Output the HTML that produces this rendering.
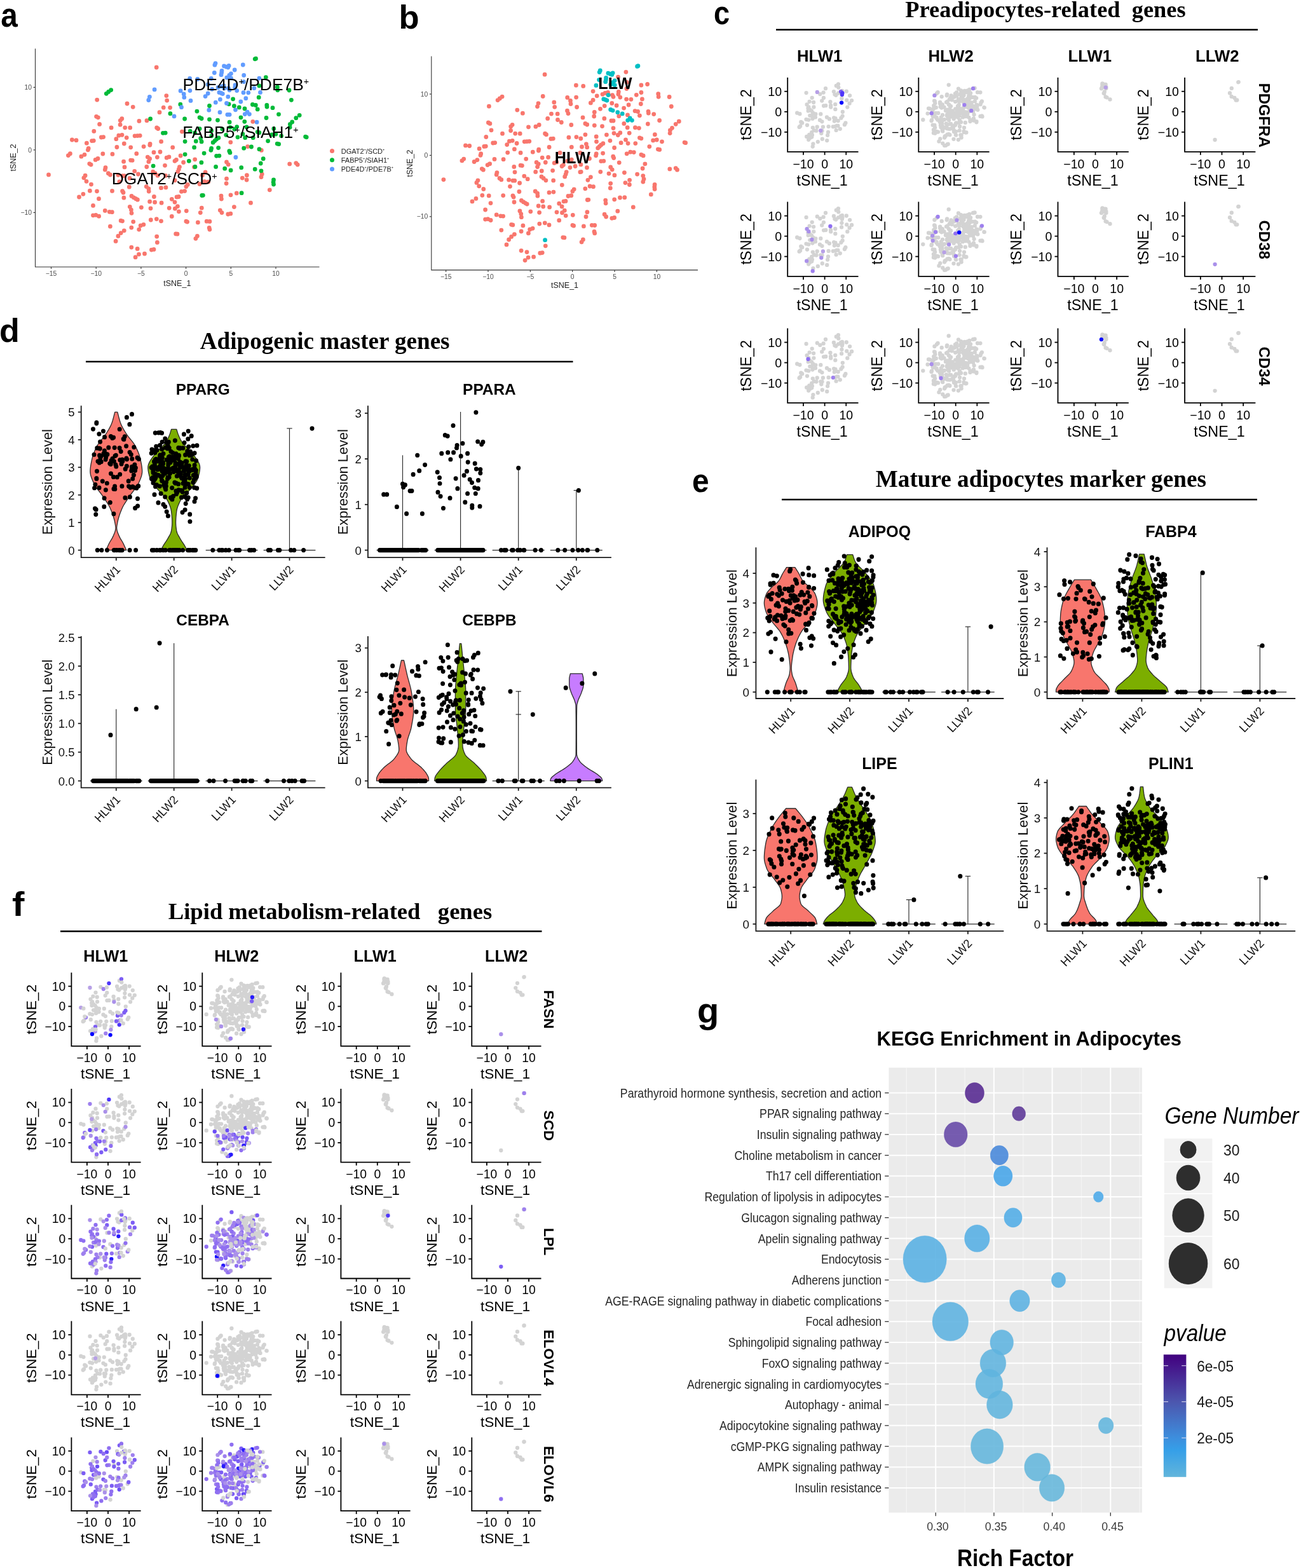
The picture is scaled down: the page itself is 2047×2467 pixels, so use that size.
<!DOCTYPE html>
<html lang="en">
<head>
<meta charset="utf-8">
<title>Figure</title>
<style>
html,body{margin:0;padding:0;background:#fff;}
body{width:2047px;height:2467px;overflow:hidden;font-family:"Liberation Sans",Arial,sans-serif;}
svg{display:block;}
text{white-space:pre;}
</style>
</head>
<body>
<svg width="2047" height="2467" viewBox="0 0 2047 2467" role="img" aria-label="Figure with panels a to g" font-family="'Liberation Sans', Arial, sans-serif">
<rect x="0" y="0" width="2047" height="2467" fill="#fff" />
<text x="1.2" y="42" font-size="53" font-weight="bold" fill="#000" textLength="26.53" lengthAdjust="spacingAndGlyphs">a</text>
<path d="M246.2 106h0M152.7 157.1h0M261.8 150.6h0M262.7 158.1h0M200 163h0M209.2 168.3h0M257.2 169.2h0M267.6 169.3h0M251 176.7h0M151.6 183.3h0M154.3 184.8h0M191.8 186.7h0M189.3 189.6h0M231 189.7h0M218.9 190.4h0M156.6 195.4h0M189.1 196.2h0M175.1 200.9h0M196.7 200.8h0M204.7 200.9h0M246.7 200.9h0M248.7 202.5h0M147.8 206.4h0M186.8 213.2h0M192 212.3h0M212.1 213.8h0M216.2 213.6h0M220.2 213.3h0M159.4 216h0M162.6 215.6h0M199.2 216.6h0M182.8 218.7h0M113.4 220h0M120 220.7h0M144.6 221.6h0M147.3 221.3h0M136.4 225.2h0M195.3 226h0M253.6 222.7h0M236.1 226.5h0M235.8 228.3h0M226.1 230.6h0M183.9 231.5h0M205.7 231.8h0M139.2 233.5h0M138.4 235.8h0M252 239h0M242 239.7h0M397.8 191.3h0M286.4 207.1h0M362.8 223.8h0M271.7 231.9h0M389.7 230.6h0M411.3 236.4h0M110.4 241.7h0M107.4 244.6h0M161.8 242h0M176.9 242.4h0M214.8 241.7h0M133 243.3h0M127.9 246.2h0M232.3 247.1h0M235.6 249.7h0M233.9 254.4h0M247.4 247.3h0M262.2 248.2h0M154 249.5h0M150.2 251.4h0M205.7 252.1h0M208.1 252.4h0M194.6 254.2h0M140.8 257.6h0M143.1 259.1h0M259.5 260.3h0M230.8 262.5h0M196 262.9h0M166 263.7h0M165.3 266.9h0M211.7 269.3h0M217.5 274h0M240.7 270.1h0M244 272.7h0M248.1 276.2h0M260.6 276.3h0M170.4 272.7h0M173.4 275h0M185.9 275.3h0M192.9 276.6h0M195.6 276.6h0M76.5 274.9h0M134.1 276.2h0M131.9 279.8h0M136 285.3h0M204.1 280.4h0M187.9 285.9h0M143.5 290.1h0M203.3 294.2h0M230.3 293.6h0M233.9 297h0M234.2 301.1h0M253.5 295.7h0M260.9 294.9h0M141.4 300.2h0M152.5 300.8h0M176.5 300.4h0M192.6 300.7h0M194 303h0M130.9 305.3h0M124.5 310h0M207 308.4h0M210.4 310.8h0M213.8 312.7h0M216.4 314.2h0M242.4 309.5h0M194.9 311.2h0M155.5 312.7h0M235.6 317.2h0M243.6 318.2h0M254.1 319.2h0M270.3 313.3h0M146.5 323.4h0M204.3 325.3h0M206.4 330.1h0M207 335.3h0M222.4 326.3h0M237 327.8h0M266.2 327.3h0M165.3 331.4h0M172.3 333.3h0M176.3 333.7h0M146.5 338.8h0M150.8 338.3h0M155.6 340.2h0M270.3 340.4h0M246.3 344.6h0M237.3 346h0M253.5 347.8h0M190.2 347.2h0M192.5 347.8h0M209.7 348.8h0M225.9 353.3h0M221.2 354.9h0M173.4 356.2h0M206.8 358.1h0M218.7 361.1h0M195.3 362.8h0M190.2 366.6h0M185.9 371.4h0M182.1 379.4h0M246.7 372.1h0M247.4 381.4h0M206.8 389.1h0M216.2 391.4h0M238.4 393.1h0M242 392.4h0M218.5 400.1h0M227.5 399.2h0M213.1 404.7h0M284.1 245h0M265.9 246.9h0M277.4 251.4h0M275 253.3h0M306.7 250.8h0M288.6 255.5h0M356.5 254.9h0M359.2 258.8h0M455.7 257.9h0M465.8 256.6h0M468.2 259.1h0M305.6 262.8h0M282.5 262.6h0M281.4 266.2h0M279.8 270.1h0M412.2 274h0M411 278.5h0M323.1 270.9h0M318.4 275.7h0M388.4 275.7h0M381.3 280.1h0M388.1 283h0M356.5 281.1h0M356.1 288.6h0M275.1 283.7h0M321.8 285.6h0M327.6 286.2h0M314 289.5h0M295.3 290.5h0M292.9 293.6h0M424.3 298.8h0M285.5 301.3h0M290.6 300.6h0M372.3 303.9h0M363 306.8h0M348 308.2h0M348.4 313h0M278.1 309.9h0M281.1 309.5h0M275 318.1h0M394.5 319.2h0M368.4 325.6h0M279.4 324.6h0M275.4 328.2h0M317.3 327.2h0M315.3 334.6h0M281.4 332.8h0M293.3 331.8h0M346.3 330.8h0M349 334.6h0M358.8 337h0M362.8 336.2h0M292.9 348.2h0M294.6 349.1h0M311.4 349.9h0M325.2 348.2h0M329.9 348.4h0M329.2 358.5h0M329.9 361.1h0M276.7 367.9h0M279 368.2h0M310.4 371.4h0M307.9 375.3h0" stroke="#F8766D" stroke-width="6.8" stroke-linecap="round" fill="none" />
<path d="M174.7 141.6h0M170.7 144.4h0M167.3 147.3h0M267.9 178.7h0M236.6 187h0M256.5 209.3h0M260.2 209.1h0M402.5 92.2h0M401.2 92.8h0M360.1 163.8h0M368.4 166.7h0M376.3 168.9h0M418.3 121.6h0M407.9 134.9h0M436.4 137.1h0M436.8 141.8h0M455 142h0M366.6 155.8h0M407.2 153.2h0M458.4 157.3h0M283.8 164.2h0M397.4 164.5h0M402.3 165.5h0M405.2 171.9h0M419.8 165.5h0M420 168h0M429 169.7h0M329.5 166.5h0M385 171h0M309.9 175.1h0M438.5 179.8h0M471.2 181.3h0M465.8 185.7h0M379 184.8h0M419 185.5h0M290.6 187h0M314.1 184.8h0M317.1 186.5h0M329.5 187.8h0M342.5 189.1h0M384.8 191.3h0M361.1 192.2h0M459.7 191.9h0M456.4 195.5h0M456.1 200.3h0M372.7 199.6h0M362.2 200.3h0M368.9 203.3h0M388 200h0M349.8 202.9h0M314.1 202.6h0M430.8 202.5h0M332.6 205.7h0M299.2 206.5h0M306.6 208.9h0M405.2 207.6h0M407.9 208.7h0M381.9 210.9h0M355.7 212.3h0M427.8 211.9h0M433.9 211h0M442.6 213.8h0M332.8 213.8h0M374 215.8h0M385.7 216.7h0M398.2 216.7h0M480.6 215.1h0M482.2 215.8h0M315.7 217.7h0M317.1 222.9h0M344 216.8h0M340.6 219h0M337.9 221.6h0M335.2 224.2h0M291.1 222.6h0M308.3 222.2h0M421.6 221.8h0M436.2 226.1h0M438.6 226.7h0M332.6 233.5h0M343.6 232.6h0M383.7 233.2h0M395.5 231h0M407.9 234.7h0M360.8 237.7h0M305.6 231.9h0M241.1 261.1h0M331.9 236.3h0M361.9 240.2h0M321.1 241.1h0M291.1 242.8h0M340.6 245.3h0M344.9 245.1h0M414.2 249.7h0M297.3 253.3h0M316.9 255.7h0M410.2 257h0M339.6 262.4h0M307 262.4h0M379.7 263.7h0M353.7 265.2h0M363.1 267.9h0M401.2 266.2h0M411 268.8h0M430.5 283h0M430.1 286.6h0M430.5 290.1h0M380.1 303.7h0M317.8 307.5h0M319.4 307.3h0" stroke="#00BA38" stroke-width="6.8" stroke-linecap="round" fill="none" />
<path d="M243.1 140.9h0M235.4 152.3h0M233.8 157.5h0M339 99.6h0M337.9 102.2h0M352.5 103.9h0M360.1 103.5h0M358.8 106.1h0M356.1 105.2h0M349 111.3h0M348.7 114.2h0M348 117.7h0M337.3 114.5h0M363.5 115.8h0M360.8 118.4h0M356.8 122.2h0M363.5 122.9h0M332.3 123.5h0M344.9 145.4h0M348 146.5h0M350.3 147.6h0M352.7 139h0M356.5 162.5h0M389.1 176.2h0M385.3 179.6h0M392.4 179.6h0M382.3 102h0M369.2 110h0M407.9 123.1h0M298.6 123.3h0M310.8 124.5h0M383.7 118.4h0M383.4 128.7h0M327.2 132.9h0M399.8 138.7h0M343.1 137.7h0M347.4 135.8h0M352.1 134.9h0M352.7 138.4h0M359.5 139h0M361.1 141.8h0M370 133.8h0M369.6 137.7h0M372.7 142.6h0M333.6 140.3h0M284.1 142.9h0M298.9 142.6h0M383 145.7h0M390.8 145.8h0M409.5 145.4h0M327.2 147h0M323.1 151.6h0M289.2 148h0M289.8 153.2h0M358.8 152.2h0M386.8 154.7h0M346.4 156.4h0M339.3 161.2h0M300 158.4h0M378.8 160h0M285.5 168.7h0M328.8 173.2h0M370.5 172.8h0M346 176.7h0M274 182.9h0M357.9 180.3h0M361.1 180.3h0M404.1 192.2h0M370.9 247.5h0" stroke="#619CFF" stroke-width="6.8" stroke-linecap="round" fill="none" />
<path d="M55.5 76.5V420H502.5" stroke="#333" stroke-width="1.1" fill="none" />
<line x1="80.5" y1="420" x2="80.5" y2="423" stroke="#333" stroke-width="1.1" />
<text x="80.5" y="434.2" font-size="10.3" text-anchor="middle" fill="#4d4d4d">−15</text>
<line x1="151.2" y1="420" x2="151.2" y2="423" stroke="#333" stroke-width="1.1" />
<text x="151.2" y="434.2" font-size="10.3" text-anchor="middle" fill="#4d4d4d">−10</text>
<line x1="221.9" y1="420" x2="221.9" y2="423" stroke="#333" stroke-width="1.1" />
<text x="221.9" y="434.2" font-size="10.3" text-anchor="middle" fill="#4d4d4d">−5</text>
<line x1="292.6" y1="420" x2="292.6" y2="423" stroke="#333" stroke-width="1.1" />
<text x="292.6" y="434.2" font-size="10.3" text-anchor="middle" fill="#4d4d4d">0</text>
<line x1="363.3" y1="420" x2="363.3" y2="423" stroke="#333" stroke-width="1.1" />
<text x="363.3" y="434.2" font-size="10.3" text-anchor="middle" fill="#4d4d4d">5</text>
<line x1="434" y1="420" x2="434" y2="423" stroke="#333" stroke-width="1.1" />
<text x="434" y="434.2" font-size="10.3" text-anchor="middle" fill="#4d4d4d">10</text>
<line x1="52.5" y1="334.4" x2="55.5" y2="334.4" stroke="#333" stroke-width="1.1" />
<text x="50" y="338" font-size="10.3" text-anchor="end" fill="#4d4d4d">−10</text>
<line x1="52.5" y1="235.9" x2="55.5" y2="235.9" stroke="#333" stroke-width="1.1" />
<text x="50" y="239.5" font-size="10.3" text-anchor="end" fill="#4d4d4d">0</text>
<line x1="52.5" y1="137.4" x2="55.5" y2="137.4" stroke="#333" stroke-width="1.1" />
<text x="50" y="141" font-size="10.3" text-anchor="end" fill="#4d4d4d">10</text>
<text x="278.8" y="449.8" font-size="12.5" text-anchor="middle" fill="#222">tSNE_1</text>
<text x="24.8" y="248" font-size="12.5" text-anchor="middle" fill="#222" transform="rotate(-90 24.8 248)">tSNE_2</text>
<text x="287.6" y="141.6" font-size="26.4" fill="#000">PDE4D<tspan dy="-8.18" font-size="14.26">+</tspan><tspan dy="8.18">/PDE7B</tspan><tspan dy="-8.18" font-size="14.26">+</tspan></text>
<text x="287.2" y="217.1" font-size="26.4" fill="#000">FABP5<tspan dy="-8.18" font-size="14.26">+</tspan><tspan dy="8.18">/SIAH1</tspan><tspan dy="-8.18" font-size="14.26">+</tspan></text>
<text x="175.8" y="290.4" font-size="26.4" fill="#000">DGAT2<tspan dy="-8.18" font-size="14.26">+</tspan><tspan dy="8.18">/SCD</tspan><tspan dy="-8.18" font-size="14.26">+</tspan></text>
<circle cx="522.5" cy="237.6" r="3.5" fill="#F8766D" />
<text x="536.7" y="241.5" font-size="11" fill="#222">DGAT2<tspan dy="-4.4" font-size="5.5">+</tspan><tspan dy="4.4">/SCD</tspan><tspan dy="-4.4" font-size="5.5">+</tspan></text>
<circle cx="522.5" cy="251.75" r="3.5" fill="#00BA38" />
<text x="536.7" y="255.65" font-size="11" fill="#222">FABP5<tspan dy="-4.4" font-size="5.5">+</tspan><tspan dy="4.4">/SIAH1</tspan><tspan dy="-4.4" font-size="5.5">+</tspan></text>
<circle cx="522.5" cy="265.9" r="3.5" fill="#619CFF" />
<text x="536.7" y="269.8" font-size="11" fill="#222">PDE4D<tspan dy="-4.4" font-size="5.5">+</tspan><tspan dy="4.4">/PDE7B</tspan><tspan dy="-4.4" font-size="5.5">+</tspan></text>
<text x="627.5" y="44.5" font-size="52.5" font-weight="bold" fill="#000" textLength="32.07" lengthAdjust="spacingAndGlyphs">b</text>
<path d="M857.1 117.2h0M854.2 151.5h0M790.1 152.1h0M786.3 154.9h0M783.1 157.6h0M769.4 167.2h0M847 162.6h0M845.5 167.6h0M871.8 160.9h0M872.7 168.3h0M813.8 173.1h0M822.4 178.2h0M867.5 179.1h0M877.2 179.2h0M861.7 186.4h0M877.5 188.5h0M768.4 192.9h0M770.9 194.4h0M806.1 196.3h0M803.7 199.1h0M848.2 196.5h0M842.9 199.2h0M831.5 199.8h0M773 204.8h0M803.6 205.5h0M790.5 210.2h0M810.7 210.1h0M818.2 210.2h0M857.6 210.2h0M859.5 211.7h0M764.8 215.5h0M866.9 218.4h0M870.3 218.1h0M801.4 222.2h0M806.2 221.3h0M825.2 222.8h0M829 222.6h0M832.8 222.3h0M775.7 225h0M778.7 224.6h0M813.1 225.5h0M797.7 227.6h0M732.5 228.9h0M738.7 229.5h0M761.8 230.4h0M764.3 230.1h0M754.1 233.9h0M809.4 234.7h0M864.1 231.5h0M847.7 235.2h0M847.4 237h0M838.3 239.2h0M798.7 240.1h0M819.1 240.4h0M756.7 242h0M756 244.3h0M862.6 247.4h0M853.2 248.1h0M984.9 113.3h0M972.5 121.1h0M1008.9 134h0M1018.6 132.5h0M906.4 134.2h0M917.7 135.4h0M986.2 129.4h0M985.9 139.5h0M933.1 143.6h0M1008.9 145.5h0M1001.3 149.3h0M1035.7 147.7h0M1036.1 152.3h0M1053.1 152.5h0M948 148.3h0M952.1 146.4h0M956.5 145.5h0M957.1 148.9h0M963.5 149.6h0M965 152.3h0M973.3 144.5h0M972.9 148.3h0M975.8 153.1h0M939.2 150.8h0M892.7 153.4h0M906.6 153.1h0M985.6 156.1h0M992.9 156.3h0M1010.4 155.9h0M933.1 157.4h0M929.4 161.9h0M897.5 158.4h0M898 163.5h0M962.8 162.4h0M970.1 166h0M989.1 165h0M1008.3 163.5h0M951.2 166.6h0M944.5 171.3h0M907.6 168.5h0M1056.3 167.5h0M981.6 170.1h0M892.5 174.2h0M894 178.6h0M999.1 174.6h0M1003.6 175.5h0M1006.4 181.8h0M1020 175.5h0M1020.3 178h0M1028.7 179.6h0M935.3 176.5h0M934.7 183h0M987.5 180.9h0M973.8 182.7h0M917 184.9h0M950.8 186.4h0M883.3 192.5h0M961.9 190h0M965 190h0M1037.6 189.5h0M1068.3 191h0M1063.2 195.3h0M981.8 194.4h0M1019.3 195h0M898.8 196.5h0M920.9 194.4h0M923.7 196h0M935.3 197.3h0M947.5 198.6h0M987.2 200.7h0M965 201.6h0M999.4 200.7h0M1005.4 201.6h0M1057.5 201.3h0M1054.4 204.9h0M1054.1 209.6h0M975.8 208.9h0M966 209.6h0M972.3 212.5h0M990.2 209.3h0M954.4 212.1h0M920.9 211.8h0M1030.4 211.7h0M938.2 214.9h0M906.9 215.6h0M894.9 216.2h0M913.8 218h0M1006.4 216.8h0M1008.9 217.8h0M984.5 219.9h0M959.9 221.3h0M1027.6 220.9h0M1033.3 220h0M1041.5 222.8h0M938.5 222.8h0M977.1 224.7h0M988.1 225.6h0M999.8 225.6h0M1077.1 224.1h0M1078.6 224.7h0M922.4 226.6h0M923.7 231.7h0M948.9 225.7h0M945.8 227.9h0M943.2 230.4h0M940.7 232.9h0M899.3 231.4h0M915.5 231h0M1021.8 230.6h0M966.6 232.5h0M1035.4 234.8h0M1037.7 235.4h0M881.1 240.5h0M938.2 242h0M948.6 241.1h0M986.2 241.8h0M991.9 239.2h0M997.3 239.6h0M1008.9 243.3h0M1012.1 244.9h0M964.7 246.2h0M912.9 240.5h0M729.7 250.1h0M726.9 252.9h0M778 250.4h0M792.1 250.7h0M827.7 250.1h0M750.9 251.6h0M746.1 254.5h0M844.1 255.4h0M847.2 257.9h0M845.6 262.5h0M858.3 255.5h0M872.2 256.4h0M770.6 257.7h0M767.1 259.6h0M819.1 260.2h0M821.4 260.6h0M808.8 262.4h0M758.3 265.6h0M760.4 267.2h0M852.3 269h0M869.6 268.3h0M842.7 270.4h0M810 270.8h0M781.9 271.6h0M781.2 274.7h0M824.8 277.1h0M830.2 281.7h0M852 277.9h0M855.1 280.4h0M858.9 283.8h0M870.7 283.9h0M786 280.4h0M788.8 282.7h0M800.6 282.9h0M807.1 284.2h0M809.7 284.2h0M697.9 282.6h0M751.9 283.8h0M749.9 287.4h0M753.7 292.8h0M817.6 288h0M802.5 293.3h0M760.8 297.5h0M816.9 301.5h0M842.2 300.9h0M845.6 304.2h0M845.9 308.2h0M864 302.9h0M870.9 302.1h0M758.8 307.3h0M769.2 307.9h0M791.7 307.6h0M806.9 307.8h0M808.1 310.1h0M748.9 312.4h0M743 316.9h0M820.4 315.4h0M823.5 317.7h0M826.7 319.6h0M829.2 321.1h0M853.6 316.4h0M809 318h0M772 319.6h0M847.2 324h0M854.7 325h0M864.6 325.9h0M879.7 320.2h0M763.6 330h0M817.9 331.9h0M819.8 336.6h0M820.4 341.7h0M834.8 332.8h0M848.6 334.3h0M876 333.8h0M781.2 337.9h0M787.8 339.8h0M791.6 340.1h0M763.6 345.1h0M767.6 344.6h0M772.1 346.5h0M879.7 346.7h0M857.3 350.8h0M848.8 352.1h0M864 353.9h0M804.6 353.3h0M806.8 353.9h0M822.9 354.9h0M838.1 359.3h0M833.7 360.9h0M788.8 362.1h0M820.1 364h0M831.4 366.9h0M809.4 368.6h0M804.6 372.4h0M800.6 377h0M797 384.9h0M858.3 386.8h0M820.1 394.3h0M829 396.6h0M849.8 398.2h0M853.2 397.6h0M831.1 405.1h0M839.6 404.2h0M826.1 409.6h0M937.6 244.8h0M965.7 248.6h0M927.5 249.5h0M899.3 251.1h0M892.7 253.3h0M945.8 253.6h0M949.8 253.4h0M974.2 255.8h0M875.7 255.2h0M1014.9 257.9h0M886.4 259.6h0M884.1 261.5h0M913.9 258.9h0M905.1 261.5h0M896.9 263.6h0M923.5 263.7h0M960.7 263h0M963.2 266.8h0M1011.1 265h0M1053.8 265.9h0M1063.2 264.6h0M1065.5 267.2h0M944.8 270.3h0M914.2 270.3h0M912.9 270.7h0M891.2 270.6h0M890.2 274.1h0M888.7 277.9h0M982.4 271.6h0M958 273.1h0M966.9 275.7h0M1002.6 274.1h0M1011.8 276.6h0M1013 281.7h0M1011.8 286.1h0M929.4 278.6h0M924.9 283.3h0M990.6 283.3h0M983.9 287.6h0M990.4 290.5h0M960.7 288.6h0M960.3 295.9h0M884.3 291.1h0M928.1 293h0M933.5 293.7h0M920.8 296.8h0M1030.1 290.5h0M1029.8 294.1h0M1030.1 297.5h0M903.2 297.8h0M900.9 300.9h0M1024.3 305.9h0M894 308.5h0M898.8 307.7h0M975.5 311h0M982.8 310.7h0M966.7 313.8h0M924.3 314.5h0M925.8 314.3h0M952.7 315.1h0M953.1 319.8h0M887 316.8h0M890 316.4h0M884.1 324.9h0M996.3 325.9h0M971.8 332.2h0M888.3 331.2h0M884.5 334.7h0M923.9 333.7h0M922 341h0M890.2 339.3h0M901.3 338.3h0M951.1 337.2h0M953.6 341h0M962.8 343.3h0M966.6 342.5h0M900.9 354.3h0M902.6 355.2h0M918.4 355.9h0M931.3 354.3h0M935.7 354.5h0M935 364.4h0M935.7 366.9h0M885.8 373.6h0M887.9 373.9h0M917.4 377h0M915.1 380.8h0" stroke="#F8766D" stroke-width="6.8" stroke-linecap="round" fill="none" />
<path d="M1003.9 103.7h0M1002.6 104.4h0M944.3 111h0M943.2 113.6h0M956.9 115.2h0M964.1 114.8h0M962.8 117.4h0M960.3 116.5h0M953.6 122.4h0M953.4 125.3h0M952.7 128.7h0M942.6 125.6h0M967.2 126.8h0M964.7 129.4h0M960.9 133.1h0M967.2 133.8h0M937.9 134.4h0M949.8 155.9h0M952.7 156.9h0M954.9 158h0M957.1 149.6h0M960.7 172.5h0M964.1 173.8h0M971.8 176.7h0M979.2 178.9h0M991.2 185.9h0M987.7 189.3h0M994.4 189.3h0M857.6 377.7h0" stroke="#00BFC4" stroke-width="6.8" stroke-linecap="round" fill="none" />
<path d="M678.8 88.5V424.9H1098" stroke="#333" stroke-width="1.1" fill="none" />
<line x1="701.65" y1="424.9" x2="701.65" y2="427.9" stroke="#333" stroke-width="1.1" />
<text x="701.65" y="439.1" font-size="10.3" text-anchor="middle" fill="#4d4d4d">−15</text>
<line x1="768" y1="424.9" x2="768" y2="427.9" stroke="#333" stroke-width="1.1" />
<text x="768" y="439.1" font-size="10.3" text-anchor="middle" fill="#4d4d4d">−10</text>
<line x1="834.35" y1="424.9" x2="834.35" y2="427.9" stroke="#333" stroke-width="1.1" />
<text x="834.35" y="439.1" font-size="10.3" text-anchor="middle" fill="#4d4d4d">−5</text>
<line x1="900.7" y1="424.9" x2="900.7" y2="427.9" stroke="#333" stroke-width="1.1" />
<text x="900.7" y="439.1" font-size="10.3" text-anchor="middle" fill="#4d4d4d">0</text>
<line x1="967.05" y1="424.9" x2="967.05" y2="427.9" stroke="#333" stroke-width="1.1" />
<text x="967.05" y="439.1" font-size="10.3" text-anchor="middle" fill="#4d4d4d">5</text>
<line x1="1033.4" y1="424.9" x2="1033.4" y2="427.9" stroke="#333" stroke-width="1.1" />
<text x="1033.4" y="439.1" font-size="10.3" text-anchor="middle" fill="#4d4d4d">10</text>
<line x1="675.8" y1="340.8" x2="678.8" y2="340.8" stroke="#333" stroke-width="1.1" />
<text x="673.3" y="344.4" font-size="10.3" text-anchor="end" fill="#4d4d4d">−10</text>
<line x1="675.8" y1="244.4" x2="678.8" y2="244.4" stroke="#333" stroke-width="1.1" />
<text x="673.3" y="248" font-size="10.3" text-anchor="end" fill="#4d4d4d">0</text>
<line x1="675.8" y1="148" x2="678.8" y2="148" stroke="#333" stroke-width="1.1" />
<text x="673.3" y="151.6" font-size="10.3" text-anchor="end" fill="#4d4d4d">10</text>
<text x="888.5" y="453.2" font-size="12.5" text-anchor="middle" fill="#222">tSNE_1</text>
<text x="648.5" y="257" font-size="12.5" text-anchor="middle" fill="#222" transform="rotate(-90 648.5 257)">tSNE_2</text>
<text x="941.3" y="140.2" font-size="25.2" font-weight="bold" fill="#000">LLW</text>
<text x="872.8" y="256.6" font-size="25.2" font-weight="bold" fill="#000">HLW</text>
<text x="1123" y="37.5" font-size="52" font-weight="bold" fill="#000" textLength="25.16" lengthAdjust="spacingAndGlyphs">c</text>
<text x="1645" y="26.7" font-size="36.4" text-anchor="middle" font-weight="bold" font-family="'Liberation Serif', 'Times New Roman', serif" fill="#000">Preadipocytes-related  genes</text>
<line x1="1221" y1="46.8" x2="1979" y2="46.8" stroke="#000" stroke-width="2.6" />
<text x="1289.6" y="97" font-size="25.7" text-anchor="middle" font-weight="bold" fill="#000">HLW1</text>
<text x="1496.1" y="97" font-size="25.7" text-anchor="middle" font-weight="bold" fill="#000">HLW2</text>
<text x="1714.8" y="97" font-size="25.7" text-anchor="middle" font-weight="bold" fill="#000">LLW1</text>
<text x="1915.2" y="97" font-size="25.7" text-anchor="middle" font-weight="bold" fill="#000">LLW2</text>
<path d="M1268.6 146.1h0M1290.3 148.1h0M1277.7 153.8h0M1273.6 159.8h0M1280.1 161h0M1269.6 164.4h0M1272.4 168.4h0M1280.4 168.5h0M1271.5 170.2h0M1274.4 172.6h0M1271.7 174.4h0M1276.9 174.5h0M1319 132.3h0M1315.8 134.9h0M1299 139.2h0M1319.3 137.6h0M1325 143h0M1331.8 143.7h0M1311.9 144.1h0M1295.6 145.6h0M1319.1 146.5h0M1313.4 148.6h0M1315.2 149.8h0M1337.1 150.3h0M1295.9 154h0M1324.4 155h0M1293.2 158.6h0M1332.3 157.6h0M1340.1 158.1h0M1306.4 160.2h0M1336.6 162.7h0M1314.2 164.2h0M1307.1 166h0M1299.2 166.2h0M1296.1 166.5h0M1333.3 168.6h0M1307.2 168.6h0M1314.3 171.9h0M1325.8 176h0M1254.2 177.7h0M1279.1 177.7h0M1258.4 179.2h0M1283.3 179.5h0M1277.5 181.2h0M1274.3 181.8h0M1282.9 184.4h0M1278.4 186.7h0M1290 188.9h0M1268.5 187.8h0M1272.2 188.6h0M1260.3 191.9h0M1262.1 193.4h0M1270 196.8h0M1259.1 198.4h0M1257.6 199.9h0M1278.8 200.8h0M1285.7 199.7h0M1277.2 208.1h0M1280.9 205.2h0M1284.4 205.7h0M1292.3 209.8h0M1273.2 211.9h0M1273.8 212.2h0M1277.9 212.5h0M1269.2 214.9h0M1277.2 215.5h0M1274.4 217h0M1272.2 219.8h0M1286.8 223.1h0M1279.4 226.3h0M1278.7 230.6h0M1291.3 179.4h0M1325.6 182.6h0M1301 184.4h0M1312.1 185.3h0M1314.4 186.2h0M1323.4 185.7h0M1304.9 187.2h0M1318.7 190.1h0M1312.8 190.5h0M1293.4 191.3h0M1330.4 193.4h0M1328.9 196.2h0M1316.6 197.9h0M1318.4 197.8h0M1314.3 198.8h0M1303.6 199.1h0M1310.8 199.3h0M1294.9 199.7h0M1321.8 202.8h0M1315.6 204.9h0M1293.5 205.8h0M1303 207.9h0M1302.1 212.8h0M1293.8 218.7h0M1301.2 221.1h0" stroke="#d3d3d3" stroke-width="6.3" stroke-linecap="round" fill="none" />
<path d="M1323.1 144.2h0" stroke="#7c5df4" stroke-width="6.3" stroke-linecap="round" fill="none" />
<path d="M1285.8 144.9h0M1291.3 205.5h0" stroke="#b7a0e6" stroke-width="6.3" stroke-linecap="round" fill="none" />
<path d="M1324.1 161.6h0" stroke="#0000ff" stroke-width="6.3" stroke-linecap="round" fill="none" />
<path d="M1325.4 146.4h0M1324.9 148.9h0" stroke="#4f36f9" stroke-width="6.3" stroke-linecap="round" fill="none" />
<path d="M1239.2 122.1V238.8H1350.5" stroke="#000" stroke-width="1.8" fill="none" />
<line x1="1263.95" y1="238.8" x2="1263.95" y2="243.8" stroke="#000" stroke-width="1.8" />
<text x="1263.95" y="265.1" font-size="19.5" text-anchor="middle" fill="#000">−10</text>
<line x1="1234.2" y1="207.8" x2="1239.2" y2="207.8" stroke="#000" stroke-width="1.8" />
<text x="1230" y="214.72" font-size="19.5" text-anchor="end" fill="#000">−10</text>
<line x1="1297.6" y1="238.8" x2="1297.6" y2="243.8" stroke="#000" stroke-width="1.8" />
<text x="1297.6" y="265.1" font-size="19.5" text-anchor="middle" fill="#000">0</text>
<line x1="1234.2" y1="175.8" x2="1239.2" y2="175.8" stroke="#000" stroke-width="1.8" />
<text x="1230" y="182.72" font-size="19.5" text-anchor="end" fill="#000">0</text>
<line x1="1331.25" y1="238.8" x2="1331.25" y2="243.8" stroke="#000" stroke-width="1.8" />
<text x="1331.25" y="265.1" font-size="19.5" text-anchor="middle" fill="#000">10</text>
<line x1="1234.2" y1="143.8" x2="1239.2" y2="143.8" stroke="#000" stroke-width="1.8" />
<text x="1230" y="150.72" font-size="19.5" text-anchor="end" fill="#000">10</text>
<text x="1293.56" y="291.8" font-size="23.3" text-anchor="middle" fill="#000">tSNE_1</text>
<text x="1181.9" y="180.45" font-size="23.3" text-anchor="middle" fill="#000" transform="rotate(-90 1181.9 180.45)">tSNE_2</text>
<path d="M1492.7 133.6h0M1475.6 145.2h0M1473.9 147h0M1490.1 148.6h0M1489.7 150.3h0M1496.6 150.5h0M1481.7 152.1h0M1495.3 154.1h0M1497.7 154.2h0M1493.8 156.6h0M1497.8 157.2h0M1470.1 158.7h0M1470.8 159.2h0M1479.1 160.8h0M1490.4 159.9h0M1489 160.8h0M1471.3 162.6h0M1479.1 162.9h0M1480.9 164.4h0M1482.8 164.4h0M1492.8 164.4h0M1493.3 164.9h0M1469.2 166.2h0M1495.1 167.2h0M1496 167.1h0M1479.7 168.1h0M1484.6 168.6h0M1485.5 168.6h0M1472 169.3h0M1472.8 169.2h0M1481.5 169.5h0M1461 170.6h0M1462.6 170.9h0M1468.5 171.1h0M1469.1 171.1h0M1466.5 172.3h0M1494.4 171.5h0M1490.3 172.7h0M1490.2 173.3h0M1487.9 174.1h0M1467.2 175h0M1467 175.8h0M1494 176.8h0M1491.7 177h0M1533.6 138.7h0M1508 139.6h0M1525.3 141h0M1511.9 142.3h0M1538 145.2h0M1542.4 145.3h0M1515.7 143.9h0M1516.7 143.3h0M1517.9 143h0M1519.6 144.3h0M1520 145.2h0M1522.1 142.6h0M1522 143.9h0M1522.8 145.5h0M1513.5 144.7h0M1505.2 145.5h0M1527.1 146.5h0M1511.9 146.9h0M1511 148.4h0M1502.9 147.3h0M1503 148.9h0M1526.1 149.4h0M1516.5 150h0M1514.8 151.5h0M1505.5 150.6h0M1524.2 151.2h0M1501.6 152.5h0M1528.6 152.6h0M1529.8 152.9h0M1534 152.9h0M1534 153.8h0M1536.2 154.3h0M1512.5 153.2h0M1512.3 155.4h0M1525.7 154.7h0M1522.2 155.3h0M1507.8 156.1h0M1516.4 156.6h0M1519.2 157.7h0M1520 157.7h0M1544.9 159.5h0M1524.3 159.2h0M1533.8 159.4h0M1503.2 159.9h0M1508.8 159.2h0M1509.5 159.7h0M1515.6 160.6h0M1525.6 161.3h0M1520 161.6h0M1528.7 161.3h0M1543.5 161.5h0M1542.6 164.2h0M1522.8 164h0M1521.9 165.2h0M1526.4 164.1h0M1508.8 165h0M1536.6 164.9h0M1507 167h0M1530.5 166.6h0M1531.1 167h0M1525 167.7h0M1518.7 168.1h0M1535.9 168h0M1537.3 167.7h0M1523.1 169.3h0M1525.9 169.6h0M1528.8 169.6h0M1548.4 169.1h0M1548.8 169.3h0M1509.2 169.9h0M1509.5 171.6h0M1515.9 169.6h0M1515.1 170.3h0M1514.5 171.1h0M1513.8 172h0M1503.3 171.5h0M1507.4 171.4h0M1534.4 171.2h0M1537.9 172.6h0M1538.4 172.8h0M1498.7 174.5h0M1513.2 175h0M1515.8 174.7h0M1525.4 174.9h0M1526.8 174.1h0M1531.1 175.4h0M1519.9 176.4h0M1506.8 174.5h0M1459.6 178.6h0M1472.6 177.8h0M1476.2 177.9h0M1490.1 180.3h0M1489.7 181.8h0M1492.9 179.5h0M1496.5 179.8h0M1470.7 180.2h0M1469.8 180.8h0M1483 181h0M1467.6 182.8h0M1468.1 183.4h0M1491.4 184h0M1495.8 183.7h0M1480.7 184.6h0M1473.6 184.8h0M1473.4 185.9h0M1485.8 188.2h0M1491.3 186.9h0M1492.1 187.8h0M1493.1 188.9h0M1475.3 188.5h0M1480 189h0M1480.6 189h0M1452.3 188.5h0M1466 188.9h0M1465.5 190.1h0M1482.6 190.3h0M1478.8 192h0M1482.4 194.8h0M1488.9 194.5h0M1489.7 195.6h0M1489.8 197h0M1494.4 195.2h0M1496.1 195h0M1467.7 196.7h0M1470.4 196.9h0M1479.9 196.9h0M1480.2 197.6h0M1483.3 199.4h0M1484.1 200.1h0M1485.6 201.3h0M1480.5 200.2h0M1471.1 200.8h0M1490.1 202.2h0M1492 202.6h0M1494.5 202.8h0M1498.4 201h0M1468.9 204.2h0M1482.7 204.9h0M1483.2 206.4h0M1473.4 206.8h0M1475.1 207.5h0M1476 207.6h0M1468.9 209.2h0M1469.9 209.1h0M1471.1 209.7h0M1492.7 211.1h0M1490.5 211.6h0M1494.4 212.2h0M1487.8 214h0M1486.7 214.5h0M1486.1 216.5h0M1479.3 218.3h0M1477.4 222.4h0M1483.3 225.6h0M1490.8 226.9h0M1491.7 226.7h0M1486.1 229.1h0M1488.2 228.8h0M1513 175.9h0M1520.2 177.2h0M1510.5 177.5h0M1503.3 178h0M1501.7 178.7h0M1515.1 178.9h0M1516.2 178.8h0M1522.3 179.6h0M1532.6 180.3h0M1500.1 180.8h0M1499.5 181.5h0M1507.1 180.6h0M1504.8 181.5h0M1502.7 182.2h0M1509.5 182.2h0M1518.9 182h0M1519.5 183.2h0M1542.5 182.9h0M1544.9 182.5h0M1545.5 183.4h0M1514.9 184.4h0M1506.8 184.5h0M1501.3 184.5h0M1501 185.7h0M1500.7 186.9h0M1524.4 184.8h0M1531.9 186.5h0M1532.2 188.2h0M1531.9 189.6h0M1509.8 188.7h0M1526.5 188.7h0M1526.4 191.1h0M1518.8 192.9h0M1510.6 191.9h0M1512 192.2h0M1508.8 193.2h0M1536.5 191.1h0M1536.4 192.3h0M1504.3 193.5h0M1503.8 194.5h0M1502 197.1h0M1503.2 196.8h0M1510.1 199h0M1517 200.8h0M1500.2 199.8h0M1499.5 202.5h0M1500.6 204.6h0M1509.6 205.4h0M1501 207.3h0M1503.9 207h0M1516.5 206.6h0M1517.1 207.9h0M1519.5 208.6h0M1520.4 208.4h0M1503.8 212.3h0M1504.2 212.6h0M1511.4 212.3h0M1512.6 212.4h0M1512.4 215.6h0M1512.6 216.5h0M1500.5 218.8h0M1507.9 219.8h0" stroke="#d3d3d3" stroke-width="6.3" stroke-linecap="round" fill="none" />
<path d="M1531.1 139.2h0M1517.3 165.1h0M1528.2 174.2h0M1465.7 178.2h0" stroke="#9e80ee" stroke-width="6.3" stroke-linecap="round" fill="none" />
<path d="M1470.4 150.2h0" stroke="#aa90ea" stroke-width="6.3" stroke-linecap="round" fill="none" />
<path d="M1445.3 122.1V238.8H1556.6" stroke="#000" stroke-width="1.8" fill="none" />
<line x1="1470.05" y1="238.8" x2="1470.05" y2="243.8" stroke="#000" stroke-width="1.8" />
<text x="1470.05" y="265.1" font-size="19.5" text-anchor="middle" fill="#000">−10</text>
<line x1="1440.3" y1="207.8" x2="1445.3" y2="207.8" stroke="#000" stroke-width="1.8" />
<text x="1436.1" y="214.72" font-size="19.5" text-anchor="end" fill="#000">−10</text>
<line x1="1503.7" y1="238.8" x2="1503.7" y2="243.8" stroke="#000" stroke-width="1.8" />
<text x="1503.7" y="265.1" font-size="19.5" text-anchor="middle" fill="#000">0</text>
<line x1="1440.3" y1="175.8" x2="1445.3" y2="175.8" stroke="#000" stroke-width="1.8" />
<text x="1436.1" y="182.72" font-size="19.5" text-anchor="end" fill="#000">0</text>
<line x1="1537.35" y1="238.8" x2="1537.35" y2="243.8" stroke="#000" stroke-width="1.8" />
<text x="1537.35" y="265.1" font-size="19.5" text-anchor="middle" fill="#000">10</text>
<line x1="1440.3" y1="143.8" x2="1445.3" y2="143.8" stroke="#000" stroke-width="1.8" />
<text x="1436.1" y="150.72" font-size="19.5" text-anchor="end" fill="#000">10</text>
<text x="1499.66" y="291.8" font-size="23.3" text-anchor="middle" fill="#000">tSNE_1</text>
<text x="1388" y="180.45" font-size="23.3" text-anchor="middle" fill="#000" transform="rotate(-90 1388 180.45)">tSNE_2</text>
<path d="M1734.5 131.5h0M1734.3 132.4h0M1737.7 132.9h0M1739.6 132.8h0M1739.3 133.6h0M1738.6 133.3h0M1736.9 135.3h0M1736.9 136.3h0M1736.7 137.4h0M1734.1 136.4h0M1740.4 136.8h0M1740.4 139.1h0M1732.9 139.3h0M1736.7 146.8h0M1737.2 147.1h0M1737.8 144.3h0M1739.6 152.4h0M1741.5 153.3h0M1746.5 156.4h0" stroke="#d3d3d3" stroke-width="6.3" stroke-linecap="round" fill="none" />
<path d="M1739.7 137.6h0" stroke="#b7a0e6" stroke-width="6.3" stroke-linecap="round" fill="none" />
<path d="M1664.5 122.1V238.8H1775.8" stroke="#000" stroke-width="1.8" fill="none" />
<line x1="1689.85" y1="238.8" x2="1689.85" y2="243.8" stroke="#000" stroke-width="1.8" />
<text x="1689.85" y="265.1" font-size="19.5" text-anchor="middle" fill="#000">−10</text>
<line x1="1659.5" y1="207.8" x2="1664.5" y2="207.8" stroke="#000" stroke-width="1.8" />
<text x="1655.3" y="214.72" font-size="19.5" text-anchor="end" fill="#000">−10</text>
<line x1="1723.5" y1="238.8" x2="1723.5" y2="243.8" stroke="#000" stroke-width="1.8" />
<text x="1723.5" y="265.1" font-size="19.5" text-anchor="middle" fill="#000">0</text>
<line x1="1659.5" y1="175.8" x2="1664.5" y2="175.8" stroke="#000" stroke-width="1.8" />
<text x="1655.3" y="182.72" font-size="19.5" text-anchor="end" fill="#000">0</text>
<line x1="1757.15" y1="238.8" x2="1757.15" y2="243.8" stroke="#000" stroke-width="1.8" />
<text x="1757.15" y="265.1" font-size="19.5" text-anchor="middle" fill="#000">10</text>
<line x1="1659.5" y1="143.8" x2="1664.5" y2="143.8" stroke="#000" stroke-width="1.8" />
<text x="1655.3" y="150.72" font-size="19.5" text-anchor="end" fill="#000">10</text>
<text x="1719.46" y="291.8" font-size="23.3" text-anchor="middle" fill="#000">tSNE_1</text>
<text x="1607.2" y="180.45" font-size="23.3" text-anchor="middle" fill="#000" transform="rotate(-90 1607.2 180.45)">tSNE_2</text>
<path d="M1948.7 129.1h0M1948.3 129.3h0M1937.8 138.9h0M1935 146.4h0M1937.7 151.9h0M1942.4 154h0M1944.6 157.5h0M1946.3 157.5h0M1911.6 220h0" stroke="#d3d3d3" stroke-width="6.3" stroke-linecap="round" fill="none" />
<path d="M1864.1 122.1V238.8H1975.4" stroke="#000" stroke-width="1.8" fill="none" />
<line x1="1888.85" y1="238.8" x2="1888.85" y2="243.8" stroke="#000" stroke-width="1.8" />
<text x="1888.85" y="265.1" font-size="19.5" text-anchor="middle" fill="#000">−10</text>
<line x1="1859.1" y1="207.8" x2="1864.1" y2="207.8" stroke="#000" stroke-width="1.8" />
<text x="1854.9" y="214.72" font-size="19.5" text-anchor="end" fill="#000">−10</text>
<line x1="1922.5" y1="238.8" x2="1922.5" y2="243.8" stroke="#000" stroke-width="1.8" />
<text x="1922.5" y="265.1" font-size="19.5" text-anchor="middle" fill="#000">0</text>
<line x1="1859.1" y1="175.8" x2="1864.1" y2="175.8" stroke="#000" stroke-width="1.8" />
<text x="1854.9" y="182.72" font-size="19.5" text-anchor="end" fill="#000">0</text>
<line x1="1956.15" y1="238.8" x2="1956.15" y2="243.8" stroke="#000" stroke-width="1.8" />
<text x="1956.15" y="265.1" font-size="19.5" text-anchor="middle" fill="#000">10</text>
<line x1="1859.1" y1="143.8" x2="1864.1" y2="143.8" stroke="#000" stroke-width="1.8" />
<text x="1854.9" y="150.72" font-size="19.5" text-anchor="end" fill="#000">10</text>
<text x="1918.46" y="291.8" font-size="23.3" text-anchor="middle" fill="#000">tSNE_1</text>
<text x="1806.8" y="180.45" font-size="23.3" text-anchor="middle" fill="#000" transform="rotate(-90 1806.8 180.45)">tSNE_2</text>
<text x="1980.6" y="181.45" font-size="24" text-anchor="middle" font-weight="bold" fill="#000" transform="rotate(90 1980.6 181.45)">PDGFRA</text>
<path d="M1285.8 340.7h0M1268.6 341.9h0M1290.3 343.9h0M1277.7 349.6h0M1273.6 355.6h0M1280.1 356.8h0M1280.4 364.3h0M1271.5 366h0M1274.4 368.4h0M1271.7 370.2h0M1276.9 370.3h0M1319 328.1h0M1315.8 330.7h0M1299 335h0M1319.3 333.4h0M1325 338.8h0M1323.1 340h0M1331.8 339.5h0M1311.9 339.9h0M1295.6 341.4h0M1319.1 342.3h0M1325.4 342.2h0M1313.4 344.4h0M1315.2 345.6h0M1324.9 344.7h0M1337.1 346.1h0M1295.9 349.8h0M1324.4 350.8h0M1293.2 354.4h0M1332.3 353.4h0M1340.1 353.9h0M1324.1 357.4h0M1336.6 358.5h0M1314.2 360h0M1307.1 361.8h0M1299.2 362h0M1296.1 362.3h0M1333.3 364.4h0M1307.2 364.4h0M1314.3 367.7h0M1325.8 371.8h0M1254.2 373.5h0M1279.1 373.5h0M1258.4 375h0M1283.3 375.3h0M1274.3 377.6h0M1282.9 380.2h0M1278.4 382.5h0M1290 384.7h0M1268.5 383.6h0M1272.2 384.4h0M1260.3 387.7h0M1262.1 389.2h0M1270 392.6h0M1259.1 394.2h0M1257.6 395.7h0M1278.8 396.6h0M1285.7 395.5h0M1277.2 403.9h0M1280.9 401h0M1284.4 401.5h0M1291.3 401.3h0M1273.2 407.7h0M1273.8 408h0M1277.9 408.3h0M1277.2 411.3h0M1274.4 412.8h0M1272.2 415.6h0M1286.8 418.9h0M1279.4 422.1h0M1291.3 375.2h0M1325.6 378.4h0M1301 380.2h0M1312.1 381.1h0M1314.4 382h0M1323.4 381.5h0M1304.9 383h0M1318.7 385.9h0M1312.8 386.3h0M1293.4 387.1h0M1330.4 389.2h0M1328.9 392h0M1316.6 393.7h0M1318.4 393.6h0M1314.3 394.6h0M1303.6 394.9h0M1310.8 395.1h0M1321.8 398.6h0M1315.6 400.7h0M1293.5 401.6h0M1303 403.7h0M1302.1 408.6h0M1293.8 414.5h0M1301.2 416.9h0" stroke="#d3d3d3" stroke-width="6.3" stroke-linecap="round" fill="none" />
<path d="M1294.9 395.5h0" stroke="#b7a0e6" stroke-width="6.3" stroke-linecap="round" fill="none" />
<path d="M1278.7 426.4h0" stroke="#9e80ee" stroke-width="6.3" stroke-linecap="round" fill="none" />
<path d="M1306.4 356h0" stroke="#8f6ff1" stroke-width="6.3" stroke-linecap="round" fill="none" />
<path d="M1269.6 360.2h0M1272.4 364.2h0M1277.5 377h0M1292.3 405.6h0M1269.2 410.7h0" stroke="#aa90ea" stroke-width="6.3" stroke-linecap="round" fill="none" />
<path d="M1239.2 317.5V434.9H1350.5" stroke="#000" stroke-width="1.8" fill="none" />
<line x1="1263.95" y1="434.9" x2="1263.95" y2="439.9" stroke="#000" stroke-width="1.8" />
<text x="1263.95" y="461.2" font-size="19.5" text-anchor="middle" fill="#000">−10</text>
<line x1="1234.2" y1="403.6" x2="1239.2" y2="403.6" stroke="#000" stroke-width="1.8" />
<text x="1230" y="410.52" font-size="19.5" text-anchor="end" fill="#000">−10</text>
<line x1="1297.6" y1="434.9" x2="1297.6" y2="439.9" stroke="#000" stroke-width="1.8" />
<text x="1297.6" y="461.2" font-size="19.5" text-anchor="middle" fill="#000">0</text>
<line x1="1234.2" y1="371.6" x2="1239.2" y2="371.6" stroke="#000" stroke-width="1.8" />
<text x="1230" y="378.52" font-size="19.5" text-anchor="end" fill="#000">0</text>
<line x1="1331.25" y1="434.9" x2="1331.25" y2="439.9" stroke="#000" stroke-width="1.8" />
<text x="1331.25" y="461.2" font-size="19.5" text-anchor="middle" fill="#000">10</text>
<line x1="1234.2" y1="339.6" x2="1239.2" y2="339.6" stroke="#000" stroke-width="1.8" />
<text x="1230" y="346.52" font-size="19.5" text-anchor="end" fill="#000">10</text>
<text x="1293.56" y="487.9" font-size="23.3" text-anchor="middle" fill="#000">tSNE_1</text>
<text x="1181.9" y="376.2" font-size="23.3" text-anchor="middle" fill="#000" transform="rotate(-90 1181.9 376.2)">tSNE_2</text>
<path d="M1492.7 329.4h0M1473.9 342.8h0M1470.4 346h0M1490.1 344.4h0M1489.7 346.1h0M1496.6 346.3h0M1481.7 347.9h0M1495.3 349.9h0M1497.7 350h0M1493.8 352.4h0M1497.8 353h0M1470.1 354.5h0M1470.8 355h0M1479.1 356.6h0M1490.4 355.7h0M1489 356.6h0M1471.3 358.4h0M1479.1 358.7h0M1480.9 360.2h0M1482.8 360.2h0M1492.8 360.2h0M1493.3 360.7h0M1469.2 362h0M1495.1 363h0M1496 362.9h0M1479.7 363.9h0M1484.6 364.4h0M1485.5 364.4h0M1472.8 365h0M1481.5 365.3h0M1461 366.4h0M1462.6 366.7h0M1468.5 366.9h0M1469.1 366.9h0M1466.5 368.1h0M1494.4 367.3h0M1490.3 368.5h0M1490.2 369.1h0M1487.9 369.9h0M1467 371.6h0M1494 372.6h0M1491.7 372.8h0M1531.1 335h0M1533.6 334.5h0M1508 335.4h0M1525.3 336.8h0M1511.9 338.1h0M1538 341h0M1542.4 341.1h0M1515.7 339.7h0M1516.7 339.1h0M1517.9 338.8h0M1519.6 340.1h0M1520 341h0M1522.1 338.4h0M1522 339.7h0M1522.8 341.3h0M1513.5 340.5h0M1505.2 341.3h0M1527.1 342.3h0M1511.9 342.7h0M1511 344.2h0M1502.9 343.1h0M1503 344.7h0M1526.1 345.2h0M1516.5 345.8h0M1514.8 347.3h0M1524.2 347h0M1501.6 348.3h0M1528.6 348.4h0M1529.8 348.7h0M1534 348.7h0M1534 349.6h0M1536.2 350.1h0M1512.5 349h0M1512.3 351.2h0M1525.7 350.5h0M1522.2 351.1h0M1507.8 351.9h0M1516.4 352.4h0M1519.2 353.5h0M1520 353.5h0M1524.3 355h0M1533.8 355.2h0M1503.2 355.7h0M1508.8 355h0M1509.5 355.5h0M1515.6 356.4h0M1525.6 357.1h0M1520 357.4h0M1528.7 357.1h0M1543.5 357.3h0M1542.6 360h0M1522.8 359.8h0M1521.9 361h0M1526.4 359.9h0M1517.3 360.9h0M1508.8 360.8h0M1536.6 360.7h0M1507 362.8h0M1530.5 362.4h0M1531.1 362.8h0M1525 363.5h0M1518.7 363.9h0M1535.9 363.8h0M1537.3 363.5h0M1523.1 365.1h0M1525.9 365.4h0M1528.8 365.4h0M1548.4 364.9h0M1548.8 365.1h0M1509.5 367.4h0M1515.9 365.4h0M1515.1 366.1h0M1514.5 366.9h0M1513.8 367.8h0M1507.4 367.2h0M1534.4 367h0M1537.9 368.4h0M1538.4 368.6h0M1498.7 370.3h0M1513.2 370.8h0M1515.8 370.5h0M1525.4 370.7h0M1526.8 369.9h0M1528.2 370h0M1531.1 371.2h0M1519.9 372.2h0M1506.8 370.3h0M1459.6 374.4h0M1472.6 373.6h0M1476.2 373.7h0M1465.7 374h0M1490.1 376.1h0M1489.7 377.6h0M1492.9 375.3h0M1496.5 375.6h0M1470.7 376h0M1469.8 376.6h0M1483 376.8h0M1468.1 379.2h0M1491.4 379.8h0M1495.8 379.5h0M1480.7 380.4h0M1473.6 380.6h0M1473.4 381.7h0M1485.8 384h0M1491.3 382.7h0M1492.1 383.6h0M1475.3 384.3h0M1480 384.8h0M1480.6 384.8h0M1452.3 384.3h0M1466 384.7h0M1465.5 385.9h0M1482.6 386.1h0M1478.8 387.8h0M1482.4 390.6h0M1488.9 390.3h0M1489.7 391.4h0M1489.8 392.8h0M1494.4 391h0M1496.1 390.8h0M1467.7 392.5h0M1470.4 392.7h0M1479.9 392.7h0M1480.2 393.4h0M1483.3 395.2h0M1484.1 395.9h0M1480.5 396h0M1471.1 396.6h0M1490.1 398h0M1492 398.4h0M1494.5 398.6h0M1498.4 396.8h0M1468.9 400h0M1482.7 400.7h0M1483.2 402.2h0M1473.4 402.6h0M1475.1 403.3h0M1476 403.4h0M1468.9 405h0M1469.9 404.9h0M1471.1 405.5h0M1492.7 406.9h0M1490.5 407.4h0M1494.4 408h0M1487.8 409.8h0M1486.7 410.3h0M1486.1 412.3h0M1479.3 414.1h0M1477.4 418.2h0M1483.3 421.4h0M1490.8 422.7h0M1491.7 422.5h0M1486.1 424.9h0M1488.2 424.6h0M1513 371.7h0M1520.2 373h0M1510.5 373.3h0M1503.3 373.8h0M1501.7 374.5h0M1515.1 374.7h0M1516.2 374.6h0M1522.3 375.4h0M1532.6 376.1h0M1500.1 376.6h0M1499.5 377.3h0M1507.1 376.4h0M1504.8 377.3h0M1502.7 378h0M1509.5 378h0M1518.9 377.8h0M1519.5 379h0M1542.5 378.7h0M1544.9 378.3h0M1545.5 379.2h0M1514.9 380.2h0M1506.8 380.3h0M1501.3 380.3h0M1501 381.5h0M1500.7 382.7h0M1524.4 380.6h0M1531.9 382.3h0M1532.2 384h0M1531.9 385.4h0M1509.8 384.5h0M1526.5 384.5h0M1526.4 386.9h0M1518.8 388.7h0M1510.6 387.7h0M1512 388h0M1508.8 389h0M1536.5 386.9h0M1536.4 388.1h0M1504.3 389.3h0M1503.8 390.3h0M1502 392.9h0M1503.2 392.6h0M1510.1 394.8h0M1517 396.6h0M1500.2 395.6h0M1499.5 398.3h0M1500.6 400.4h0M1509.6 401.2h0M1501 403.1h0M1516.5 402.4h0M1517.1 403.7h0M1519.5 404.4h0M1520.4 404.2h0M1503.8 408.1h0M1504.2 408.4h0M1511.4 408.1h0M1512.6 408.2h0M1512.4 411.4h0M1512.6 412.3h0M1500.5 414.6h0M1507.9 415.6h0" stroke="#d3d3d3" stroke-width="6.3" stroke-linecap="round" fill="none" />
<path d="M1485.6 397.1h0" stroke="#b7a0e6" stroke-width="6.3" stroke-linecap="round" fill="none" />
<path d="M1475.6 341h0M1472 365.1h0M1544.9 355.3h0M1503.9 402.8h0" stroke="#9e80ee" stroke-width="6.3" stroke-linecap="round" fill="none" />
<path d="M1503.3 367.3h0" stroke="#8f6ff1" stroke-width="6.3" stroke-linecap="round" fill="none" />
<path d="M1509.2 365.7h0" stroke="#0000ff" stroke-width="6.3" stroke-linecap="round" fill="none" />
<path d="M1467.2 370.8h0M1505.5 346.4h0M1467.6 378.6h0M1493.1 384.7h0" stroke="#aa90ea" stroke-width="6.3" stroke-linecap="round" fill="none" />
<path d="M1445.3 317.5V434.9H1556.6" stroke="#000" stroke-width="1.8" fill="none" />
<line x1="1470.05" y1="434.9" x2="1470.05" y2="439.9" stroke="#000" stroke-width="1.8" />
<text x="1470.05" y="461.2" font-size="19.5" text-anchor="middle" fill="#000">−10</text>
<line x1="1440.3" y1="403.6" x2="1445.3" y2="403.6" stroke="#000" stroke-width="1.8" />
<text x="1436.1" y="410.52" font-size="19.5" text-anchor="end" fill="#000">−10</text>
<line x1="1503.7" y1="434.9" x2="1503.7" y2="439.9" stroke="#000" stroke-width="1.8" />
<text x="1503.7" y="461.2" font-size="19.5" text-anchor="middle" fill="#000">0</text>
<line x1="1440.3" y1="371.6" x2="1445.3" y2="371.6" stroke="#000" stroke-width="1.8" />
<text x="1436.1" y="378.52" font-size="19.5" text-anchor="end" fill="#000">0</text>
<line x1="1537.35" y1="434.9" x2="1537.35" y2="439.9" stroke="#000" stroke-width="1.8" />
<text x="1537.35" y="461.2" font-size="19.5" text-anchor="middle" fill="#000">10</text>
<line x1="1440.3" y1="339.6" x2="1445.3" y2="339.6" stroke="#000" stroke-width="1.8" />
<text x="1436.1" y="346.52" font-size="19.5" text-anchor="end" fill="#000">10</text>
<text x="1499.66" y="487.9" font-size="23.3" text-anchor="middle" fill="#000">tSNE_1</text>
<text x="1388" y="376.2" font-size="23.3" text-anchor="middle" fill="#000" transform="rotate(-90 1388 376.2)">tSNE_2</text>
<path d="M1734.5 327.3h0M1734.3 328.2h0M1737.7 328.7h0M1739.6 328.6h0M1739.3 329.4h0M1738.6 329.1h0M1736.9 331.1h0M1736.9 332.1h0M1736.7 333.2h0M1734.1 332.2h0M1740.4 332.6h0M1739.7 333.4h0M1740.4 334.9h0M1732.9 335.1h0M1736.7 342.6h0M1737.2 342.9h0M1737.8 340.1h0M1739.6 348.2h0M1741.5 349.1h0M1746.5 352.2h0" stroke="#d3d3d3" stroke-width="6.3" stroke-linecap="round" fill="none" />
<path d="M1664.5 317.5V434.9H1775.8" stroke="#000" stroke-width="1.8" fill="none" />
<line x1="1689.85" y1="434.9" x2="1689.85" y2="439.9" stroke="#000" stroke-width="1.8" />
<text x="1689.85" y="461.2" font-size="19.5" text-anchor="middle" fill="#000">−10</text>
<line x1="1659.5" y1="403.6" x2="1664.5" y2="403.6" stroke="#000" stroke-width="1.8" />
<text x="1655.3" y="410.52" font-size="19.5" text-anchor="end" fill="#000">−10</text>
<line x1="1723.5" y1="434.9" x2="1723.5" y2="439.9" stroke="#000" stroke-width="1.8" />
<text x="1723.5" y="461.2" font-size="19.5" text-anchor="middle" fill="#000">0</text>
<line x1="1659.5" y1="371.6" x2="1664.5" y2="371.6" stroke="#000" stroke-width="1.8" />
<text x="1655.3" y="378.52" font-size="19.5" text-anchor="end" fill="#000">0</text>
<line x1="1757.15" y1="434.9" x2="1757.15" y2="439.9" stroke="#000" stroke-width="1.8" />
<text x="1757.15" y="461.2" font-size="19.5" text-anchor="middle" fill="#000">10</text>
<line x1="1659.5" y1="339.6" x2="1664.5" y2="339.6" stroke="#000" stroke-width="1.8" />
<text x="1655.3" y="346.52" font-size="19.5" text-anchor="end" fill="#000">10</text>
<text x="1719.46" y="487.9" font-size="23.3" text-anchor="middle" fill="#000">tSNE_1</text>
<text x="1607.2" y="376.2" font-size="23.3" text-anchor="middle" fill="#000" transform="rotate(-90 1607.2 376.2)">tSNE_2</text>
<path d="M1948.7 324.9h0M1948.3 325.1h0M1937.8 334.7h0M1935 342.2h0M1937.7 347.7h0M1942.4 349.8h0M1944.6 353.3h0M1946.3 353.3h0" stroke="#d3d3d3" stroke-width="6.3" stroke-linecap="round" fill="none" />
<path d="M1911.6 415.8h0" stroke="#aa90ea" stroke-width="6.3" stroke-linecap="round" fill="none" />
<path d="M1864.1 317.5V434.9H1975.4" stroke="#000" stroke-width="1.8" fill="none" />
<line x1="1888.85" y1="434.9" x2="1888.85" y2="439.9" stroke="#000" stroke-width="1.8" />
<text x="1888.85" y="461.2" font-size="19.5" text-anchor="middle" fill="#000">−10</text>
<line x1="1859.1" y1="403.6" x2="1864.1" y2="403.6" stroke="#000" stroke-width="1.8" />
<text x="1854.9" y="410.52" font-size="19.5" text-anchor="end" fill="#000">−10</text>
<line x1="1922.5" y1="434.9" x2="1922.5" y2="439.9" stroke="#000" stroke-width="1.8" />
<text x="1922.5" y="461.2" font-size="19.5" text-anchor="middle" fill="#000">0</text>
<line x1="1859.1" y1="371.6" x2="1864.1" y2="371.6" stroke="#000" stroke-width="1.8" />
<text x="1854.9" y="378.52" font-size="19.5" text-anchor="end" fill="#000">0</text>
<line x1="1956.15" y1="434.9" x2="1956.15" y2="439.9" stroke="#000" stroke-width="1.8" />
<text x="1956.15" y="461.2" font-size="19.5" text-anchor="middle" fill="#000">10</text>
<line x1="1859.1" y1="339.6" x2="1864.1" y2="339.6" stroke="#000" stroke-width="1.8" />
<text x="1854.9" y="346.52" font-size="19.5" text-anchor="end" fill="#000">10</text>
<text x="1918.46" y="487.9" font-size="23.3" text-anchor="middle" fill="#000">tSNE_1</text>
<text x="1806.8" y="376.2" font-size="23.3" text-anchor="middle" fill="#000" transform="rotate(-90 1806.8 376.2)">tSNE_2</text>
<text x="1980.6" y="377.2" font-size="24" text-anchor="middle" font-weight="bold" fill="#000" transform="rotate(90 1980.6 377.2)">CD38</text>
<path d="M1285.8 539.7h0M1268.6 540.9h0M1290.3 542.9h0M1277.7 548.6h0M1273.6 554.6h0M1280.1 555.8h0M1269.6 559.2h0M1272.4 563.2h0M1280.4 563.3h0M1274.4 567.4h0M1271.7 569.2h0M1276.9 569.3h0M1319 527.1h0M1315.8 529.7h0M1299 534h0M1319.3 532.4h0M1325 537.8h0M1323.1 539h0M1331.8 538.5h0M1311.9 538.9h0M1295.6 540.4h0M1319.1 541.3h0M1325.4 541.2h0M1313.4 543.4h0M1315.2 544.6h0M1324.9 543.7h0M1337.1 545.1h0M1295.9 548.8h0M1324.4 549.8h0M1293.2 553.4h0M1332.3 552.4h0M1340.1 552.9h0M1306.4 555h0M1324.1 556.4h0M1336.6 557.5h0M1314.2 559h0M1307.1 560.8h0M1299.2 561h0M1296.1 561.3h0M1333.3 563.4h0M1307.2 563.4h0M1314.3 566.7h0M1325.8 570.8h0M1254.2 572.5h0M1279.1 572.5h0M1258.4 574h0M1283.3 574.3h0M1277.5 576h0M1274.3 576.6h0M1282.9 579.2h0M1278.4 581.5h0M1290 583.7h0M1268.5 582.6h0M1272.2 583.4h0M1260.3 586.7h0M1262.1 588.2h0M1270 591.6h0M1259.1 593.2h0M1257.6 594.7h0M1278.8 595.6h0M1285.7 594.5h0M1277.2 602.9h0M1280.9 600h0M1284.4 600.5h0M1291.3 600.3h0M1292.3 604.6h0M1273.2 606.7h0M1273.8 607h0M1277.9 607.3h0M1269.2 609.7h0M1277.2 610.3h0M1274.4 611.8h0M1272.2 614.6h0M1286.8 617.9h0M1279.4 621.1h0M1278.7 625.4h0M1291.3 574.2h0M1325.6 577.4h0M1301 579.2h0M1312.1 580.1h0M1314.4 581h0M1323.4 580.5h0M1304.9 582h0M1318.7 584.9h0M1312.8 585.3h0M1293.4 586.1h0M1330.4 588.2h0M1328.9 591h0M1316.6 592.7h0M1318.4 592.6h0M1314.3 593.6h0M1303.6 593.9h0M1294.9 594.5h0M1321.8 597.6h0M1315.6 599.7h0M1293.5 600.6h0M1303 602.7h0M1302.1 607.6h0M1293.8 613.5h0M1301.2 615.9h0" stroke="#d3d3d3" stroke-width="6.3" stroke-linecap="round" fill="none" />
<path d="M1310.8 594.1h0" stroke="#9e80ee" stroke-width="6.3" stroke-linecap="round" fill="none" />
<path d="M1271.5 565h0" stroke="#8f6ff1" stroke-width="6.3" stroke-linecap="round" fill="none" />
<path d="M1239.2 516.5V633.9H1350.5" stroke="#000" stroke-width="1.8" fill="none" />
<line x1="1263.95" y1="633.9" x2="1263.95" y2="638.9" stroke="#000" stroke-width="1.8" />
<text x="1263.95" y="660.2" font-size="19.5" text-anchor="middle" fill="#000">−10</text>
<line x1="1234.2" y1="602.6" x2="1239.2" y2="602.6" stroke="#000" stroke-width="1.8" />
<text x="1230" y="609.52" font-size="19.5" text-anchor="end" fill="#000">−10</text>
<line x1="1297.6" y1="633.9" x2="1297.6" y2="638.9" stroke="#000" stroke-width="1.8" />
<text x="1297.6" y="660.2" font-size="19.5" text-anchor="middle" fill="#000">0</text>
<line x1="1234.2" y1="570.6" x2="1239.2" y2="570.6" stroke="#000" stroke-width="1.8" />
<text x="1230" y="577.52" font-size="19.5" text-anchor="end" fill="#000">0</text>
<line x1="1331.25" y1="633.9" x2="1331.25" y2="638.9" stroke="#000" stroke-width="1.8" />
<text x="1331.25" y="660.2" font-size="19.5" text-anchor="middle" fill="#000">10</text>
<line x1="1234.2" y1="538.6" x2="1239.2" y2="538.6" stroke="#000" stroke-width="1.8" />
<text x="1230" y="545.52" font-size="19.5" text-anchor="end" fill="#000">10</text>
<text x="1293.56" y="686.9" font-size="23.3" text-anchor="middle" fill="#000">tSNE_1</text>
<text x="1181.9" y="575.2" font-size="23.3" text-anchor="middle" fill="#000" transform="rotate(-90 1181.9 575.2)">tSNE_2</text>
<path d="M1492.7 528.4h0M1475.6 540h0M1473.9 541.8h0M1470.4 545h0M1490.1 543.4h0M1489.7 545.1h0M1496.6 545.3h0M1481.7 546.9h0M1495.3 548.9h0M1497.7 549h0M1493.8 551.4h0M1497.8 552h0M1470.1 553.5h0M1470.8 554h0M1479.1 555.6h0M1490.4 554.7h0M1489 555.6h0M1471.3 557.4h0M1479.1 557.7h0M1480.9 559.2h0M1482.8 559.2h0M1492.8 559.2h0M1493.3 559.7h0M1469.2 561h0M1495.1 562h0M1496 561.9h0M1479.7 562.9h0M1484.6 563.4h0M1485.5 563.4h0M1472 564.1h0M1472.8 564h0M1481.5 564.3h0M1461 565.4h0M1462.6 565.7h0M1468.5 565.9h0M1469.1 565.9h0M1466.5 567.1h0M1494.4 566.3h0M1490.3 567.5h0M1490.2 568.1h0M1487.9 568.9h0M1467.2 569.8h0M1467 570.6h0M1494 571.6h0M1491.7 571.8h0M1531.1 534h0M1533.6 533.5h0M1508 534.4h0M1525.3 535.8h0M1511.9 537.1h0M1538 540h0M1542.4 540.1h0M1515.7 538.7h0M1516.7 538.1h0M1517.9 537.8h0M1519.6 539.1h0M1520 540h0M1522.1 537.4h0M1522 538.7h0M1522.8 540.3h0M1513.5 539.5h0M1505.2 540.3h0M1527.1 541.3h0M1511.9 541.7h0M1511 543.2h0M1502.9 542.1h0M1503 543.7h0M1526.1 544.2h0M1516.5 544.8h0M1514.8 546.3h0M1505.5 545.4h0M1524.2 546h0M1501.6 547.3h0M1528.6 547.4h0M1529.8 547.7h0M1534 547.7h0M1534 548.6h0M1536.2 549.1h0M1512.5 548h0M1512.3 550.2h0M1525.7 549.5h0M1522.2 550.1h0M1507.8 550.9h0M1516.4 551.4h0M1519.2 552.5h0M1520 552.5h0M1544.9 554.3h0M1524.3 554h0M1533.8 554.2h0M1503.2 554.7h0M1508.8 554h0M1509.5 554.5h0M1515.6 555.4h0M1525.6 556.1h0M1520 556.4h0M1528.7 556.1h0M1543.5 556.3h0M1542.6 559h0M1522.8 558.8h0M1521.9 560h0M1526.4 558.9h0M1517.3 559.9h0M1508.8 559.8h0M1536.6 559.7h0M1507 561.8h0M1530.5 561.4h0M1531.1 561.8h0M1525 562.5h0M1518.7 562.9h0M1535.9 562.8h0M1537.3 562.5h0M1523.1 564.1h0M1525.9 564.4h0M1528.8 564.4h0M1548.4 563.9h0M1548.8 564.1h0M1509.2 564.7h0M1509.5 566.4h0M1515.9 564.4h0M1515.1 565.1h0M1514.5 565.9h0M1513.8 566.8h0M1503.3 566.3h0M1507.4 566.2h0M1534.4 566h0M1537.9 567.4h0M1538.4 567.6h0M1498.7 569.3h0M1513.2 569.8h0M1515.8 569.5h0M1525.4 569.7h0M1526.8 568.9h0M1528.2 569h0M1531.1 570.2h0M1519.9 571.2h0M1506.8 569.3h0M1459.6 573.4h0M1472.6 572.6h0M1476.2 572.7h0M1490.1 575.1h0M1489.7 576.6h0M1492.9 574.3h0M1496.5 574.6h0M1470.7 575h0M1469.8 575.6h0M1483 575.8h0M1467.6 577.6h0M1468.1 578.2h0M1491.4 578.8h0M1495.8 578.5h0M1480.7 579.4h0M1473.6 579.6h0M1473.4 580.7h0M1485.8 583h0M1491.3 581.7h0M1492.1 582.6h0M1493.1 583.7h0M1475.3 583.3h0M1480 583.8h0M1480.6 583.8h0M1452.3 583.3h0M1466 583.7h0M1465.5 584.9h0M1482.6 585.1h0M1478.8 586.8h0M1482.4 589.6h0M1488.9 589.3h0M1489.7 590.4h0M1489.8 591.8h0M1494.4 590h0M1496.1 589.8h0M1467.7 591.5h0M1470.4 591.7h0M1479.9 591.7h0M1480.2 592.4h0M1483.3 594.2h0M1484.1 594.9h0M1485.6 596.1h0M1471.1 595.6h0M1490.1 597h0M1492 597.4h0M1494.5 597.6h0M1498.4 595.8h0M1468.9 599h0M1482.7 599.7h0M1483.2 601.2h0M1473.4 601.6h0M1475.1 602.3h0M1476 602.4h0M1468.9 604h0M1469.9 603.9h0M1471.1 604.5h0M1492.7 605.9h0M1490.5 606.4h0M1494.4 607h0M1487.8 608.8h0M1486.7 609.3h0M1486.1 611.3h0M1479.3 613.1h0M1477.4 617.2h0M1483.3 620.4h0M1490.8 621.7h0M1491.7 621.5h0M1486.1 623.9h0M1488.2 623.6h0M1513 570.7h0M1520.2 572h0M1510.5 572.3h0M1503.3 572.8h0M1501.7 573.5h0M1515.1 573.7h0M1516.2 573.6h0M1522.3 574.4h0M1532.6 575.1h0M1500.1 575.6h0M1499.5 576.3h0M1507.1 575.4h0M1504.8 576.3h0M1502.7 577h0M1509.5 577h0M1518.9 576.8h0M1519.5 578h0M1542.5 577.7h0M1544.9 577.3h0M1545.5 578.2h0M1514.9 579.2h0M1506.8 579.3h0M1501.3 579.3h0M1501 580.5h0M1500.7 581.7h0M1524.4 579.6h0M1531.9 581.3h0M1532.2 583h0M1531.9 584.4h0M1509.8 583.5h0M1526.5 583.5h0M1526.4 585.9h0M1518.8 587.7h0M1510.6 586.7h0M1512 587h0M1508.8 588h0M1536.5 585.9h0M1536.4 587.1h0M1504.3 588.3h0M1503.8 589.3h0M1502 591.9h0M1503.2 591.6h0M1510.1 593.8h0M1517 595.6h0M1500.2 594.6h0M1499.5 597.3h0M1500.6 599.4h0M1509.6 600.2h0M1501 602.1h0M1503.9 601.8h0M1516.5 601.4h0M1517.1 602.7h0M1519.5 603.4h0M1520.4 603.2h0M1503.8 607.1h0M1504.2 607.4h0M1511.4 607.1h0M1512.6 607.2h0M1512.4 610.4h0M1512.6 611.3h0M1500.5 613.6h0M1507.9 614.6h0" stroke="#d3d3d3" stroke-width="6.3" stroke-linecap="round" fill="none" />
<path d="M1480.5 595h0" stroke="#9e80ee" stroke-width="6.3" stroke-linecap="round" fill="none" />
<path d="M1465.7 573h0" stroke="#aa90ea" stroke-width="6.3" stroke-linecap="round" fill="none" />
<path d="M1445.3 516.5V633.9H1556.6" stroke="#000" stroke-width="1.8" fill="none" />
<line x1="1470.05" y1="633.9" x2="1470.05" y2="638.9" stroke="#000" stroke-width="1.8" />
<text x="1470.05" y="660.2" font-size="19.5" text-anchor="middle" fill="#000">−10</text>
<line x1="1440.3" y1="602.6" x2="1445.3" y2="602.6" stroke="#000" stroke-width="1.8" />
<text x="1436.1" y="609.52" font-size="19.5" text-anchor="end" fill="#000">−10</text>
<line x1="1503.7" y1="633.9" x2="1503.7" y2="638.9" stroke="#000" stroke-width="1.8" />
<text x="1503.7" y="660.2" font-size="19.5" text-anchor="middle" fill="#000">0</text>
<line x1="1440.3" y1="570.6" x2="1445.3" y2="570.6" stroke="#000" stroke-width="1.8" />
<text x="1436.1" y="577.52" font-size="19.5" text-anchor="end" fill="#000">0</text>
<line x1="1537.35" y1="633.9" x2="1537.35" y2="638.9" stroke="#000" stroke-width="1.8" />
<text x="1537.35" y="660.2" font-size="19.5" text-anchor="middle" fill="#000">10</text>
<line x1="1440.3" y1="538.6" x2="1445.3" y2="538.6" stroke="#000" stroke-width="1.8" />
<text x="1436.1" y="545.52" font-size="19.5" text-anchor="end" fill="#000">10</text>
<text x="1499.66" y="686.9" font-size="23.3" text-anchor="middle" fill="#000">tSNE_1</text>
<text x="1388" y="575.2" font-size="23.3" text-anchor="middle" fill="#000" transform="rotate(-90 1388 575.2)">tSNE_2</text>
<path d="M1734.5 526.3h0M1734.3 527.2h0M1737.7 527.7h0M1739.6 527.6h0M1739.3 528.4h0M1738.6 528.1h0M1736.9 530.1h0M1736.9 531.1h0M1736.7 532.2h0M1734.1 531.2h0M1740.4 531.6h0M1739.7 532.4h0M1740.4 533.9h0M1736.7 541.6h0M1737.2 541.9h0M1737.8 539.1h0M1739.6 547.2h0M1741.5 548.1h0M1746.5 551.2h0" stroke="#d3d3d3" stroke-width="6.3" stroke-linecap="round" fill="none" />
<path d="M1732.9 534.1h0" stroke="#0000ff" stroke-width="6.3" stroke-linecap="round" fill="none" />
<path d="M1664.5 516.5V633.9H1775.8" stroke="#000" stroke-width="1.8" fill="none" />
<line x1="1689.85" y1="633.9" x2="1689.85" y2="638.9" stroke="#000" stroke-width="1.8" />
<text x="1689.85" y="660.2" font-size="19.5" text-anchor="middle" fill="#000">−10</text>
<line x1="1659.5" y1="602.6" x2="1664.5" y2="602.6" stroke="#000" stroke-width="1.8" />
<text x="1655.3" y="609.52" font-size="19.5" text-anchor="end" fill="#000">−10</text>
<line x1="1723.5" y1="633.9" x2="1723.5" y2="638.9" stroke="#000" stroke-width="1.8" />
<text x="1723.5" y="660.2" font-size="19.5" text-anchor="middle" fill="#000">0</text>
<line x1="1659.5" y1="570.6" x2="1664.5" y2="570.6" stroke="#000" stroke-width="1.8" />
<text x="1655.3" y="577.52" font-size="19.5" text-anchor="end" fill="#000">0</text>
<line x1="1757.15" y1="633.9" x2="1757.15" y2="638.9" stroke="#000" stroke-width="1.8" />
<text x="1757.15" y="660.2" font-size="19.5" text-anchor="middle" fill="#000">10</text>
<line x1="1659.5" y1="538.6" x2="1664.5" y2="538.6" stroke="#000" stroke-width="1.8" />
<text x="1655.3" y="545.52" font-size="19.5" text-anchor="end" fill="#000">10</text>
<text x="1719.46" y="686.9" font-size="23.3" text-anchor="middle" fill="#000">tSNE_1</text>
<text x="1607.2" y="575.2" font-size="23.3" text-anchor="middle" fill="#000" transform="rotate(-90 1607.2 575.2)">tSNE_2</text>
<path d="M1948.7 523.9h0M1948.3 524.1h0M1937.8 533.7h0M1935 541.2h0M1937.7 546.7h0M1942.4 548.8h0M1944.6 552.3h0M1946.3 552.3h0M1911.6 614.8h0" stroke="#d3d3d3" stroke-width="6.3" stroke-linecap="round" fill="none" />
<path d="M1864.1 516.5V633.9H1975.4" stroke="#000" stroke-width="1.8" fill="none" />
<line x1="1888.85" y1="633.9" x2="1888.85" y2="638.9" stroke="#000" stroke-width="1.8" />
<text x="1888.85" y="660.2" font-size="19.5" text-anchor="middle" fill="#000">−10</text>
<line x1="1859.1" y1="602.6" x2="1864.1" y2="602.6" stroke="#000" stroke-width="1.8" />
<text x="1854.9" y="609.52" font-size="19.5" text-anchor="end" fill="#000">−10</text>
<line x1="1922.5" y1="633.9" x2="1922.5" y2="638.9" stroke="#000" stroke-width="1.8" />
<text x="1922.5" y="660.2" font-size="19.5" text-anchor="middle" fill="#000">0</text>
<line x1="1859.1" y1="570.6" x2="1864.1" y2="570.6" stroke="#000" stroke-width="1.8" />
<text x="1854.9" y="577.52" font-size="19.5" text-anchor="end" fill="#000">0</text>
<line x1="1956.15" y1="633.9" x2="1956.15" y2="638.9" stroke="#000" stroke-width="1.8" />
<text x="1956.15" y="660.2" font-size="19.5" text-anchor="middle" fill="#000">10</text>
<line x1="1859.1" y1="538.6" x2="1864.1" y2="538.6" stroke="#000" stroke-width="1.8" />
<text x="1854.9" y="545.52" font-size="19.5" text-anchor="end" fill="#000">10</text>
<text x="1918.46" y="686.9" font-size="23.3" text-anchor="middle" fill="#000">tSNE_1</text>
<text x="1806.8" y="575.2" font-size="23.3" text-anchor="middle" fill="#000" transform="rotate(-90 1806.8 575.2)">tSNE_2</text>
<text x="1980.6" y="576.2" font-size="24" text-anchor="middle" font-weight="bold" fill="#000" transform="rotate(90 1980.6 576.2)">CD34</text>
<text x="-1" y="537.5" font-size="52" font-weight="bold" fill="#000" textLength="31.76" lengthAdjust="spacingAndGlyphs">d</text>
<text x="511.2" y="549" font-size="37.1" text-anchor="middle" font-weight="bold" font-family="'Liberation Serif', 'Times New Roman', serif" fill="#000">Adipogenic master genes</text>
<line x1="135" y1="569" x2="901.5" y2="569" stroke="#000" stroke-width="2.6" />
<path d="M166.85 865.6 168.05 862.88 169.23 860.17 170.45 857.46 171.76 854.74 173.27 852.02 174.95 849.31 176.57 846.6 177.89 843.88 179.04 841.17 180.18 838.45 181.15 835.74 181.8 833.02 181.97 830.31 181.74 827.59 181.28 824.88 180.75 822.16 180.2 819.45 179.53 816.73 178.77 814.01 177.92 811.3 176.99 808.59 175.99 805.87 174.92 803.15 173.8 800.44 172.54 797.73 171.08 795.01 169.45 792.3 167.7 789.58 165.88 786.87 164.01 784.15 162.13 781.44 160.3 778.72 158.37 776 156.27 773.29 154.11 770.58 152.02 767.86 150.12 765.14 148.54 762.43 147.31 759.72 146.11 757 144.95 754.29 143.89 751.57 143 748.86 142.34 746.14 141.96 743.43 141.91 740.71 142.05 738 142.33 735.28 142.72 732.57 143.19 729.85 143.73 727.13 144.3 724.42 144.88 721.71 145.56 718.99 146.39 716.28 147.35 713.56 148.43 710.85 149.61 708.13 150.88 705.41 152.23 702.7 153.64 699.99 155.37 697.27 157.43 694.56 159.66 691.84 161.95 689.12 164.14 686.41 166.09 683.7 167.8 680.98 169.48 678.27 171.09 675.55 172.6 672.84 173.98 670.12 175.2 667.4 176.24 664.69 177.13 661.98 177.91 659.26 178.63 656.55 179.32 653.83 180.02 651.12 180.75 648.4 L184.85 648.4 185.58 651.12 186.28 653.83 186.97 656.55 187.69 659.26 188.47 661.98 189.36 664.69 190.4 667.4 191.62 670.12 193 672.84 194.51 675.55 196.12 678.27 197.8 680.98 199.51 683.7 201.46 686.41 203.65 689.12 205.94 691.84 208.17 694.56 210.23 697.27 211.96 699.99 213.37 702.7 214.72 705.41 215.99 708.13 217.17 710.85 218.25 713.56 219.21 716.28 220.04 718.99 220.72 721.71 221.3 724.42 221.87 727.13 222.41 729.85 222.88 732.57 223.27 735.28 223.55 738 223.69 740.71 223.64 743.43 223.26 746.14 222.6 748.86 221.71 751.57 220.65 754.29 219.49 757 218.29 759.72 217.06 762.43 215.48 765.14 213.58 767.86 211.49 770.58 209.33 773.29 207.23 776 205.3 778.72 203.47 781.44 201.59 784.15 199.72 786.87 197.9 789.58 196.15 792.3 194.52 795.01 193.06 797.73 191.8 800.44 190.68 803.15 189.61 805.87 188.61 808.59 187.68 811.3 186.83 814.01 186.07 816.73 185.4 819.45 184.85 822.16 184.32 824.88 183.86 827.59 183.63 830.31 183.8 833.02 184.45 835.74 185.42 838.45 186.56 841.17 187.71 843.88 189.03 846.6 190.65 849.31 192.33 852.02 193.84 854.74 195.15 857.46 196.37 860.17 197.55 862.88 198.75 865.6Z" stroke="#2a2a2a" stroke-width="1.3" fill="#F8766D" stroke-linejoin="round"/>
<path d="M253.25 865.6 254.41 863.22 255.58 860.84 256.87 858.46 258.37 856.09 259.98 853.71 261.58 851.33 263.06 848.95 264.4 846.57 265.78 844.19 267.12 841.82 268.29 839.44 269.18 837.06 269.69 834.68 270.04 832.3 270.34 829.92 270.59 827.55 270.75 825.17 270.83 822.79 270.82 820.41 270.75 818.03 270.63 815.65 270.46 813.28 270.26 810.9 270.03 808.52 269.77 806.14 269.47 803.76 269.01 801.38 268.37 799.01 267.57 796.63 266.65 794.25 265.62 791.87 264.5 789.49 263.32 787.11 261.82 784.74 259.92 782.36 257.74 779.98 255.4 777.6 253.03 775.22 250.75 772.84 248.68 770.47 246.77 768.09 244.78 765.71 242.77 763.33 240.85 760.95 239.1 758.57 237.61 756.2 236.47 753.82 235.71 751.44 235.03 749.06 234.41 746.68 233.86 744.3 233.4 741.93 233.06 739.55 232.85 737.17 232.8 734.79 233.12 732.41 233.82 730.03 234.85 727.66 236.15 725.28 237.64 722.9 239.28 720.52 240.98 718.14 242.7 715.76 244.37 713.39 246.27 711.01 248.53 708.63 251.02 706.25 253.59 703.87 256.08 701.49 258.34 699.12 260.24 696.74 261.75 694.36 263.11 691.98 264.35 689.6 265.47 687.22 266.49 684.85 267.41 682.47 268.19 680.09 268.9 677.71 269.61 675.33 L277.79 675.33 278.5 677.71 279.21 680.09 279.99 682.47 280.91 684.85 281.93 687.22 283.05 689.6 284.29 691.98 285.65 694.36 287.16 696.74 289.06 699.12 291.32 701.49 293.81 703.87 296.38 706.25 298.87 708.63 301.13 711.01 303.03 713.39 304.7 715.76 306.42 718.14 308.12 720.52 309.76 722.9 311.25 725.28 312.55 727.66 313.58 730.03 314.28 732.41 314.6 734.79 314.55 737.17 314.34 739.55 314 741.93 313.54 744.3 312.99 746.68 312.37 749.06 311.69 751.44 310.93 753.82 309.79 756.2 308.3 758.57 306.55 760.95 304.63 763.33 302.62 765.71 300.63 768.09 298.72 770.47 296.65 772.84 294.37 775.22 292 777.6 289.66 779.98 287.48 782.36 285.58 784.74 284.08 787.11 282.9 789.49 281.78 791.87 280.75 794.25 279.83 796.63 279.03 799.01 278.39 801.38 277.93 803.76 277.63 806.14 277.37 808.52 277.14 810.9 276.94 813.28 276.77 815.65 276.65 818.03 276.58 820.41 276.57 822.79 276.65 825.17 276.81 827.55 277.06 829.92 277.36 832.3 277.71 834.68 278.22 837.06 279.11 839.44 280.28 841.82 281.62 844.19 283 846.57 284.34 848.95 285.82 851.33 287.42 853.71 289.03 856.09 290.53 858.46 291.82 860.84 292.99 863.22 294.15 865.6Z" stroke="#2a2a2a" stroke-width="1.3" fill="#7CAE00" stroke-linejoin="round"/>
<line x1="323.7" y1="865.6" x2="405.5" y2="865.6" stroke="#2a2a2a" stroke-width="1.15" />
<line x1="414.6" y1="865.6" x2="496.41" y2="865.6" stroke="#2a2a2a" stroke-width="1.15" />
<line x1="455.5" y1="865.6" x2="455.5" y2="674.03" stroke="#2a2a2a" stroke-width="1.15" />
<line x1="451.3" y1="674.03" x2="459.7" y2="674.03" stroke="#2a2a2a" stroke-width="1.15" />
<path d="M179.3 840.4h0M187.1 840.4h0M213.6 840.4h0M180.3 840.4h0M183.4 840.4h0M189.2 840.4h0M159.9 840.4h0M183.7 840.4h0M192.2 840.4h0M204.1 840.4h0M153.3 840.4h0M168.5 840.4h0M196.9 760.4h0M216.6 772.9h0M157.9 699.3h0M150.8 785.8h0M148.6 745.4h0M207.7 717.8h0M182.8 712.5h0M166.7 698.9h0M207.5 632.7h0M163.1 694.2h0M202.2 734.9h0M174.5 723.4h0M146.5 655.4h0M180.6 742.9h0M151.8 646.7h0M166.1 701.9h0M216.5 761.7h0M164.4 688.5h0M204.4 759.2h0M179 746.8h0M156 745.1h0M177 700.6h0M217 742.7h0M210.8 683.1h0M208.6 743.2h0M218.4 701.2h0M202.6 742.7h0M151.8 730.6h0M164.1 761h0M179.4 704.7h0M188.2 655.6h0M157.6 674.8h0M164.6 667.6h0M214.8 745.6h0M210.6 744.5h0M154 704.7h0M163.8 774h0M206.3 694.2h0M159.2 705.3h0M163 692.7h0M191.1 708.7h0M161.3 735h0M178.9 784.9h0M173.3 767.5h0M172.8 708h0M194.2 670.6h0M156.6 695.6h0M212.6 776.1h0M148 694.4h0M199.6 701.5h0M151.9 731.3h0M211.9 709.8h0M204.1 690.8h0M196.3 666.8h0M176.8 669.1h0M188.1 684.4h0M188.8 702.6h0M192.9 704.3h0M199.4 637.5h0M188.7 724.5h0M152.5 719.7h0M190.2 689.6h0M197.2 716.4h0M213.4 714.6h0M168.3 738.1h0M158.8 697.4h0M178.6 668.2h0M194.9 671h0M205.1 744.7h0M174.4 666.5h0M156.3 706.8h0M208.2 714.5h0M166.6 693.3h0M166.4 748.4h0M191.9 742.6h0M207.5 715.3h0M151.9 645.6h0M149.5 776.7h0M168.9 694.1h0M156.3 684.9h0M206.8 719.1h0M149.9 740.1h0M192.3 702h0M216.1 699.2h0M181 696.4h0M180.8 747.1h0M166.2 693.2h0M184.3 728.8h0M175.1 703.4h0M152.8 684.4h0M155.9 662.9h0M212.6 718.8h0M210.4 725.7h0M180.2 683.8h0M198.9 700h0M198.6 681.4h0M217.7 742.4h0M203.9 648.2h0M208.7 731.3h0M178.5 728.6h0M181.9 709.8h0M151.1 778.3h0M170.8 683.7h0M157.3 685.3h0M207.5 713h0M182.3 695.4h0M162.5 658.5h0M199.4 712.1h0M207.8 700.9h0M174.2 709h0M298.8 840.4h0M302.8 840.4h0M252.5 840.4h0M299.2 840.4h0M307.8 840.4h0M275.5 840.4h0M279 840.4h0M252 840.4h0M276.3 840.4h0M273.9 840.4h0M281.4 840.4h0M239.4 840.4h0M307.8 840.4h0M274.9 840.4h0M266.5 840.4h0M295.6 840.4h0M278.3 840.4h0M273 840.4h0M287.6 840.4h0M242.1 840.4h0M276.5 840.4h0M267.4 840.4h0M306.9 840.4h0M304.5 840.4h0M256.9 840.4h0M271.7 840.4h0M246.6 840.4h0M268.9 840.4h0M296.7 840.4h0M302.8 840.4h0M272 840.4h0M260.4 840.4h0M251.3 840.4h0M282.3 840.4h0M304.6 840.4h0M246.8 840.4h0M251.5 697.2h0M260.8 740.3h0M245 729.3h0M274.5 701.3h0M275.9 738.2h0M267.4 723.4h0M252.2 716.5h0M275.9 708.9h0M299.6 690h0M296.3 739.4h0M260.2 683.7h0M309.9 680.5h0M254.7 686.1h0M244.4 701.7h0M294.8 692h0M287.2 751.5h0M287 782.6h0M245.7 682h0M273.9 718.1h0M242.5 705h0M277.5 754.5h0M248 717.3h0M298.4 744.7h0M244.3 661.2h0M270.9 762.8h0M271.3 698.5h0M281 717.3h0M298.7 785.6h0M291.1 744.6h0M249.3 725.8h0M302.3 718h0M299.9 695.1h0M280.9 709h0M295.9 718h0M291.5 737h0M266.8 697.3h0M287.9 684.4h0M266.8 698.3h0M262.2 702.3h0M263.2 721.2h0M254.2 708.5h0M261.9 676.1h0M276.1 707.1h0M284 726.8h0M308.6 703.8h0M291.1 778.7h0M241 737.7h0M244.5 743.2h0M277.3 737.9h0M278.6 718h0M296.2 658.6h0M292.6 759.8h0M249 767.9h0M273.4 720.7h0M306.1 710.6h0M280.8 724.7h0M285 729h0M289.5 714.2h0M255.2 734.6h0M292.2 769.2h0M291.8 726.8h0M306 766h0M268.6 760.1h0M255.1 719.9h0M289.9 716.7h0M296.7 720.8h0M282.7 711.5h0M241.1 722.1h0M269.5 716.6h0M256.4 706.3h0M293.9 712.7h0M306.6 716.2h0M245.6 701.3h0M282.8 684.9h0M287.2 729.4h0M283.4 714h0M255.4 699.4h0M301.2 665.9h0M257 770.6h0M244.8 724.2h0M243.6 715.7h0M283.2 705.7h0M252.7 727.9h0M298.3 730.1h0M296.2 760h0M252.8 709.3h0M296.2 724.4h0M309.3 728.3h0M291.6 731.6h0M264.2 680.9h0M243 755.5h0M272.6 757.9h0M293.7 704.9h0M285.5 759.9h0M290.1 758.5h0M247.7 704.5h0M264 729.2h0M278.7 752.3h0M303.8 681.1h0M259.5 723.2h0M305.3 732.6h0M263.6 685.1h0M266.1 728.9h0M278.3 727.2h0M298.2 695.6h0M292.5 714.2h0M239 686.5h0M278.6 717.3h0M295.8 670.6h0M294.6 762.6h0M290.9 758.1h0M283.5 684.3h0M284.5 749.1h0M293 738.7h0M266 716.7h0M286.2 730.5h0M289.8 719.1h0M267.2 702.8h0M299.4 692.8h0M302 694.5h0M275.4 672.9h0M268 702.9h0M291.2 724.9h0M249.5 661h0M258.6 742.3h0M259.8 670h0M293.8 752.8h0M270.7 745.2h0M240 712.5h0M253.1 753.9h0M280.6 739.4h0M257.8 740.6h0M260 745.4h0M272.2 714.9h0M303.8 737h0M306.9 730.7h0M241 720.2h0M265.3 675.2h0M257.3 716.4h0M254.6 661.4h0M264.4 788h0M281.4 695.5h0M260.7 747.5h0M274.9 737h0M256.7 708.3h0M293.4 716.1h0M298.9 796.6h0M257 693h0M272.3 702.7h0M280 720.8h0M294.7 689.2h0M244 724.5h0M276.9 693h0M297.8 717h0M242.9 733.1h0M289.3 733.5h0M245 729.2h0M307.7 726.6h0M238.2 692.3h0M254.6 727.8h0M238.1 714.1h0M252.4 660.8h0M264.7 710.5h0M261.9 716h0M256 726.5h0M261.3 742.6h0M290 676.2h0M244.1 731h0M286.6 749.4h0M266.6 703.1h0M243.9 691.4h0M246.4 740.6h0M304.3 725.8h0M284.4 723.8h0M265.4 698.2h0M238.5 731.2h0M308.7 726h0M281.6 696h0M262.2 781.6h0M264.8 707.8h0M297.3 717.6h0M293.1 710.5h0M263 683.6h0M289.2 718.9h0M289.4 663.3h0M306.1 692.1h0M243.4 709.6h0M288 738.5h0M263.6 731.4h0M308.1 721.6h0M276.9 749.9h0M256.6 714.1h0M296.8 682.5h0M297.3 711.5h0M254.9 734.7h0M250.8 713h0M239.7 715.2h0M305.7 744.8h0M286.2 707.2h0M280.4 700.7h0M251.9 694.9h0M265.4 721.2h0M275.1 713.8h0M261.5 736.7h0M286.1 708.3h0M281 748.5h0M282.7 721.1h0M292 704.7h0M298.3 719.4h0M268.9 689.6h0M275.6 713.4h0M303.1 716.9h0M290.1 732.3h0M280.8 684h0M280.5 699.9h0M269.8 761.4h0M241.1 718.3h0M254.7 704.4h0M254.5 733.5h0M307.6 761h0M268 706.5h0M291.6 694.8h0M244.5 713.4h0M276.4 696.2h0M255.1 675.1h0M241.9 734h0M266.2 684.4h0M240.7 729.3h0M259.7 773.9h0M308.4 718.5h0M258.8 720.7h0M251.6 680.2h0M271.7 691.5h0M309.7 745.8h0M251.3 742.7h0M245.1 687h0M302.8 701.7h0M247.1 687.7h0M269.7 703.7h0M259.7 759h0M250.5 703.1h0M294.8 739.4h0M355.3 840.4h0M376.4 840.4h0M392.6 840.4h0M371.1 840.4h0M344.9 840.4h0M350.1 840.4h0M395.6 840.4h0M376.7 840.4h0M348.4 840.4h0M374.8 840.4h0M334.8 840.4h0M399.7 840.4h0M360.3 840.4h0M491 654.4h0M457.6 840.4h0M457.7 840.4h0M422.4 840.4h0M462.8 840.4h0M439.8 840.4h0M437.4 840.4h0M477.6 840.4h0M425.5 840.4h0" stroke="#000" stroke-width="7" stroke-linecap="round" fill="none" transform="scale(1 1.03)" />
<text x="319.15" y="621.1" font-size="24.4" text-anchor="middle" font-weight="bold" fill="#000">PPARG</text>
<path d="M127.7 638.2V877.1H511.6" stroke="#1c1c1c" stroke-width="1.8" fill="none" />
<line x1="122.8" y1="865.6" x2="127.7" y2="865.6" stroke="#1c1c1c" stroke-width="1.8" />
<text x="117.5" y="872.5" font-size="18.7" text-anchor="end" fill="#111" textLength="10.3" lengthAdjust="spacingAndGlyphs">0</text>
<line x1="122.8" y1="822.16" x2="127.7" y2="822.16" stroke="#1c1c1c" stroke-width="1.8" />
<text x="117.5" y="829.06" font-size="18.7" text-anchor="end" fill="#111" textLength="10.3" lengthAdjust="spacingAndGlyphs">1</text>
<line x1="122.8" y1="778.72" x2="127.7" y2="778.72" stroke="#1c1c1c" stroke-width="1.8" />
<text x="117.5" y="785.62" font-size="18.7" text-anchor="end" fill="#111" textLength="10.3" lengthAdjust="spacingAndGlyphs">2</text>
<line x1="122.8" y1="735.28" x2="127.7" y2="735.28" stroke="#1c1c1c" stroke-width="1.8" />
<text x="117.5" y="742.18" font-size="18.7" text-anchor="end" fill="#111" textLength="10.3" lengthAdjust="spacingAndGlyphs">3</text>
<line x1="122.8" y1="691.84" x2="127.7" y2="691.84" stroke="#1c1c1c" stroke-width="1.8" />
<text x="117.5" y="698.74" font-size="18.7" text-anchor="end" fill="#111" textLength="10.3" lengthAdjust="spacingAndGlyphs">4</text>
<line x1="122.8" y1="648.4" x2="127.7" y2="648.4" stroke="#1c1c1c" stroke-width="1.8" />
<text x="117.5" y="655.3" font-size="18.7" text-anchor="end" fill="#111" textLength="10.3" lengthAdjust="spacingAndGlyphs">5</text>
<line x1="182.8" y1="877.1" x2="182.8" y2="882" stroke="#1c1c1c" stroke-width="1.8" />
<text x="190.3" y="897.1" font-size="18.4" text-anchor="end" fill="#111" transform="rotate(-46.5 190.3 897.1)" textLength="48.76" lengthAdjust="spacingAndGlyphs">HLW1</text>
<line x1="273.7" y1="877.1" x2="273.7" y2="882" stroke="#1c1c1c" stroke-width="1.8" />
<text x="281.2" y="897.1" font-size="18.4" text-anchor="end" fill="#111" transform="rotate(-46.5 281.2 897.1)" textLength="48.76" lengthAdjust="spacingAndGlyphs">HLW2</text>
<line x1="364.6" y1="877.1" x2="364.6" y2="882" stroke="#1c1c1c" stroke-width="1.8" />
<text x="372.1" y="897.1" font-size="18.4" text-anchor="end" fill="#111" transform="rotate(-46.5 372.1 897.1)" textLength="45.77" lengthAdjust="spacingAndGlyphs">LLW1</text>
<line x1="455.5" y1="877.1" x2="455.5" y2="882" stroke="#1c1c1c" stroke-width="1.8" />
<text x="463" y="897.1" font-size="18.4" text-anchor="end" fill="#111" transform="rotate(-46.5 463 897.1)" textLength="45.77" lengthAdjust="spacingAndGlyphs">LLW2</text>
<text x="81.8" y="758.15" font-size="21.8" text-anchor="middle" fill="#111" transform="rotate(-90 81.8 758.15)" textLength="166.01" lengthAdjust="spacingAndGlyphs">Expression Level</text>
<line x1="592.5" y1="865.6" x2="674.5" y2="865.6" stroke="#2a2a2a" stroke-width="1.15" />
<line x1="633.5" y1="865.6" x2="633.5" y2="716.26" stroke="#2a2a2a" stroke-width="1.15" />
<line x1="683.61" y1="865.6" x2="765.6" y2="865.6" stroke="#2a2a2a" stroke-width="1.15" />
<line x1="724.6" y1="865.6" x2="724.6" y2="648.05" stroke="#2a2a2a" stroke-width="1.15" />
<line x1="774.71" y1="865.6" x2="856.7" y2="865.6" stroke="#2a2a2a" stroke-width="1.15" />
<line x1="815.7" y1="865.6" x2="815.7" y2="736.36" stroke="#2a2a2a" stroke-width="1.15" />
<line x1="865.8" y1="865.6" x2="947.79" y2="865.6" stroke="#2a2a2a" stroke-width="1.15" />
<line x1="906.8" y1="865.6" x2="906.8" y2="771.54" stroke="#2a2a2a" stroke-width="1.15" />
<line x1="902.6" y1="771.54" x2="911" y2="771.54" stroke="#2a2a2a" stroke-width="1.15" />
<path d="M603.7 755.3h0M608.7 755.3h0M624.4 774.2h0M633.5 739.3h0M637.4 740.7h0M634.6 744.2h0M645.1 749.8h0M647.9 749.8h0M639.6 784.6h0M664.4 784.6h0M650.1 724.7h0M659.7 719.1h0M656.7 695.4h0M668.6 710h0M631.6 840.4h0M645 840.4h0M645.6 840.4h0M607.5 840.4h0M597.9 840.4h0M624.4 840.4h0M617 840.4h0M656.1 840.4h0M647.4 840.4h0M640.9 840.4h0M637.7 840.4h0M645.3 840.4h0M607.6 840.4h0M629.1 840.4h0M608.9 840.4h0M663.1 840.4h0M601.3 840.4h0M656.7 840.4h0M602.5 840.4h0M647.1 840.4h0M621.6 840.4h0M626.5 840.4h0M658.5 840.4h0M598.4 840.4h0M601.5 840.4h0M663.7 840.4h0M634.2 840.4h0M603.7 840.4h0M669 840.4h0M666.1 840.4h0M605.3 840.4h0M627.9 840.4h0M606.9 840.4h0M619.8 840.4h0M642.4 840.4h0M609 840.4h0M647.8 840.4h0M600.8 840.4h0M609.5 840.4h0M656.5 840.4h0M626.2 840.4h0M627.6 840.4h0M640.5 840.4h0M631.8 840.4h0M625.1 840.4h0M599.3 840.4h0M650 840.4h0M667.6 840.4h0M668.2 840.4h0M645.4 840.4h0M623 840.4h0M623.5 840.4h0M647.4 840.4h0M646.2 840.4h0M605.4 840.4h0M614.2 840.4h0M623.5 840.4h0M634.3 840.4h0M656.1 840.4h0M633.5 840.4h0M599.1 840.4h0M657 840.4h0M628.4 840.4h0M634.9 840.4h0M613.3 840.4h0M628.2 840.4h0M625.4 840.4h0M653.3 840.4h0M604.5 840.4h0M637.1 840.4h0M610 840.4h0M647.8 840.4h0M599.7 840.4h0M617.2 840.4h0M622.1 840.4h0M643.5 840.4h0M600.9 840.4h0M630.5 840.4h0M612.3 840.4h0M617.6 840.4h0M631.8 840.4h0M666.9 840.4h0M632.1 840.4h0M666.7 840.4h0M609.3 840.4h0M664.4 840.4h0M623.6 840.4h0M610.9 840.4h0M651.6 840.4h0M663.5 840.4h0M597.5 840.4h0M616.6 840.4h0M653.2 840.4h0M622 840.4h0M614.7 840.4h0M597.7 840.4h0M600 840.4h0M642.2 840.4h0M668.8 840.4h0M669.8 840.4h0M633.8 840.4h0M598.8 840.4h0M620.6 840.4h0M654.4 840.4h0M657.7 840.4h0M643.7 840.4h0M613.8 840.4h0M635.5 840.4h0M748.9 629.9h0M713 650.1h0M700.3 664.7h0M704.2 666.1h0M751.7 674.5h0M759.9 675.2h0M757.7 678.7h0M727.9 677.3h0M719.1 680.1h0M718.5 684.2h0M694.8 692.6h0M704.7 691.2h0M713.6 691.2h0M735.6 692.6h0M725.2 696.8h0M708.9 701.7h0M736.2 705.9h0M747.2 707.9h0M749.4 716.3h0M755.8 717h0M755.8 722.6h0M734.5 719.8h0M688.2 721.2h0M730.1 726.1h0M691.5 729.6h0M717.1 730.9h0M739.2 732.3h0M752.5 733.7h0M742.5 737.2h0M692 738.6h0M746.7 744.9h0M752.2 746.3h0M719.9 746.3h0M689 751.9h0M735.6 753.9h0M748.3 753.9h0M693.1 758.1h0M708 760.9h0M731.8 767.2h0M742.8 772.1h0M742.8 775.6h0M755 773.5h0M697.5 776.3h0M723 840.4h0M733.9 840.4h0M707.3 840.4h0M757.2 840.4h0M753.3 840.4h0M700 840.4h0M709.4 840.4h0M751.8 840.4h0M708.4 840.4h0M757 840.4h0M725.7 840.4h0M738.9 840.4h0M739.5 840.4h0M703.8 840.4h0M708.9 840.4h0M706.7 840.4h0M738 840.4h0M738.7 840.4h0M697.8 840.4h0M752.8 840.4h0M718.8 840.4h0M705.7 840.4h0M719.9 840.4h0M759.5 840.4h0M729 840.4h0M733.7 840.4h0M755.2 840.4h0M758.3 840.4h0M743.6 840.4h0M718.6 840.4h0M731 840.4h0M753.8 840.4h0M745.7 840.4h0M730.4 840.4h0M713.5 840.4h0M715 840.4h0M741.8 840.4h0M729.2 840.4h0M689.4 840.4h0M739.9 840.4h0M754 840.4h0M746.3 840.4h0M753.6 840.4h0M754.5 840.4h0M727.1 840.4h0M745.7 840.4h0M715.8 840.4h0M695.3 840.4h0M713.9 840.4h0M710.9 840.4h0M756.2 840.4h0M738.4 840.4h0M727.6 840.4h0M733.5 840.4h0M697.2 840.4h0M727.1 840.4h0M739.2 840.4h0M716.9 840.4h0M706.1 840.4h0M717.8 840.4h0M711.7 840.4h0M738.1 840.4h0M698.5 840.4h0M694.8 840.4h0M710.9 840.4h0M738.9 840.4h0M743.5 840.4h0M736.2 840.4h0M756.3 840.4h0M714.8 840.4h0M690.3 840.4h0M723.7 840.4h0M720.5 840.4h0M701.2 840.4h0M736.8 840.4h0M713 840.4h0M705.5 840.4h0M712 840.4h0M756.9 840.4h0M688.7 840.4h0M714.4 840.4h0M708.5 840.4h0M702.8 840.4h0M719.7 840.4h0M704.2 840.4h0M755.1 840.4h0M724.7 840.4h0M739 840.4h0M700 840.4h0M722 840.4h0M732.4 840.4h0M749.6 840.4h0M706.4 840.4h0M721.7 840.4h0M750.5 840.4h0M748.8 840.4h0M704.7 840.4h0M727.4 840.4h0M743.6 840.4h0M717 840.4h0M737.2 840.4h0M736.5 840.4h0M759 840.4h0M728.5 840.4h0M737.8 840.4h0M713.7 840.4h0M741.5 840.4h0M711.6 840.4h0M724.6 840.4h0M714.5 840.4h0M710.5 840.4h0M698.1 840.4h0M704.6 840.4h0M727.8 840.4h0M706.5 840.4h0M691.5 840.4h0M746.7 840.4h0M709 840.4h0M756.4 840.4h0M731.8 840.4h0M716.5 840.4h0M751.8 840.4h0M753.5 840.4h0M711.6 840.4h0M697.3 840.4h0M734.9 840.4h0M749.6 840.4h0M732.5 840.4h0M745.3 840.4h0M718.2 840.4h0M733.2 840.4h0M707.3 840.4h0M717.8 840.4h0M715.8 840.4h0M716.2 840.4h0M717.3 840.4h0M747 840.4h0M700.5 840.4h0M703.1 840.4h0M706.7 840.4h0M758.9 840.4h0M726.3 840.4h0M692 840.4h0M749 840.4h0M751.8 840.4h0M748 840.4h0M714.3 840.4h0M741.7 840.4h0M710.4 840.4h0M698.2 840.4h0M751.2 840.4h0M748.9 840.4h0M703.6 840.4h0M752.3 840.4h0M690 840.4h0M710.6 840.4h0M689.1 840.4h0M700.6 840.4h0M700.1 840.4h0M740.3 840.4h0M709.8 840.4h0M702 840.4h0M701.6 840.4h0M710.9 840.4h0M751 840.4h0M732.4 840.4h0M695.6 840.4h0M738.1 840.4h0M727.2 840.4h0M720.8 840.4h0M726.6 840.4h0M735.6 840.4h0M746.5 840.4h0M725 840.4h0M734.5 840.4h0M722.2 840.4h0M734.4 840.4h0M716.5 840.4h0M718.4 840.4h0M725.8 840.4h0M740.3 840.4h0M708.5 840.4h0M755.6 840.4h0M724 840.4h0M750.5 840.4h0M738.5 840.4h0M757.9 840.4h0M737.9 840.4h0M719.3 840.4h0M717.7 840.4h0M732.4 840.4h0M743.1 840.4h0M749.3 840.4h0M697.6 840.4h0M692.7 840.4h0M696 840.4h0M694.3 840.4h0M692.3 840.4h0M688.8 840.4h0M706.3 840.4h0M696.4 840.4h0M738.1 840.4h0M733 840.4h0M758.5 840.4h0M758.2 840.4h0M742.6 840.4h0M757.4 840.4h0M690.2 840.4h0M704.8 840.4h0M755.7 840.4h0M722.8 840.4h0M703.2 840.4h0M743.3 840.4h0M719 840.4h0M727.7 840.4h0M711.2 840.4h0M705.8 840.4h0M694.5 840.4h0M732.4 840.4h0M757.6 840.4h0M760.1 840.4h0M743.9 840.4h0M756.2 840.4h0M714.6 840.4h0M709.9 840.4h0M755.5 840.4h0M731.9 840.4h0M736.9 840.4h0M689.1 840.4h0M704.8 840.4h0M723.3 840.4h0M741.4 840.4h0M748.3 840.4h0M743.4 840.4h0M712.9 840.4h0M815.7 714.9h0M807.1 840.4h0M842.1 840.4h0M851.4 840.4h0M814.6 840.4h0M793.5 840.4h0M824.8 840.4h0M818.3 840.4h0M805.6 840.4h0M796.1 840.4h0M807.3 840.4h0M823.9 840.4h0M788.5 840.4h0M910.4 749.1h0M909.8 840.4h0M939.8 840.4h0M924.7 840.4h0M888.7 840.4h0M900.9 840.4h0M877.8 840.4h0M924.1 840.4h0M916.4 840.4h0" stroke="#000" stroke-width="7" stroke-linecap="round" fill="none" transform="scale(1 1.03)" />
<text x="769.9" y="621.1" font-size="24.4" text-anchor="middle" font-weight="bold" fill="#000">PPARA</text>
<path d="M578.9 638.2V877.1H961.9" stroke="#1c1c1c" stroke-width="1.8" fill="none" />
<line x1="574" y1="865.6" x2="578.9" y2="865.6" stroke="#1c1c1c" stroke-width="1.8" />
<text x="568.7" y="872.5" font-size="18.7" text-anchor="end" fill="#111" textLength="10.3" lengthAdjust="spacingAndGlyphs">0</text>
<line x1="574" y1="793.8" x2="578.9" y2="793.8" stroke="#1c1c1c" stroke-width="1.8" />
<text x="568.7" y="800.7" font-size="18.7" text-anchor="end" fill="#111" textLength="10.3" lengthAdjust="spacingAndGlyphs">1</text>
<line x1="574" y1="722" x2="578.9" y2="722" stroke="#1c1c1c" stroke-width="1.8" />
<text x="568.7" y="728.9" font-size="18.7" text-anchor="end" fill="#111" textLength="10.3" lengthAdjust="spacingAndGlyphs">2</text>
<line x1="574" y1="650.2" x2="578.9" y2="650.2" stroke="#1c1c1c" stroke-width="1.8" />
<text x="568.7" y="657.1" font-size="18.7" text-anchor="end" fill="#111" textLength="10.3" lengthAdjust="spacingAndGlyphs">3</text>
<line x1="633.5" y1="877.1" x2="633.5" y2="882" stroke="#1c1c1c" stroke-width="1.8" />
<text x="641" y="897.1" font-size="18.4" text-anchor="end" fill="#111" transform="rotate(-46.5 641 897.1)" textLength="48.76" lengthAdjust="spacingAndGlyphs">HLW1</text>
<line x1="724.6" y1="877.1" x2="724.6" y2="882" stroke="#1c1c1c" stroke-width="1.8" />
<text x="732.1" y="897.1" font-size="18.4" text-anchor="end" fill="#111" transform="rotate(-46.5 732.1 897.1)" textLength="48.76" lengthAdjust="spacingAndGlyphs">HLW2</text>
<line x1="815.7" y1="877.1" x2="815.7" y2="882" stroke="#1c1c1c" stroke-width="1.8" />
<text x="823.2" y="897.1" font-size="18.4" text-anchor="end" fill="#111" transform="rotate(-46.5 823.2 897.1)" textLength="45.77" lengthAdjust="spacingAndGlyphs">LLW1</text>
<line x1="906.8" y1="877.1" x2="906.8" y2="882" stroke="#1c1c1c" stroke-width="1.8" />
<text x="914.3" y="897.1" font-size="18.4" text-anchor="end" fill="#111" transform="rotate(-46.5 914.3 897.1)" textLength="45.77" lengthAdjust="spacingAndGlyphs">LLW2</text>
<text x="547.5" y="758.15" font-size="21.8" text-anchor="middle" fill="#111" transform="rotate(-90 547.5 758.15)" textLength="166.01" lengthAdjust="spacingAndGlyphs">Expression Level</text>
<line x1="141.9" y1="1228.6" x2="223.71" y2="1228.6" stroke="#2a2a2a" stroke-width="1.15" />
<line x1="182.8" y1="1228.6" x2="182.8" y2="1115.72" stroke="#2a2a2a" stroke-width="1.15" />
<line x1="232.8" y1="1228.6" x2="314.61" y2="1228.6" stroke="#2a2a2a" stroke-width="1.15" />
<line x1="273.7" y1="1228.6" x2="273.7" y2="1011.88" stroke="#2a2a2a" stroke-width="1.15" />
<line x1="323.7" y1="1228.6" x2="405.5" y2="1228.6" stroke="#2a2a2a" stroke-width="1.15" />
<line x1="414.6" y1="1228.6" x2="496.41" y2="1228.6" stroke="#2a2a2a" stroke-width="1.15" />
<path d="M174 1122.7h0M214.2 1083.2h0M165.3 1192.8h0M196.3 1192.8h0M196.2 1192.8h0M208.2 1192.8h0M159.9 1192.8h0M163.2 1192.8h0M157.1 1192.8h0M162.8 1192.8h0M199.8 1192.8h0M155.9 1192.8h0M185.1 1192.8h0M162 1192.8h0M167.9 1192.8h0M177.8 1192.8h0M207.4 1192.8h0M190.7 1192.8h0M147.5 1192.8h0M166.5 1192.8h0M157.1 1192.8h0M209.8 1192.8h0M205.3 1192.8h0M205.1 1192.8h0M206.5 1192.8h0M200.6 1192.8h0M215.5 1192.8h0M204.2 1192.8h0M165.1 1192.8h0M208.2 1192.8h0M181.8 1192.8h0M201.3 1192.8h0M187.5 1192.8h0M177.7 1192.8h0M172.9 1192.8h0M177.7 1192.8h0M169.3 1192.8h0M155 1192.8h0M206 1192.8h0M204.5 1192.8h0M218.1 1192.8h0M196.7 1192.8h0M186.7 1192.8h0M200.9 1192.8h0M156.2 1192.8h0M195.7 1192.8h0M178.7 1192.8h0M159.3 1192.8h0M161.2 1192.8h0M184.5 1192.8h0M164.9 1192.8h0M179.9 1192.8h0M190.5 1192.8h0M175.2 1192.8h0M156 1192.8h0M182.1 1192.8h0M163.6 1192.8h0M163.6 1192.8h0M160.6 1192.8h0M173.1 1192.8h0M151.8 1192.8h0M193.8 1192.8h0M215.8 1192.8h0M174.8 1192.8h0M198.7 1192.8h0M214.3 1192.8h0M149.6 1192.8h0M156.7 1192.8h0M205.1 1192.8h0M207.4 1192.8h0M192.9 1192.8h0M158.1 1192.8h0M176.5 1192.8h0M209.6 1192.8h0M210.9 1192.8h0M204.8 1192.8h0M161.2 1192.8h0M208.5 1192.8h0M173.7 1192.8h0M198.5 1192.8h0M156.4 1192.8h0M217.1 1192.8h0M190.3 1192.8h0M199 1192.8h0M161.8 1192.8h0M191.3 1192.8h0M188.7 1192.8h0M189.4 1192.8h0M172.6 1192.8h0M199.4 1192.8h0M171.3 1192.8h0M167.9 1192.8h0M158.4 1192.8h0M196.2 1192.8h0M154.6 1192.8h0M162.8 1192.8h0M151.5 1192.8h0M193.2 1192.8h0M186.9 1192.8h0M185.9 1192.8h0M149.3 1192.8h0M178.4 1192.8h0M171.4 1192.8h0M153.2 1192.8h0M146.7 1192.8h0M219 1192.8h0M155.3 1192.8h0M168.4 1192.8h0M166 1192.8h0M189.9 1192.8h0M152.1 1192.8h0M180.6 1192.8h0M173.1 1192.8h0M207.1 1192.8h0M146.9 1192.8h0M170.8 1192.8h0M182.5 1192.8h0M217 1192.8h0M184 1192.8h0M180.9 1192.8h0M195.1 1192.8h0M168 1192.8h0M251.1 982.4h0M246.2 1080.6h0M239.6 1192.8h0M273.8 1192.8h0M303.5 1192.8h0M291 1192.8h0M256.1 1192.8h0M287.1 1192.8h0M299.1 1192.8h0M256.1 1192.8h0M280.1 1192.8h0M263.2 1192.8h0M255.1 1192.8h0M258.2 1192.8h0M252.2 1192.8h0M262.9 1192.8h0M240.1 1192.8h0M266.3 1192.8h0M243.6 1192.8h0M292.5 1192.8h0M281 1192.8h0M237.6 1192.8h0M293.6 1192.8h0M251.2 1192.8h0M272.3 1192.8h0M277.7 1192.8h0M261.5 1192.8h0M258.4 1192.8h0M269 1192.8h0M247.3 1192.8h0M300.1 1192.8h0M245.5 1192.8h0M297.2 1192.8h0M253.2 1192.8h0M259.4 1192.8h0M265.6 1192.8h0M239.8 1192.8h0M246.7 1192.8h0M263.6 1192.8h0M269.5 1192.8h0M301.1 1192.8h0M309.3 1192.8h0M240.5 1192.8h0M276.2 1192.8h0M246.7 1192.8h0M295.8 1192.8h0M260.8 1192.8h0M302.3 1192.8h0M277 1192.8h0M246.5 1192.8h0M237.7 1192.8h0M255.4 1192.8h0M300.5 1192.8h0M248.2 1192.8h0M272.2 1192.8h0M264.4 1192.8h0M262.4 1192.8h0M295.6 1192.8h0M252.9 1192.8h0M289.6 1192.8h0M285.8 1192.8h0M305.4 1192.8h0M275.1 1192.8h0M304.3 1192.8h0M269.4 1192.8h0M279 1192.8h0M282.5 1192.8h0M298.4 1192.8h0M302.6 1192.8h0M245.7 1192.8h0M247.3 1192.8h0M276.2 1192.8h0M296.4 1192.8h0M276.1 1192.8h0M259.1 1192.8h0M307.3 1192.8h0M259 1192.8h0M243.7 1192.8h0M241.1 1192.8h0M239.6 1192.8h0M290.2 1192.8h0M245.1 1192.8h0M289.4 1192.8h0M300.3 1192.8h0M310 1192.8h0M296.2 1192.8h0M268.2 1192.8h0M282.6 1192.8h0M297.9 1192.8h0M289.4 1192.8h0M258.5 1192.8h0M292.8 1192.8h0M245.3 1192.8h0M259.8 1192.8h0M309.8 1192.8h0M271.6 1192.8h0M256.8 1192.8h0M294.4 1192.8h0M270.1 1192.8h0M237.6 1192.8h0M239.5 1192.8h0M256.2 1192.8h0M261.5 1192.8h0M305.5 1192.8h0M255.3 1192.8h0M299.2 1192.8h0M299.4 1192.8h0M267.6 1192.8h0M309.6 1192.8h0M292.7 1192.8h0M272.5 1192.8h0M256.4 1192.8h0M270.9 1192.8h0M302.9 1192.8h0M276.4 1192.8h0M251.4 1192.8h0M264.7 1192.8h0M272 1192.8h0M251.2 1192.8h0M279 1192.8h0M239.8 1192.8h0M297.1 1192.8h0M250.3 1192.8h0M244.8 1192.8h0M280.2 1192.8h0M259.7 1192.8h0M301.7 1192.8h0M273.5 1192.8h0M275.3 1192.8h0M298 1192.8h0M252.9 1192.8h0M291.5 1192.8h0M284.5 1192.8h0M268.5 1192.8h0M307.1 1192.8h0M238.9 1192.8h0M300 1192.8h0M247.8 1192.8h0M298.4 1192.8h0M248.5 1192.8h0M241.2 1192.8h0M273.7 1192.8h0M304.7 1192.8h0M256.1 1192.8h0M272.7 1192.8h0M281.6 1192.8h0M255.1 1192.8h0M275.9 1192.8h0M238 1192.8h0M270 1192.8h0M292.6 1192.8h0M262.1 1192.8h0M253.4 1192.8h0M241 1192.8h0M288.3 1192.8h0M268.4 1192.8h0M303.8 1192.8h0M291.2 1192.8h0M244.6 1192.8h0M303.8 1192.8h0M305.1 1192.8h0M296.8 1192.8h0M297.8 1192.8h0M286.9 1192.8h0M289.8 1192.8h0M285.9 1192.8h0M280.3 1192.8h0M256 1192.8h0M247.1 1192.8h0M290.1 1192.8h0M280.7 1192.8h0M241.4 1192.8h0M284 1192.8h0M281.7 1192.8h0M274.5 1192.8h0M293.7 1192.8h0M301.1 1192.8h0M265.1 1192.8h0M296.6 1192.8h0M273.6 1192.8h0M278.9 1192.8h0M267.4 1192.8h0M305.2 1192.8h0M269.7 1192.8h0M306.6 1192.8h0M261.9 1192.8h0M286.2 1192.8h0M303.7 1192.8h0M287.1 1192.8h0M264.6 1192.8h0M243 1192.8h0M272.1 1192.8h0M267.5 1192.8h0M296.5 1192.8h0M294.4 1192.8h0M309.1 1192.8h0M269.9 1192.8h0M267.2 1192.8h0M278.4 1192.8h0M291.9 1192.8h0M243.2 1192.8h0M253 1192.8h0M247.9 1192.8h0M260.9 1192.8h0M259.1 1192.8h0M307.8 1192.8h0M252.4 1192.8h0M305.2 1192.8h0M258.8 1192.8h0M252.2 1192.8h0M308.2 1192.8h0M243.8 1192.8h0M245.5 1192.8h0M246.7 1192.8h0M242.2 1192.8h0M265.5 1192.8h0M252.8 1192.8h0M248.9 1192.8h0M238.5 1192.8h0M288.1 1192.8h0M240.9 1192.8h0M254.2 1192.8h0M278.5 1192.8h0M301.6 1192.8h0M285.3 1192.8h0M288.9 1192.8h0M288.3 1192.8h0M295.3 1192.8h0M299.4 1192.8h0M248.6 1192.8h0M241.3 1192.8h0M282.5 1192.8h0M275.1 1192.8h0M275.2 1192.8h0M294.2 1192.8h0M250 1192.8h0M288.7 1192.8h0M268.4 1192.8h0M268 1192.8h0M255.1 1192.8h0M257.8 1192.8h0M279.4 1192.8h0M277.6 1192.8h0M303.3 1192.8h0M257.7 1192.8h0M289.4 1192.8h0M244.4 1192.8h0M284.8 1192.8h0M249 1192.8h0M299.7 1192.8h0M307.5 1192.8h0M255.8 1192.8h0M296.1 1192.8h0M253.3 1192.8h0M259.5 1192.8h0M244.8 1192.8h0M269.4 1192.8h0M244.9 1192.8h0M288.6 1192.8h0M279.2 1192.8h0M267.9 1192.8h0M289 1192.8h0M254.3 1192.8h0M261.5 1192.8h0M263.8 1192.8h0M237.5 1192.8h0M301.8 1192.8h0M243.8 1192.8h0M244.7 1192.8h0M295.4 1192.8h0M296.9 1192.8h0M269.9 1192.8h0M268 1192.8h0M247.5 1192.8h0M237.4 1192.8h0M275.2 1192.8h0M255.1 1192.8h0M248.3 1192.8h0M394.1 1192.8h0M329.6 1192.8h0M354.6 1192.8h0M382.9 1192.8h0M382.5 1192.8h0M336 1192.8h0M382.2 1192.8h0M369.2 1192.8h0M374.1 1192.8h0M396.8 1192.8h0M386.3 1192.8h0M371.8 1192.8h0M475.1 1192.8h0M454.9 1192.8h0M459.3 1192.8h0M478.6 1192.8h0M464.2 1192.8h0M446.5 1192.8h0M420.6 1192.8h0M476.6 1192.8h0" stroke="#000" stroke-width="7" stroke-linecap="round" fill="none" transform="scale(1 1.03)" />
<text x="319.15" y="984.4" font-size="24.4" text-anchor="middle" font-weight="bold" fill="#000">CEBPA</text>
<path d="M127.7 1001V1239.3H511.6" stroke="#1c1c1c" stroke-width="1.8" fill="none" />
<line x1="122.8" y1="1228.6" x2="127.7" y2="1228.6" stroke="#1c1c1c" stroke-width="1.8" />
<text x="117.5" y="1235.5" font-size="18.7" text-anchor="end" fill="#111" textLength="25.74" lengthAdjust="spacingAndGlyphs">0.0</text>
<line x1="122.8" y1="1183.45" x2="127.7" y2="1183.45" stroke="#1c1c1c" stroke-width="1.8" />
<text x="117.5" y="1190.35" font-size="18.7" text-anchor="end" fill="#111" textLength="25.74" lengthAdjust="spacingAndGlyphs">0.5</text>
<line x1="122.8" y1="1138.3" x2="127.7" y2="1138.3" stroke="#1c1c1c" stroke-width="1.8" />
<text x="117.5" y="1145.2" font-size="18.7" text-anchor="end" fill="#111" textLength="25.74" lengthAdjust="spacingAndGlyphs">1.0</text>
<line x1="122.8" y1="1093.15" x2="127.7" y2="1093.15" stroke="#1c1c1c" stroke-width="1.8" />
<text x="117.5" y="1100.05" font-size="18.7" text-anchor="end" fill="#111" textLength="25.74" lengthAdjust="spacingAndGlyphs">1.5</text>
<line x1="122.8" y1="1048" x2="127.7" y2="1048" stroke="#1c1c1c" stroke-width="1.8" />
<text x="117.5" y="1054.9" font-size="18.7" text-anchor="end" fill="#111" textLength="25.74" lengthAdjust="spacingAndGlyphs">2.0</text>
<line x1="122.8" y1="1002.85" x2="127.7" y2="1002.85" stroke="#1c1c1c" stroke-width="1.8" />
<text x="117.5" y="1009.75" font-size="18.7" text-anchor="end" fill="#111" textLength="25.74" lengthAdjust="spacingAndGlyphs">2.5</text>
<line x1="182.8" y1="1239.3" x2="182.8" y2="1244.2" stroke="#1c1c1c" stroke-width="1.8" />
<text x="190.3" y="1259.3" font-size="18.4" text-anchor="end" fill="#111" transform="rotate(-46.5 190.3 1259.3)" textLength="48.76" lengthAdjust="spacingAndGlyphs">HLW1</text>
<line x1="273.7" y1="1239.3" x2="273.7" y2="1244.2" stroke="#1c1c1c" stroke-width="1.8" />
<text x="281.2" y="1259.3" font-size="18.4" text-anchor="end" fill="#111" transform="rotate(-46.5 281.2 1259.3)" textLength="48.76" lengthAdjust="spacingAndGlyphs">HLW2</text>
<line x1="364.6" y1="1239.3" x2="364.6" y2="1244.2" stroke="#1c1c1c" stroke-width="1.8" />
<text x="372.1" y="1259.3" font-size="18.4" text-anchor="end" fill="#111" transform="rotate(-46.5 372.1 1259.3)" textLength="45.77" lengthAdjust="spacingAndGlyphs">LLW1</text>
<line x1="455.5" y1="1239.3" x2="455.5" y2="1244.2" stroke="#1c1c1c" stroke-width="1.8" />
<text x="463" y="1259.3" font-size="18.4" text-anchor="end" fill="#111" transform="rotate(-46.5 463 1259.3)" textLength="45.77" lengthAdjust="spacingAndGlyphs">LLW2</text>
<text x="81.8" y="1120.65" font-size="21.8" text-anchor="middle" fill="#111" transform="rotate(-90 81.8 1120.65)" textLength="166.01" lengthAdjust="spacingAndGlyphs">Expression Level</text>
<path d="M592.5 1228.6 592.5 1226.23 592.65 1223.86 593.54 1221.49 594.83 1219.12 596.2 1216.75 597.91 1214.38 599.92 1212.01 602.11 1209.64 604.4 1207.27 607.08 1204.9 610.15 1202.53 613.33 1200.16 616.36 1197.79 618.95 1195.42 620.89 1193.05 622.66 1190.68 624.35 1188.31 625.84 1185.94 626.98 1183.57 627.65 1181.2 627.75 1178.83 627.62 1176.46 627.39 1174.09 627.07 1171.72 626.7 1169.36 626.3 1166.99 625.89 1164.62 625.32 1162.25 624.62 1159.88 623.84 1157.51 623.01 1155.14 622.17 1152.77 621.39 1150.4 620.68 1148.03 620.11 1145.66 619.66 1143.29 619.21 1140.92 618.77 1138.55 618.34 1136.18 617.93 1133.81 617.54 1131.44 617.2 1129.07 616.89 1126.7 616.64 1124.33 616.45 1121.96 616.33 1119.59 616.28 1117.22 616.32 1114.85 616.42 1112.48 616.59 1110.11 616.81 1107.74 617.08 1105.37 617.38 1103 617.72 1100.63 618.09 1098.26 618.47 1095.89 618.86 1093.52 619.25 1091.15 619.63 1088.78 620.06 1086.41 620.56 1084.04 621.11 1081.67 621.7 1079.3 622.33 1076.93 622.98 1074.56 623.65 1072.19 624.31 1069.82 624.96 1067.45 625.6 1065.08 626.2 1062.71 626.76 1060.34 627.3 1057.97 627.83 1055.6 628.36 1053.23 628.88 1050.86 629.39 1048.5 629.9 1046.13 630.42 1043.76 630.93 1041.39 631.45 1039.02 L635.55 1039.02 636.07 1041.39 636.58 1043.76 637.1 1046.13 637.61 1048.5 638.12 1050.86 638.64 1053.23 639.17 1055.6 639.7 1057.97 640.24 1060.34 640.8 1062.71 641.4 1065.08 642.04 1067.45 642.69 1069.82 643.35 1072.19 644.02 1074.56 644.67 1076.93 645.3 1079.3 645.89 1081.67 646.44 1084.04 646.94 1086.41 647.37 1088.78 647.75 1091.15 648.14 1093.52 648.53 1095.89 648.91 1098.26 649.28 1100.63 649.62 1103 649.92 1105.37 650.19 1107.74 650.41 1110.11 650.58 1112.48 650.68 1114.85 650.72 1117.22 650.67 1119.59 650.55 1121.96 650.36 1124.33 650.11 1126.7 649.8 1129.07 649.46 1131.44 649.07 1133.81 648.66 1136.18 648.23 1138.55 647.79 1140.92 647.34 1143.29 646.89 1145.66 646.32 1148.03 645.61 1150.4 644.83 1152.77 643.99 1155.14 643.16 1157.51 642.38 1159.88 641.68 1162.25 641.11 1164.62 640.7 1166.99 640.3 1169.36 639.93 1171.72 639.61 1174.09 639.38 1176.46 639.25 1178.83 639.35 1181.2 640.02 1183.57 641.16 1185.94 642.65 1188.31 644.34 1190.68 646.11 1193.05 648.05 1195.42 650.64 1197.79 653.67 1200.16 656.85 1202.53 659.92 1204.9 662.6 1207.27 664.89 1209.64 667.08 1212.01 669.09 1214.38 670.8 1216.75 672.17 1219.12 673.46 1221.49 674.35 1223.86 674.5 1226.23 674.5 1228.6Z" stroke="#2a2a2a" stroke-width="1.3" fill="#F8766D" stroke-linejoin="round"/>
<path d="M683.61 1228.6 683.95 1225.9 684.39 1223.2 685.47 1220.5 687.32 1217.8 689.42 1215.1 691.56 1212.39 693.97 1209.69 696.56 1206.99 699.27 1204.29 702 1201.59 704.86 1198.89 708.17 1196.19 711.57 1193.49 714.63 1190.79 716.92 1188.09 718.21 1185.39 719.26 1182.69 720.16 1179.98 720.84 1177.28 721.24 1174.58 721.32 1171.88 721.26 1169.18 721.15 1166.48 720.98 1163.78 720.78 1161.08 720.55 1158.38 720.29 1155.68 720.03 1152.98 719.76 1150.27 719.51 1147.57 719.26 1144.87 719 1142.17 718.68 1139.47 718.32 1136.77 717.95 1134.07 717.58 1131.37 717.23 1128.67 716.92 1125.97 716.67 1123.27 716.49 1120.56 716.41 1117.86 716.4 1115.16 716.4 1112.46 716.4 1109.76 716.4 1107.06 716.4 1104.36 716.4 1101.66 716.4 1098.96 716.4 1096.26 716.4 1093.56 716.4 1090.86 716.41 1088.15 716.46 1085.45 716.58 1082.75 716.75 1080.05 716.95 1077.35 717.18 1074.65 717.44 1071.95 717.7 1069.25 717.97 1066.55 718.22 1063.85 718.47 1061.15 718.71 1058.44 718.97 1055.74 719.24 1053.04 719.52 1050.34 719.81 1047.64 720.1 1044.94 720.39 1042.24 720.68 1039.54 720.97 1036.84 721.25 1034.14 721.52 1031.44 721.79 1028.74 722.05 1026.03 722.32 1023.33 722.58 1020.63 722.84 1017.93 723.11 1015.23 723.37 1012.53 L725.83 1012.53 726.09 1015.23 726.36 1017.93 726.62 1020.63 726.88 1023.33 727.15 1026.03 727.41 1028.74 727.68 1031.44 727.95 1034.14 728.23 1036.84 728.52 1039.54 728.81 1042.24 729.1 1044.94 729.39 1047.64 729.68 1050.34 729.96 1053.04 730.23 1055.74 730.49 1058.44 730.73 1061.15 730.98 1063.85 731.23 1066.55 731.5 1069.25 731.76 1071.95 732.02 1074.65 732.25 1077.35 732.45 1080.05 732.62 1082.75 732.74 1085.45 732.79 1088.15 732.8 1090.86 732.8 1093.56 732.8 1096.26 732.8 1098.96 732.8 1101.66 732.8 1104.36 732.8 1107.06 732.8 1109.76 732.8 1112.46 732.8 1115.16 732.79 1117.86 732.71 1120.56 732.53 1123.27 732.28 1125.97 731.97 1128.67 731.62 1131.37 731.25 1134.07 730.88 1136.77 730.52 1139.47 730.2 1142.17 729.94 1144.87 729.69 1147.57 729.44 1150.27 729.17 1152.98 728.91 1155.68 728.65 1158.38 728.42 1161.08 728.22 1163.78 728.05 1166.48 727.94 1169.18 727.88 1171.88 727.96 1174.58 728.36 1177.28 729.04 1179.98 729.94 1182.69 730.99 1185.39 732.28 1188.09 734.57 1190.79 737.63 1193.49 741.03 1196.19 744.34 1198.89 747.2 1201.59 749.93 1204.29 752.64 1206.99 755.23 1209.69 757.64 1212.39 759.78 1215.1 761.88 1217.8 763.73 1220.5 764.81 1223.2 765.25 1225.9 765.6 1228.6Z" stroke="#2a2a2a" stroke-width="1.3" fill="#7CAE00" stroke-linejoin="round"/>
<line x1="774.71" y1="1228.6" x2="856.7" y2="1228.6" stroke="#2a2a2a" stroke-width="1.15" />
<line x1="815.7" y1="1228.6" x2="815.7" y2="1087.81" stroke="#2a2a2a" stroke-width="1.15" />
<line x1="811.5" y1="1087.81" x2="819.9" y2="1087.81" stroke="#2a2a2a" stroke-width="1.15" />
<line x1="811.5" y1="1124.05" x2="819.9" y2="1124.05" stroke="#2a2a2a" stroke-width="1.15" />
<path d="M865.8 1228.6 866.24 1226.49 866.98 1224.38 868.8 1222.27 871.38 1220.17 874.11 1218.06 877.11 1215.95 880.57 1213.84 884.18 1211.73 887.63 1209.62 890.63 1207.52 893.37 1205.41 896.04 1203.3 898.48 1201.19 900.53 1199.08 902.04 1196.97 903.29 1194.87 904.44 1192.76 905.38 1190.65 906 1188.54 906.19 1186.43 906.2 1184.32 906.22 1182.21 906.23 1180.11 906.24 1178 906.25 1175.89 906.26 1173.78 906.27 1171.67 906.27 1169.56 906.28 1167.46 906.29 1165.35 906.29 1163.24 906.3 1161.13 906.3 1159.02 906.3 1156.91 906.3 1154.81 906.31 1152.7 906.31 1150.59 906.31 1148.48 906.31 1146.37 906.31 1144.26 906.31 1142.15 906.3 1140.05 906.3 1137.94 906.29 1135.83 906.28 1133.72 906.27 1131.61 906.26 1129.5 906.24 1127.4 906.22 1125.29 906.2 1123.18 906.17 1121.07 906.14 1118.96 906.11 1116.85 906.08 1114.75 906.03 1112.64 905.99 1110.53 905.81 1108.42 905.31 1106.31 904.66 1104.2 904.01 1102.09 903.22 1099.99 902.31 1097.88 901.35 1095.77 900.38 1093.66 899.47 1091.55 898.68 1089.44 897.95 1087.34 897.17 1085.23 896.47 1083.12 895.95 1081.01 895.73 1078.9 895.73 1076.79 895.73 1074.68 895.73 1072.58 895.73 1070.47 895.73 1068.36 895.9 1066.25 896.34 1064.14 896.88 1062.03 897.37 1059.93 L916.23 1059.93 916.72 1062.03 917.26 1064.14 917.7 1066.25 917.87 1068.36 917.87 1070.47 917.87 1072.58 917.87 1074.68 917.87 1076.79 917.87 1078.9 917.65 1081.01 917.13 1083.12 916.43 1085.23 915.65 1087.34 914.92 1089.44 914.13 1091.55 913.22 1093.66 912.25 1095.77 911.29 1097.88 910.38 1099.99 909.59 1102.09 908.94 1104.2 908.29 1106.31 907.79 1108.42 907.61 1110.53 907.57 1112.64 907.52 1114.75 907.49 1116.85 907.46 1118.96 907.43 1121.07 907.4 1123.18 907.38 1125.29 907.36 1127.4 907.34 1129.5 907.33 1131.61 907.32 1133.72 907.31 1135.83 907.3 1137.94 907.3 1140.05 907.29 1142.15 907.29 1144.26 907.29 1146.37 907.29 1148.48 907.29 1150.59 907.29 1152.7 907.3 1154.81 907.3 1156.91 907.3 1159.02 907.3 1161.13 907.31 1163.24 907.31 1165.35 907.32 1167.46 907.33 1169.56 907.33 1171.67 907.34 1173.78 907.35 1175.89 907.36 1178 907.37 1180.11 907.38 1182.21 907.4 1184.32 907.41 1186.43 907.6 1188.54 908.22 1190.65 909.16 1192.76 910.31 1194.87 911.56 1196.97 913.07 1199.08 915.12 1201.19 917.56 1203.3 920.23 1205.41 922.97 1207.52 925.97 1209.62 929.42 1211.73 933.03 1213.84 936.49 1215.95 939.49 1218.06 942.22 1220.17 944.8 1222.27 946.62 1224.38 947.36 1226.49 947.79 1228.6Z" stroke="#2a2a2a" stroke-width="1.3" fill="#C77CFF" stroke-linejoin="round"/>
<path d="M604.8 1192.8h0M648.3 1192.8h0M644.6 1192.8h0M665.6 1192.8h0M616.8 1192.8h0M615.7 1192.8h0M650.6 1192.8h0M645 1192.8h0M619.1 1192.8h0M646.9 1192.8h0M626 1192.8h0M653.7 1192.8h0M605.7 1192.8h0M613.3 1192.8h0M662.8 1192.8h0M623.2 1192.8h0M616 1192.8h0M655.7 1192.8h0M643.1 1192.8h0M608 1192.8h0M637.2 1192.8h0M645.5 1192.8h0M609.1 1192.8h0M644.6 1192.8h0M606 1192.8h0M621.6 1192.8h0M603.1 1192.8h0M612 1192.8h0M668.3 1192.8h0M626.5 1192.8h0M669.2 1192.8h0M629 1192.8h0M641.3 1192.8h0M660.7 1192.8h0M647.1 1192.8h0M605.2 1192.8h0M640 1192.8h0M643.2 1192.8h0M610.3 1192.8h0M604 1192.8h0M660.8 1192.8h0M634.5 1192.8h0M611.2 1192.8h0M630 1192.8h0M613 1192.8h0M655.2 1192.8h0M633.5 1192.8h0M604.5 1192.8h0M656.7 1192.8h0M603.6 1192.8h0M617.5 1192.8h0M599.1 1192.8h0M651 1192.8h0M605.4 1192.8h0M635.4 1192.8h0M603.8 1192.8h0M632.1 1192.8h0M647 1192.8h0M636 1192.8h0M630.2 1192.8h0M632.4 1192.8h0M628.9 1192.8h0M640.5 1192.8h0M604 1192.8h0M631.6 1192.8h0M614.3 1192.8h0M660.1 1192.8h0M607.5 1030.4h0M598.5 1062.3h0M627.9 1062.2h0M665.5 1095.9h0M610.8 1103.9h0M615.7 1070.2h0M619.8 1092h0M617.7 1017.2h0M615.4 1030.7h0M611.6 1136.6h0M616.3 1107.3h0M663.9 1105.6h0M623.9 1100.9h0M665.7 1076.1h0M658.4 1056.8h0M667 1094.2h0M620 1077.4h0M615.1 1034.7h0M621.8 1031.1h0M611.7 1104.4h0M615.9 1063.9h0M624.8 1086.7h0M623.9 1053.7h0M613.3 1088.8h0M607.7 1117h0M644.2 1066.2h0M665.1 1067.5h0M600.4 1067.4h0M631.3 1090.5h0M601.6 1030.9h0M636.6 1064.9h0M628.1 1124.3h0M657.5 1018h0M654.9 1031.7h0M624.7 1099.8h0M629.8 1074.1h0M635.6 1053.6h0M615.1 1100.3h0M597.1 1064.6h0M669.1 1011.4h0M659.4 1032.3h0M622.3 1090.9h0M607 1030.8h0M648.5 1025.4h0M657.9 1022.3h0M602.1 1087h0M655 1087.2h0M667.6 1089h0M599.3 1089.2h0M625.3 1043.5h0M613.2 1080.5h0M659.7 1107.1h0M660.2 1105.8h0M646.3 1076.8h0M653.5 1064.1h0M719.1 1192.8h0M704.5 1192.8h0M742.4 1192.8h0M733.7 1192.8h0M739.4 1192.8h0M701.5 1192.8h0M715.3 1192.8h0M738.5 1192.8h0M716.2 1192.8h0M732.1 1192.8h0M722.6 1192.8h0M743.2 1192.8h0M713.5 1192.8h0M724.4 1192.8h0M748.5 1192.8h0M710.8 1192.8h0M701 1192.8h0M734.6 1192.8h0M697.9 1192.8h0M750.6 1192.8h0M708.2 1192.8h0M754.1 1192.8h0M727.1 1192.8h0M699.4 1192.8h0M726.1 1192.8h0M737.9 1192.8h0M723.6 1192.8h0M734.4 1192.8h0M715.1 1192.8h0M758.1 1192.8h0M700.9 1192.8h0M746.3 1192.8h0M689.9 1192.8h0M725.1 1192.8h0M693 1192.8h0M697.8 1192.8h0M731 1192.8h0M754.1 1192.8h0M710.7 1192.8h0M717.5 1192.8h0M722.9 1192.8h0M732.3 1192.8h0M713.7 1192.8h0M713.8 1192.8h0M750.4 1192.8h0M728.7 1192.8h0M713.8 1192.8h0M747.8 1192.8h0M761 1192.8h0M719.7 1192.8h0M689.3 1192.8h0M710.4 1192.8h0M753.6 1192.8h0M700.7 1192.8h0M702.6 1192.8h0M745.9 1192.8h0M696.5 1192.8h0M750.1 1192.8h0M704.6 1192.8h0M716.4 1192.8h0M731.5 1192.8h0M696.3 1192.8h0M744.6 1192.8h0M720.1 1192.8h0M744.3 1192.8h0M743.8 1192.8h0M693.8 1192.8h0M748.1 1192.8h0M748 1192.8h0M705.8 1192.8h0M731.3 1192.8h0M703.1 1192.8h0M727.4 1192.8h0M743 1192.8h0M715.6 1192.8h0M727 1192.8h0M697.7 1192.8h0M751.1 1192.8h0M733.8 1192.8h0M748.7 1192.8h0M694 1192.8h0M742.5 1192.8h0M694.8 1192.8h0M728.7 1192.8h0M705 1192.8h0M753.9 1192.8h0M695.9 1192.8h0M722.6 1192.8h0M722.5 1192.8h0M716.3 1192.8h0M692.9 1192.8h0M736.7 1192.8h0M759 1192.8h0M714.5 1192.8h0M753.7 1192.8h0M712.8 1192.8h0M708.1 1192.8h0M721.3 1192.8h0M759.1 1192.8h0M745 1192.8h0M734.3 1192.8h0M691 1192.8h0M721.1 1192.8h0M689.2 1192.8h0M692.7 1192.8h0M715.6 1192.8h0M705.9 1192.8h0M695.7 1192.8h0M725.5 1192.8h0M745.2 1192.8h0M755.6 1192.8h0M754.9 1192.8h0M719.2 1192.8h0M701.2 1192.8h0M758.4 1192.8h0M719 1192.8h0M713.2 1192.8h0M748.2 1192.8h0M728.8 1192.8h0M757.6 1192.8h0M739.3 1192.8h0M757.1 1192.8h0M699.3 1192.8h0M756.9 1192.8h0M727.6 1192.8h0M738.9 1192.8h0M710.1 1192.8h0M706 1192.8h0M709.8 1192.8h0M700.5 1192.8h0M758.2 1192.8h0M696.9 1192.8h0M705.8 1192.8h0M734.3 1192.8h0M703.1 1192.8h0M703.7 1192.8h0M706.6 1192.8h0M705.2 1192.8h0M688.9 1192.8h0M742.1 1192.8h0M736.2 1192.8h0M710.8 1192.8h0M753.7 1192.8h0M728.9 1192.8h0M704.2 1192.8h0M758.5 1192.8h0M704.9 1192.8h0M747.2 1192.8h0M747.7 1192.8h0M688.4 1192.8h0M749.9 1192.8h0M718.8 1192.8h0M724.8 1192.8h0M757.1 1192.8h0M721.1 1192.8h0M705.8 1192.8h0M691.8 1192.8h0M752.7 1192.8h0M721.3 1192.8h0M740 1192.8h0M734.9 1192.8h0M759.6 1192.8h0M756.4 1192.8h0M756.4 1192.8h0M724.9 1192.8h0M754.5 1192.8h0M710.5 1192.8h0M690.2 1111.7h0M719.1 996.5h0M727.3 1089.3h0M713.2 1031.3h0M720.1 1094.2h0M716.4 1072.2h0M705.4 1079.3h0M725.3 1043.7h0M742.1 1058.7h0M757.1 1068.5h0M721.3 1006.3h0M722.7 1081.7h0M714.8 1038.4h0M709.3 1133.7h0M748.8 1067.1h0M705.1 1004.2h0M718.2 1008.7h0M731.5 1009.3h0M691 1020.7h0M691.1 1088.5h0M703.2 1085.6h0M694.4 1020.2h0M704.4 985.1h0M712.6 1076.5h0M733.2 1058.7h0M727.6 1027.1h0M690 1133.1h0M733.4 1117.1h0M695.7 1134.8h0M741.1 1085.8h0M711.6 1026.2h0M747.7 1093.7h0M752.3 997.5h0M725.5 1046.6h0M708 1033.6h0M737.3 1069h0M745.9 1084.7h0M755.4 1063.6h0M728 1006.4h0M760.1 1138.6h0M690.3 1065.4h0M693.6 1134.6h0M743.6 1037.1h0M716 1055.2h0M697 1110.8h0M715.7 1030h0M751.7 1023.3h0M731.5 1042h0M760.7 1051.8h0M706 1059.6h0M734.6 1008.8h0M715.8 1113.7h0M694.5 1084.3h0M751.5 1050.6h0M723.6 1098.4h0M708.6 1071.3h0M728.3 1089.3h0M748 1110.2h0M723.2 1045.8h0M743.6 1117h0M755.3 1138.5h0M737.8 1090.9h0M733.2 1106.7h0M702.6 1064.8h0M702.8 1067.5h0M708.4 1046.2h0M695.6 1076h0M696.2 1061.5h0M717.6 1075.8h0M746.8 1130.6h0M706.5 1019.3h0M740.3 1031.1h0M717.3 1069.7h0M746.4 1000.6h0M703.5 1102.8h0M736.7 1076.7h0M756.2 1058.4h0M697.7 1128.1h0M757 1114.6h0M730.3 1132.7h0M697.1 1025.6h0M696.9 1009.7h0M730.1 1095.4h0M722.8 1045.9h0M729.6 1085.3h0M696.6 1044.2h0M741.8 1116.7h0M713 1099.7h0M723.9 1110.3h0M719.8 1010.9h0M713.8 1089.4h0M693.6 1062.8h0M729.4 1101.9h0M728.5 1122.5h0M737.1 1134.2h0M723.4 1069.6h0M693.8 1004.4h0M736.6 1075.6h0M709.4 1111.2h0M744.5 1004.1h0M690.5 1127.2h0M698.6 1073.2h0M722.1 1124.1h0M708.5 1093.1h0M755.5 1114.3h0M732.4 1029.1h0M745 1023.2h0M742.3 1135.4h0M758.9 1074.2h0M741.3 1029.6h0M740 1104.9h0M803 1056.1h0M838.3 1091.3h0M822.9 1192.8h0M811.2 1192.8h0M839.4 1192.8h0M809.3 1192.8h0M784.4 1192.8h0M790.4 1192.8h0M790.2 1192.8h0M836.1 1192.8h0M783.9 1192.8h0M849.6 1192.8h0M821.3 1192.8h0M890.2 1050.7h0M915.9 1043.9h0M935.8 1029.1h0M875.5 1192.8h0M939.2 1192.8h0M942.5 1192.8h0M887.4 1192.8h0M911.3 1192.8h0M887.3 1192.8h0M880.2 1192.8h0" stroke="#000" stroke-width="7" stroke-linecap="round" fill="none" transform="scale(1 1.03)" />
<text x="769.9" y="984.4" font-size="24.4" text-anchor="middle" font-weight="bold" fill="#000">CEBPB</text>
<path d="M578.9 1001V1239.3H961.9" stroke="#1c1c1c" stroke-width="1.8" fill="none" />
<line x1="574" y1="1228.6" x2="578.9" y2="1228.6" stroke="#1c1c1c" stroke-width="1.8" />
<text x="568.7" y="1235.5" font-size="18.7" text-anchor="end" fill="#111" textLength="10.3" lengthAdjust="spacingAndGlyphs">0</text>
<line x1="574" y1="1158.9" x2="578.9" y2="1158.9" stroke="#1c1c1c" stroke-width="1.8" />
<text x="568.7" y="1165.8" font-size="18.7" text-anchor="end" fill="#111" textLength="10.3" lengthAdjust="spacingAndGlyphs">1</text>
<line x1="574" y1="1089.2" x2="578.9" y2="1089.2" stroke="#1c1c1c" stroke-width="1.8" />
<text x="568.7" y="1096.1" font-size="18.7" text-anchor="end" fill="#111" textLength="10.3" lengthAdjust="spacingAndGlyphs">2</text>
<line x1="574" y1="1019.5" x2="578.9" y2="1019.5" stroke="#1c1c1c" stroke-width="1.8" />
<text x="568.7" y="1026.4" font-size="18.7" text-anchor="end" fill="#111" textLength="10.3" lengthAdjust="spacingAndGlyphs">3</text>
<line x1="633.5" y1="1239.3" x2="633.5" y2="1244.2" stroke="#1c1c1c" stroke-width="1.8" />
<text x="641" y="1259.3" font-size="18.4" text-anchor="end" fill="#111" transform="rotate(-46.5 641 1259.3)" textLength="48.76" lengthAdjust="spacingAndGlyphs">HLW1</text>
<line x1="724.6" y1="1239.3" x2="724.6" y2="1244.2" stroke="#1c1c1c" stroke-width="1.8" />
<text x="732.1" y="1259.3" font-size="18.4" text-anchor="end" fill="#111" transform="rotate(-46.5 732.1 1259.3)" textLength="48.76" lengthAdjust="spacingAndGlyphs">HLW2</text>
<line x1="815.7" y1="1239.3" x2="815.7" y2="1244.2" stroke="#1c1c1c" stroke-width="1.8" />
<text x="823.2" y="1259.3" font-size="18.4" text-anchor="end" fill="#111" transform="rotate(-46.5 823.2 1259.3)" textLength="45.77" lengthAdjust="spacingAndGlyphs">LLW1</text>
<line x1="906.8" y1="1239.3" x2="906.8" y2="1244.2" stroke="#1c1c1c" stroke-width="1.8" />
<text x="914.3" y="1259.3" font-size="18.4" text-anchor="end" fill="#111" transform="rotate(-46.5 914.3 1259.3)" textLength="45.77" lengthAdjust="spacingAndGlyphs">LLW2</text>
<text x="547.5" y="1120.65" font-size="21.8" text-anchor="middle" fill="#111" transform="rotate(-90 547.5 1120.65)" textLength="166.01" lengthAdjust="spacingAndGlyphs">Expression Level</text>
<text x="1089" y="773.5" font-size="52" font-weight="bold" fill="#000" textLength="26.61" lengthAdjust="spacingAndGlyphs">e</text>
<text x="1637.8" y="765.5" font-size="37.2" text-anchor="middle" font-weight="bold" font-family="'Liberation Serif', 'Times New Roman', serif" fill="#000">Mature adipocytes marker genes</text>
<line x1="1230" y1="786" x2="1978" y2="786" stroke="#000" stroke-width="2.6" />
<path d="M1232.49 1088.8 1233.21 1086.35 1233.91 1083.9 1234.62 1081.44 1235.34 1078.99 1236.1 1076.54 1236.92 1074.09 1237.92 1071.64 1239.04 1069.19 1240.16 1066.73 1241.15 1064.28 1241.9 1061.83 1242.34 1059.38 1242.72 1056.93 1243.01 1054.48 1243.15 1052.02 1243.13 1049.57 1243.01 1047.12 1242.82 1044.67 1242.56 1042.22 1242.26 1039.76 1241.93 1037.31 1241.58 1034.86 1241.22 1032.41 1240.82 1029.96 1240.34 1027.51 1239.78 1025.05 1239.17 1022.6 1238.5 1020.15 1237.79 1017.7 1237.04 1015.25 1236.26 1012.8 1235.39 1010.34 1234.43 1007.89 1233.39 1005.44 1232.28 1002.99 1231.08 1000.54 1229.8 998.09 1228.45 995.63 1226.92 993.18 1225.12 990.73 1223.13 988.28 1221.04 985.83 1218.92 983.37 1216.85 980.92 1214.93 978.47 1213.21 976.02 1211.5 973.57 1209.8 971.12 1208.2 968.66 1206.8 966.21 1205.68 963.76 1204.89 961.31 1204.15 958.86 1203.49 956.41 1202.94 953.95 1202.56 951.5 1202.4 949.05 1202.5 946.6 1202.85 944.15 1203.41 941.69 1204.13 939.24 1204.96 936.79 1205.88 934.34 1207.27 931.89 1209.19 929.44 1211.37 926.98 1213.61 924.53 1216.27 922.08 1219.22 919.63 1222.1 917.18 1224.55 914.73 1226.33 912.27 1227.73 909.82 1228.95 907.37 1230.12 904.92 1231.39 902.47 1232.84 900.02 1234.38 897.56 1235.95 895.11 1237.51 892.66 L1250.89 892.66 1252.45 895.11 1254.02 897.56 1255.56 900.02 1257.01 902.47 1258.28 904.92 1259.45 907.37 1260.67 909.82 1262.07 912.27 1263.85 914.73 1266.3 917.18 1269.18 919.63 1272.13 922.08 1274.79 924.53 1277.03 926.98 1279.21 929.44 1281.13 931.89 1282.52 934.34 1283.44 936.79 1284.27 939.24 1284.99 941.69 1285.55 944.15 1285.9 946.6 1286 949.05 1285.84 951.5 1285.46 953.95 1284.91 956.41 1284.25 958.86 1283.51 961.31 1282.72 963.76 1281.6 966.21 1280.2 968.66 1278.6 971.12 1276.9 973.57 1275.19 976.02 1273.47 978.47 1271.55 980.92 1269.48 983.37 1267.36 985.83 1265.27 988.28 1263.28 990.73 1261.48 993.18 1259.95 995.63 1258.6 998.09 1257.32 1000.54 1256.12 1002.99 1255.01 1005.44 1253.97 1007.89 1253.01 1010.34 1252.14 1012.8 1251.36 1015.25 1250.61 1017.7 1249.9 1020.15 1249.23 1022.6 1248.62 1025.05 1248.06 1027.51 1247.58 1029.96 1247.18 1032.41 1246.82 1034.86 1246.47 1037.31 1246.14 1039.76 1245.84 1042.22 1245.58 1044.67 1245.39 1047.12 1245.27 1049.57 1245.25 1052.02 1245.39 1054.48 1245.68 1056.93 1246.06 1059.38 1246.5 1061.83 1247.25 1064.28 1248.24 1066.73 1249.36 1069.19 1250.48 1071.64 1251.48 1074.09 1252.3 1076.54 1253.06 1078.99 1253.78 1081.44 1254.49 1083.9 1255.19 1086.35 1255.91 1088.8Z" stroke="#2a2a2a" stroke-width="1.3" fill="#F8766D" stroke-linejoin="round"/>
<path d="M1316.62 1088.8 1318.13 1086.1 1319.63 1083.39 1321.15 1080.69 1322.76 1077.99 1324.6 1075.29 1326.77 1072.58 1328.96 1069.88 1330.81 1067.18 1332.05 1064.48 1333.1 1061.77 1334.05 1059.07 1334.8 1056.37 1335.29 1053.66 1335.43 1050.96 1335.4 1048.26 1335.33 1045.56 1335.24 1042.85 1335.13 1040.15 1335.01 1037.45 1334.86 1034.74 1334.65 1032.04 1334.39 1029.34 1334.08 1026.64 1333.72 1023.93 1333.32 1021.23 1332.88 1018.53 1332.33 1015.83 1331.64 1013.12 1330.8 1010.42 1329.85 1007.72 1328.79 1005.01 1327.65 1002.31 1326.43 999.61 1324.94 996.91 1323.15 994.2 1321.14 991.5 1319 988.8 1316.84 986.1 1314.74 983.39 1312.77 980.69 1310.73 977.99 1308.59 975.28 1306.46 972.58 1304.43 969.88 1302.61 967.18 1301.09 964.47 1299.95 961.77 1298.9 959.07 1297.9 956.36 1296.99 953.66 1296.23 950.96 1295.66 948.26 1295.35 945.55 1295.31 942.85 1295.45 940.15 1295.72 937.45 1296.11 934.74 1296.6 932.04 1297.19 929.34 1297.84 926.63 1298.56 923.93 1299.32 921.23 1300.26 918.53 1301.63 915.82 1303.35 913.12 1305.32 910.42 1307.45 907.71 1309.64 905.01 1311.78 902.31 1314.04 899.61 1316.65 896.9 1319.44 894.2 1322.22 891.5 1324.82 888.8 1327.04 886.09 1328.7 883.39 1329.86 880.69 1330.79 877.98 1331.62 875.28 1332.5 872.58 L1341.7 872.58 1342.58 875.28 1343.41 877.98 1344.34 880.69 1345.5 883.39 1347.16 886.09 1349.38 888.8 1351.98 891.5 1354.76 894.2 1357.55 896.9 1360.16 899.61 1362.42 902.31 1364.56 905.01 1366.75 907.71 1368.88 910.42 1370.85 913.12 1372.57 915.82 1373.94 918.53 1374.88 921.23 1375.64 923.93 1376.36 926.63 1377.01 929.34 1377.6 932.04 1378.09 934.74 1378.48 937.45 1378.75 940.15 1378.89 942.85 1378.85 945.55 1378.54 948.26 1377.97 950.96 1377.21 953.66 1376.3 956.36 1375.3 959.07 1374.25 961.77 1373.11 964.47 1371.59 967.18 1369.77 969.88 1367.74 972.58 1365.61 975.28 1363.47 977.99 1361.43 980.69 1359.46 983.39 1357.36 986.1 1355.2 988.8 1353.06 991.5 1351.05 994.2 1349.26 996.91 1347.77 999.61 1346.55 1002.31 1345.41 1005.01 1344.35 1007.72 1343.4 1010.42 1342.56 1013.12 1341.87 1015.83 1341.32 1018.53 1340.88 1021.23 1340.48 1023.93 1340.12 1026.64 1339.81 1029.34 1339.55 1032.04 1339.34 1034.74 1339.19 1037.45 1339.07 1040.15 1338.96 1042.85 1338.87 1045.56 1338.8 1048.26 1338.77 1050.96 1338.91 1053.66 1339.4 1056.37 1340.15 1059.07 1341.1 1061.77 1342.15 1064.48 1343.39 1067.18 1345.24 1069.88 1347.43 1072.58 1349.6 1075.29 1351.44 1077.99 1353.05 1080.69 1354.57 1083.39 1356.07 1086.1 1357.58 1088.8Z" stroke="#2a2a2a" stroke-width="1.3" fill="#7CAE00" stroke-linejoin="round"/>
<line x1="1388.19" y1="1088.8" x2="1471.81" y2="1088.8" stroke="#2a2a2a" stroke-width="1.15" />
<line x1="1481.1" y1="1088.8" x2="1564.71" y2="1088.8" stroke="#2a2a2a" stroke-width="1.15" />
<line x1="1522.9" y1="1088.8" x2="1522.9" y2="986.06" stroke="#2a2a2a" stroke-width="1.15" />
<line x1="1518.7" y1="986.06" x2="1527.1" y2="986.06" stroke="#2a2a2a" stroke-width="1.15" />
<path d="M1219.3 1057.1h0M1258.3 1057.1h0M1254.2 1057.1h0M1242.6 1057.1h0M1223.1 1057.1h0M1265.9 1057.1h0M1267.1 1057.1h0M1245.1 1057.1h0M1244.6 1057.1h0M1224.6 1057.1h0M1207.3 1057.1h0M1234.6 1057.1h0M1266 919h0M1210.2 948.4h0M1272.1 867.7h0M1231.5 916.6h0M1277.8 925.6h0M1267.8 936.1h0M1240.7 961.9h0M1243.1 921.2h0M1271.4 953.8h0M1222.5 948.2h0M1263.1 876.7h0M1261.3 904.5h0M1268.5 962.6h0M1273 951.4h0M1240.6 932.7h0M1235.8 934.3h0M1260.4 990.4h0M1243.6 869.8h0M1223.5 921.5h0M1253.3 916.9h0M1232.9 954.2h0M1251.4 885.5h0M1211.9 941.4h0M1234.9 899.6h0M1273.8 911.1h0M1280.6 879.3h0M1272.7 878.3h0M1225.4 926h0M1212.2 893.2h0M1242.9 900.6h0M1226.2 897.6h0M1219.7 942.6h0M1273.9 974.1h0M1242.6 872.5h0M1246.1 946.2h0M1222.8 907.6h0M1272.5 897.2h0M1250.2 917.4h0M1246.8 896.5h0M1207.8 943.9h0M1208.8 911h0M1270.3 918.2h0M1237.2 918.9h0M1217 878.6h0M1208.9 968h0M1271.5 929.9h0M1247.1 913.7h0M1223.4 939.7h0M1235.1 956.1h0M1210.5 908.8h0M1264.6 908.6h0M1241.5 902.4h0M1220.1 975.8h0M1258.8 908.9h0M1235.9 940.9h0M1229 940.5h0M1277.5 925h0M1244.8 967.3h0M1230.1 906.7h0M1248.7 909.7h0M1279.6 975.3h0M1280.9 937h0M1212.5 965.6h0M1240.3 899.6h0M1255 916.2h0M1236 929.7h0M1210.7 933.2h0M1259.4 930.8h0M1240.9 899.6h0M1243.2 947.9h0M1213.4 915.2h0M1260.3 926.9h0M1253.6 891h0M1270.9 904.9h0M1225.3 909.7h0M1252.7 887.4h0M1280.6 898.6h0M1230.2 1007.4h0M1248.2 934.2h0M1277.2 971.7h0M1215.1 906.4h0M1222.3 879.7h0M1257.7 938.7h0M1231 945.2h0M1218.4 945.8h0M1251.5 911.3h0M1277 944.1h0M1252.9 927.9h0M1235.6 943.7h0M1278.4 944.6h0M1276.5 986.2h0M1244.3 909.5h0M1259.1 984h0M1247.5 947.6h0M1240.8 967.9h0M1217.1 890.8h0M1246.4 902h0M1237 980.4h0M1266.7 921.3h0M1272.7 896.7h0M1213 995.9h0M1263.5 889.6h0M1267.6 953.3h0M1242.1 917.3h0M1227.1 901.3h0M1253.6 937.5h0M1212.1 891.4h0M1221.1 924.4h0M1209.8 944.7h0M1255.6 925.8h0M1311.7 1057.1h0M1307.7 1057.1h0M1369.1 1057.1h0M1340 1057.1h0M1330.3 1057.1h0M1351.3 1057.1h0M1354 1057.1h0M1338.9 1057.1h0M1305.8 1057.1h0M1361.4 1057.1h0M1315.8 1057.1h0M1302.9 1057.1h0M1326.1 1057.1h0M1339.5 1057.1h0M1346.6 1057.1h0M1312.9 1057.1h0M1352.7 1057.1h0M1336.6 1057.1h0M1312 1057.1h0M1363.2 1057.1h0M1359.9 1057.1h0M1367.3 1057.1h0M1350.4 1057.1h0M1316.1 1057.1h0M1357.7 1057.1h0M1367 1057.1h0M1339.6 1057.1h0M1367.5 1057.1h0M1372 1057.1h0M1328.9 1057.1h0M1369.9 1057.1h0M1369.6 1057.1h0M1358.9 1057.1h0M1345.5 1000.2h0M1348 906.1h0M1339.8 949.5h0M1374.1 878.5h0M1354.9 910.8h0M1306.1 878.5h0M1340.1 924.2h0M1309.7 886.3h0M1343.1 985h0M1315.6 985.4h0M1338.8 957.9h0M1309.1 876.3h0M1347.6 939.8h0M1348.3 890.9h0M1328 938.8h0M1339.9 916.8h0M1361.1 919.6h0M1354.7 908.1h0M1327.9 894.4h0M1349.3 925.4h0M1374.1 908.8h0M1354.5 945.2h0M1304 886.8h0M1337.1 927h0M1346.6 919.4h0M1364.2 907.2h0M1318.5 893.2h0M1368.9 889.8h0M1366.1 944.3h0M1347 964.6h0M1319.6 951.7h0M1316.2 899.5h0M1352.9 944h0M1324.8 942.3h0M1314.3 902.6h0M1351.7 952.6h0M1365.4 923.7h0M1353.8 902.3h0M1337.1 907.3h0M1347.2 864.3h0M1325.7 903.7h0M1333.9 892.5h0M1358.6 914.7h0M1333.8 990.6h0M1343.3 941.8h0M1312.2 962.4h0M1324.3 887.9h0M1313.8 943.2h0M1362.9 950.7h0M1339.7 942.1h0M1356.5 956.6h0M1340 943.9h0M1344.5 963h0M1342.8 960.4h0M1349.3 886.3h0M1323.6 1003.4h0M1358.3 873.7h0M1366.2 980.2h0M1313.5 890.9h0M1371.6 871.8h0M1339.4 890.3h0M1349.3 949.3h0M1359.5 902.1h0M1306.7 971.9h0M1355.9 931.2h0M1308.3 951.4h0M1317.2 901.5h0M1331.5 926.5h0M1335.1 898.8h0M1314.7 911h0M1324.5 916.3h0M1331.6 945.9h0M1315.9 944.8h0M1349.5 880.1h0M1333.4 940.8h0M1327.8 894.1h0M1361.8 936.1h0M1324.4 898.3h0M1310.8 876.6h0M1350.2 899.8h0M1318.2 863.5h0M1328.2 849.6h0M1329.3 860.2h0M1319.8 904.7h0M1355.2 888.3h0M1366.4 888.7h0M1337 885h0M1372 897.8h0M1349.3 902h0M1328.6 934.7h0M1306.8 953.2h0M1303.5 919.7h0M1337.9 903.8h0M1352.9 934.6h0M1354.1 923.6h0M1352.1 956.7h0M1319.1 883.9h0M1352.1 904.7h0M1325.6 882.8h0M1346.9 870.1h0M1358.2 885.9h0M1312.3 1013.3h0M1301.8 929.4h0M1342.5 888h0M1362.9 910.7h0M1356.5 905.3h0M1322.9 960h0M1329.4 938.9h0M1355.4 888.7h0M1323.8 895.3h0M1364.9 933.5h0M1371.6 850.3h0M1351.4 873.2h0M1345.7 889.6h0M1367.7 857.2h0M1336.1 962.8h0M1340.7 874.9h0M1353.6 955.4h0M1310.5 981.9h0M1304.6 903.5h0M1332.7 866.6h0M1345 909.4h0M1355.7 924.6h0M1356.7 946.2h0M1367.7 942.1h0M1323.2 949.8h0M1339.9 937.8h0M1303.7 956.6h0M1317.8 964.1h0M1362.1 929.9h0M1357.3 901.5h0M1345.7 899h0M1355.9 893.6h0M1319.6 903.9h0M1339.2 900.2h0M1353.7 875.5h0M1331.4 937h0M1319 912.6h0M1346.7 880.4h0M1371.9 956.7h0M1351.7 944h0M1372 914.6h0M1331.9 890.1h0M1350.1 922.9h0M1332 937.6h0M1327.9 995.5h0M1373.7 945h0M1363.6 871h0M1366.4 916.7h0M1327.7 969.8h0M1304.2 929.9h0M1317.3 899.7h0M1359.1 946.2h0M1312.8 941.2h0M1350 907.1h0M1363 962.6h0M1344.6 917h0M1360.9 948.8h0M1312.3 919h0M1347.8 946h0M1371.5 920.4h0M1315.1 929.7h0M1308.4 914.8h0M1328.3 930.5h0M1359.1 902h0M1354 918h0M1372.4 924.4h0M1326.5 913.7h0M1307.5 915.7h0M1360.6 924.5h0M1359.5 891.8h0M1304 923.4h0M1319.7 888.3h0M1359 918.4h0M1368.6 921.8h0M1325.4 890.5h0M1314 867.7h0M1356.2 927.6h0M1371.4 935.6h0M1349.3 961.4h0M1334.8 874.5h0M1324.4 888.6h0M1358.1 941.5h0M1369 952.9h0M1339.3 944.4h0M1336.4 863.2h0M1310.7 875.1h0M1371.9 887.4h0M1330.9 864.2h0M1315.3 941.5h0M1303.8 948.6h0M1354.6 907.2h0M1320.8 909.7h0M1320 960.7h0M1351 854.6h0M1336 884.3h0M1327.7 926.2h0M1301.8 917.7h0M1371.9 912.7h0M1323.4 911.4h0M1367.6 897.2h0M1346.7 908.9h0M1322.7 972.7h0M1344.3 895.9h0M1319.5 949h0M1338.8 882.6h0M1319.2 888.6h0M1358.9 898.2h0M1358.2 929.3h0M1347 938.8h0M1349.4 882.2h0M1335.4 942.6h0M1370.4 902.5h0M1335.6 949.2h0M1310.6 938h0M1347.8 937.9h0M1368.4 901.6h0M1369.9 903.7h0M1364.2 882.2h0M1331.1 954h0M1328.6 866.4h0M1313.6 943.3h0M1340.8 882.7h0M1339.2 879h0M1330.2 903.5h0M1311.5 902.6h0M1342.6 1003.8h0M1349.9 888h0M1361.7 919.8h0M1347.9 914.1h0M1338.4 951.1h0M1370.2 976h0M1319.7 859h0M1301.3 870.1h0M1350 939.3h0M1354 967.7h0M1352.8 930h0M1335.9 921.3h0M1372.4 886.8h0M1336.4 886.7h0M1305.6 906.3h0M1356.9 877.7h0M1373.9 881.5h0M1305.9 918h0M1360.8 926.6h0M1431.5 1057.1h0M1451.6 1057.1h0M1420.6 1057.1h0M1443.2 1057.1h0M1452 1057.1h0M1437.4 1057.1h0M1394.4 1057.1h0M1441.7 1057.1h0M1392.8 1057.1h0M1415.3 1057.1h0M1401.4 1057.1h0M1449.6 1057.1h0M1405.4 1057.1h0M1559.1 957.3h0M1539.2 1057.1h0M1491.1 1057.1h0M1501.1 1057.1h0M1537.4 1057.1h0M1554.5 1057.1h0M1491.1 1057.1h0M1531.4 1057.1h0M1515.3 1057.1h0" stroke="#000" stroke-width="7.1" stroke-linecap="round" fill="none" transform="scale(1 1.03)" />
<text x="1383.85" y="844.9" font-size="24.94" text-anchor="middle" font-weight="bold" fill="#000">ADIPOQ</text>
<path d="M1189.4 861.2V1099H1579.3" stroke="#1c1c1c" stroke-width="1.8" fill="none" />
<line x1="1184.5" y1="1088.8" x2="1189.4" y2="1088.8" stroke="#1c1c1c" stroke-width="1.8" />
<text x="1179" y="1095.7" font-size="19" text-anchor="end" fill="#111" textLength="10.46" lengthAdjust="spacingAndGlyphs">0</text>
<line x1="1184.5" y1="1042.1" x2="1189.4" y2="1042.1" stroke="#1c1c1c" stroke-width="1.8" />
<text x="1179" y="1049" font-size="19" text-anchor="end" fill="#111" textLength="10.46" lengthAdjust="spacingAndGlyphs">1</text>
<line x1="1184.5" y1="995.4" x2="1189.4" y2="995.4" stroke="#1c1c1c" stroke-width="1.8" />
<text x="1179" y="1002.3" font-size="19" text-anchor="end" fill="#111" textLength="10.46" lengthAdjust="spacingAndGlyphs">2</text>
<line x1="1184.5" y1="948.7" x2="1189.4" y2="948.7" stroke="#1c1c1c" stroke-width="1.8" />
<text x="1179" y="955.6" font-size="19" text-anchor="end" fill="#111" textLength="10.46" lengthAdjust="spacingAndGlyphs">3</text>
<line x1="1184.5" y1="902" x2="1189.4" y2="902" stroke="#1c1c1c" stroke-width="1.8" />
<text x="1179" y="908.9" font-size="19" text-anchor="end" fill="#111" textLength="10.46" lengthAdjust="spacingAndGlyphs">4</text>
<line x1="1244.2" y1="1099" x2="1244.2" y2="1103.9" stroke="#1c1c1c" stroke-width="1.8" />
<text x="1251.87" y="1119.44" font-size="18.8" text-anchor="end" fill="#111" transform="rotate(-46.5 1251.87 1119.44)" textLength="49.83" lengthAdjust="spacingAndGlyphs">HLW1</text>
<line x1="1337.1" y1="1099" x2="1337.1" y2="1103.9" stroke="#1c1c1c" stroke-width="1.8" />
<text x="1344.77" y="1119.44" font-size="18.8" text-anchor="end" fill="#111" transform="rotate(-46.5 1344.77 1119.44)" textLength="49.83" lengthAdjust="spacingAndGlyphs">HLW2</text>
<line x1="1430" y1="1099" x2="1430" y2="1103.9" stroke="#1c1c1c" stroke-width="1.8" />
<text x="1437.66" y="1119.44" font-size="18.8" text-anchor="end" fill="#111" transform="rotate(-46.5 1437.66 1119.44)" textLength="46.77" lengthAdjust="spacingAndGlyphs">LLW1</text>
<line x1="1522.9" y1="1099" x2="1522.9" y2="1103.9" stroke="#1c1c1c" stroke-width="1.8" />
<text x="1530.57" y="1119.44" font-size="18.8" text-anchor="end" fill="#111" transform="rotate(-46.5 1530.57 1119.44)" textLength="46.77" lengthAdjust="spacingAndGlyphs">LLW2</text>
<text x="1158.7" y="980.6" font-size="22.2" text-anchor="middle" fill="#111" transform="rotate(-90 1158.7 980.6)" textLength="169.06" lengthAdjust="spacingAndGlyphs">Expression Level</text>
<path d="M1661.55 1088.8 1661.55 1086.59 1661.83 1084.38 1662.78 1082.18 1663.94 1079.97 1665.47 1077.76 1667.4 1075.55 1669.55 1073.34 1671.73 1071.14 1673.77 1068.93 1675.94 1066.72 1678.27 1064.51 1680.58 1062.3 1682.71 1060.1 1684.52 1057.89 1685.82 1055.68 1686.82 1053.47 1687.76 1051.26 1688.6 1049.06 1689.29 1046.85 1689.77 1044.64 1690 1042.43 1689.94 1040.22 1689.68 1038.02 1689.25 1035.81 1688.7 1033.6 1688.07 1031.39 1687.41 1029.18 1686.72 1026.98 1685.84 1024.77 1684.77 1022.56 1683.58 1020.35 1682.33 1018.14 1681.06 1015.94 1679.83 1013.73 1678.71 1011.52 1677.61 1009.31 1676.47 1007.1 1675.32 1004.9 1674.2 1002.69 1673.17 1000.48 1672.25 998.27 1671.48 996.06 1670.89 993.86 1670.33 991.65 1669.79 989.44 1669.3 987.23 1668.87 985.02 1668.54 982.82 1668.32 980.61 1668.25 978.4 1668.27 976.19 1668.33 973.98 1668.42 971.78 1668.54 969.57 1668.66 967.36 1668.83 965.15 1669.07 962.94 1669.38 960.74 1669.74 958.53 1670.16 956.32 1670.63 954.11 1671.14 951.9 1671.68 949.7 1672.25 947.49 1672.85 945.28 1673.53 943.07 1674.37 940.86 1675.32 938.66 1676.38 936.45 1677.53 934.24 1678.73 932.03 1679.98 929.82 1681.24 927.62 1682.5 925.41 1683.73 923.2 1684.99 920.99 1686.32 918.78 1687.69 916.58 1689.07 914.37 1690.43 912.16 L1716.37 912.16 1717.73 914.37 1719.11 916.58 1720.48 918.78 1721.81 920.99 1723.07 923.2 1724.3 925.41 1725.56 927.62 1726.82 929.82 1728.07 932.03 1729.27 934.24 1730.42 936.45 1731.48 938.66 1732.43 940.86 1733.27 943.07 1733.95 945.28 1734.55 947.49 1735.12 949.7 1735.66 951.9 1736.17 954.11 1736.64 956.32 1737.06 958.53 1737.42 960.74 1737.73 962.94 1737.97 965.15 1738.14 967.36 1738.26 969.57 1738.38 971.78 1738.47 973.98 1738.53 976.19 1738.55 978.4 1738.48 980.61 1738.26 982.82 1737.93 985.02 1737.5 987.23 1737.01 989.44 1736.47 991.65 1735.91 993.86 1735.32 996.06 1734.55 998.27 1733.63 1000.48 1732.6 1002.69 1731.48 1004.9 1730.33 1007.1 1729.19 1009.31 1728.09 1011.52 1726.97 1013.73 1725.74 1015.94 1724.47 1018.14 1723.22 1020.35 1722.03 1022.56 1720.96 1024.77 1720.08 1026.98 1719.39 1029.18 1718.73 1031.39 1718.1 1033.6 1717.55 1035.81 1717.12 1038.02 1716.86 1040.22 1716.8 1042.43 1717.03 1044.64 1717.51 1046.85 1718.2 1049.06 1719.04 1051.26 1719.98 1053.47 1720.98 1055.68 1722.28 1057.89 1724.09 1060.1 1726.22 1062.3 1728.53 1064.51 1730.86 1066.72 1733.03 1068.93 1735.07 1071.14 1737.25 1073.34 1739.4 1075.55 1741.33 1077.76 1742.86 1079.97 1744.02 1082.18 1744.97 1084.38 1745.25 1086.59 1745.25 1088.8Z" stroke="#2a2a2a" stroke-width="1.3" fill="#F8766D" stroke-linejoin="round"/>
<path d="M1754.55 1088.8 1755.31 1086.09 1756.14 1083.38 1757.6 1080.66 1760.25 1077.95 1763.54 1075.24 1766.79 1072.53 1769.83 1069.82 1773.01 1067.11 1776.08 1064.39 1778.81 1061.68 1781.19 1058.97 1783.48 1056.26 1785.47 1053.55 1786.93 1050.84 1787.89 1048.12 1788.72 1045.41 1789.35 1042.7 1789.68 1039.99 1789.67 1037.28 1789.51 1034.57 1789.26 1031.85 1788.98 1029.14 1788.68 1026.43 1788.31 1023.72 1787.86 1021.01 1787.36 1018.3 1786.81 1015.58 1786.23 1012.87 1785.62 1010.16 1784.9 1007.45 1784.09 1004.74 1783.21 1002.03 1782.31 999.31 1781.4 996.6 1780.53 993.89 1779.72 991.18 1778.99 988.47 1778.24 985.76 1777.49 983.04 1776.74 980.33 1776.04 977.62 1775.4 974.91 1774.86 972.2 1774.44 969.49 1774.17 966.77 1773.96 964.06 1773.77 961.35 1773.61 958.64 1773.49 955.93 1773.41 953.21 1773.38 950.5 1773.47 947.79 1773.66 945.08 1773.95 942.37 1774.29 939.66 1774.67 936.94 1775.06 934.23 1775.49 931.52 1776.02 928.81 1776.63 926.1 1777.31 923.39 1778.04 920.67 1778.8 917.96 1779.59 915.25 1780.39 912.54 1781.23 909.83 1782.18 907.12 1783.21 904.4 1784.28 901.69 1785.36 898.98 1786.4 896.27 1787.37 893.56 1788.23 890.85 1788.97 888.13 1789.64 885.42 1790.27 882.71 1790.86 880 1791.44 877.29 1792.03 874.58 1792.63 871.86 L1800.17 871.86 1800.77 874.58 1801.36 877.29 1801.94 880 1802.53 882.71 1803.16 885.42 1803.83 888.13 1804.57 890.85 1805.43 893.56 1806.4 896.27 1807.44 898.98 1808.52 901.69 1809.59 904.4 1810.62 907.12 1811.57 909.83 1812.41 912.54 1813.21 915.25 1814 917.96 1814.76 920.67 1815.49 923.39 1816.17 926.1 1816.78 928.81 1817.31 931.52 1817.74 934.23 1818.13 936.94 1818.51 939.66 1818.85 942.37 1819.14 945.08 1819.33 947.79 1819.42 950.5 1819.39 953.21 1819.31 955.93 1819.19 958.64 1819.03 961.35 1818.84 964.06 1818.63 966.77 1818.36 969.49 1817.94 972.2 1817.4 974.91 1816.76 977.62 1816.06 980.33 1815.31 983.04 1814.56 985.76 1813.81 988.47 1813.08 991.18 1812.27 993.89 1811.4 996.6 1810.49 999.31 1809.59 1002.03 1808.71 1004.74 1807.9 1007.45 1807.18 1010.16 1806.57 1012.87 1805.99 1015.58 1805.44 1018.3 1804.94 1021.01 1804.49 1023.72 1804.12 1026.43 1803.82 1029.14 1803.54 1031.85 1803.29 1034.57 1803.13 1037.28 1803.12 1039.99 1803.45 1042.7 1804.08 1045.41 1804.91 1048.12 1805.87 1050.84 1807.33 1053.55 1809.32 1056.26 1811.61 1058.97 1813.99 1061.68 1816.72 1064.39 1819.79 1067.11 1822.97 1069.82 1826.01 1072.53 1829.26 1075.24 1832.55 1077.95 1835.2 1080.66 1836.66 1083.38 1837.49 1086.09 1838.25 1088.8Z" stroke="#2a2a2a" stroke-width="1.3" fill="#7CAE00" stroke-linejoin="round"/>
<line x1="1847.55" y1="1088.8" x2="1931.25" y2="1088.8" stroke="#2a2a2a" stroke-width="1.15" />
<line x1="1889.4" y1="1088.8" x2="1889.4" y2="901.12" stroke="#2a2a2a" stroke-width="1.15" />
<line x1="1940.55" y1="1088.8" x2="2024.25" y2="1088.8" stroke="#2a2a2a" stroke-width="1.15" />
<line x1="1982.4" y1="1088.8" x2="1982.4" y2="1015.94" stroke="#2a2a2a" stroke-width="1.15" />
<line x1="1978.2" y1="1015.94" x2="1986.6" y2="1015.94" stroke="#2a2a2a" stroke-width="1.15" />
<path d="M1737.5 1057.1h0M1676.6 1057.1h0M1668 1057.1h0M1740.5 1057.1h0M1679.9 1057.1h0M1675.2 1057.1h0M1714.7 1057.1h0M1691.9 1057.1h0M1732.4 1057.1h0M1683.4 1057.1h0M1737.6 1057.1h0M1690 1057.1h0M1710.9 1057.1h0M1735.5 1057.1h0M1717.2 1057.1h0M1734.9 1057.1h0M1718.9 1057.1h0M1669.8 1057.1h0M1731.8 1057.1h0M1710.1 1057.1h0M1689.3 1057.1h0M1680.3 1057.1h0M1729.4 1057.1h0M1709.6 1057.1h0M1736 1057.1h0M1723.8 1057.1h0M1737.7 1057.1h0M1708.3 1057.1h0M1718.2 1057.1h0M1711.8 1057.1h0M1685.4 1057.1h0M1737.4 1057.1h0M1689.4 1057.1h0M1724.3 1057.1h0M1737.2 1057.1h0M1714.6 1057.1h0M1676.8 1057.1h0M1727.6 1057.1h0M1715.9 1057.1h0M1680 1057.1h0M1669.9 1057.1h0M1705.8 1057.1h0M1668.6 1057.1h0M1735 1057.1h0M1703.9 1057.1h0M1704.7 1057.1h0M1696.7 1057.1h0M1715.4 1057.1h0M1734.4 1057.1h0M1709.5 964.7h0M1706.6 965.5h0M1705.5 952.2h0M1692.7 992.3h0M1735.4 952.3h0M1696 895.7h0M1679 990.7h0M1690.6 941.6h0M1669 959.7h0M1714.3 942.3h0M1670.1 976.2h0M1734.7 954.3h0M1703.3 949.5h0M1740 943.6h0M1720.3 921.8h0M1724.5 932.2h0M1736.3 913.6h0M1713.4 1007.1h0M1717.7 961.4h0M1669.3 952.4h0M1675 892.7h0M1730.6 974.7h0M1673.4 978.9h0M1691.8 949h0M1728.3 922.5h0M1729.4 1002.5h0M1702.7 1003.8h0M1719.6 957.3h0M1683.4 949.4h0M1715.7 969.2h0M1714.3 981.7h0M1711.1 998.6h0M1668.4 1001.6h0M1713.2 919.9h0M1683.6 889.1h0M1691.7 943h0M1666.9 908.4h0M1679.3 957.3h0M1707.2 915.2h0M1704.4 959h0M1678 978.1h0M1718 911.5h0M1680.4 913.9h0M1722.9 954.7h0M1680.7 956.9h0M1694.5 981.6h0M1738.3 972.4h0M1730.5 982.7h0M1723.3 936.4h0M1717.3 1006.1h0M1673.5 914.8h0M1703.8 996.6h0M1696.9 897.6h0M1690.9 934.2h0M1720.3 892h0M1714.7 903.3h0M1683.9 963.5h0M1688.4 998.4h0M1673.9 1005.9h0M1679.3 951h0M1692.5 948h0M1706.5 914.6h0M1694.1 906.2h0M1704.5 1001.8h0M1684 974.7h0M1669.8 964.4h0M1674.6 887h0M1703.7 947.8h0M1694.5 996.1h0M1700.3 901.6h0M1717.3 933.6h0M1693 914.9h0M1672.3 967h0M1770.7 1057.1h0M1792.9 1057.1h0M1817.1 1057.1h0M1775.4 1057.1h0M1794.3 1057.1h0M1806.5 1057.1h0M1806 1057.1h0M1760.7 1057.1h0M1827.7 1057.1h0M1802.7 1057.1h0M1781.8 1057.1h0M1777 1057.1h0M1810.5 1057.1h0M1828.6 1057.1h0M1784.3 1057.1h0M1788.8 1057.1h0M1800.6 1057.1h0M1772.2 1057.1h0M1789.4 1057.1h0M1827.5 1057.1h0M1800.6 1057.1h0M1820.4 1057.1h0M1778.7 1057.1h0M1823.8 1057.1h0M1817.4 1057.1h0M1776 1057.1h0M1798.6 1057.1h0M1809.9 1057.1h0M1801.8 1057.1h0M1804 1057.1h0M1777.1 1057.1h0M1800.4 1057.1h0M1785.6 1057.1h0M1818.6 1057.1h0M1786.9 1057.1h0M1832.1 1057.1h0M1802.4 1057.1h0M1776.1 1057.1h0M1790.1 1057.1h0M1768.7 1057.1h0M1814 1057.1h0M1762.6 1057.1h0M1804.2 1057.1h0M1782.1 1057.1h0M1817 1057.1h0M1768.6 1057.1h0M1809.8 1057.1h0M1812.3 1057.1h0M1776.5 1057.1h0M1768.9 1057.1h0M1786.9 1057.1h0M1807.5 1057.1h0M1778.6 1057.1h0M1759.9 1057.1h0M1792 1057.1h0M1819.4 1057.1h0M1770.9 1057.1h0M1829.2 1057.1h0M1797 1057.1h0M1771.1 1057.1h0M1766.6 1057.1h0M1786.8 1057.1h0M1794.6 1057.1h0M1772.3 1057.1h0M1765.5 1057.1h0M1796.5 1057.1h0M1778.1 1057.1h0M1792.3 1057.1h0M1792.7 1057.1h0M1811.1 1057.1h0M1802.2 1057.1h0M1776.2 1057.1h0M1772.6 1057.1h0M1823.1 1057.1h0M1763 1057.1h0M1768.4 1057.1h0M1764.4 1057.1h0M1820.7 1057.1h0M1799.4 1057.1h0M1827.9 1057.1h0M1805.8 1057.1h0M1784.2 1057.1h0M1791.2 1057.1h0M1813.7 1057.1h0M1776.4 1057.1h0M1818.9 1057.1h0M1789.5 1057.1h0M1762.3 1057.1h0M1784.8 1057.1h0M1800.9 1057.1h0M1770.1 1057.1h0M1826.6 1057.1h0M1828.1 1057.1h0M1797.2 1057.1h0M1826.5 1057.1h0M1810.5 1057.1h0M1799.2 1057.1h0M1771 1057.1h0M1830.1 1057.1h0M1827.6 1057.1h0M1792.8 1057.1h0M1787.8 1057.1h0M1764.7 1057.1h0M1805.3 1057.1h0M1822.8 1057.1h0M1788.1 1057.1h0M1780.7 1057.1h0M1804.8 1057.1h0M1818.2 1057.1h0M1771.8 1057.1h0M1780.2 1057.1h0M1820 912.3h0M1793 947.1h0M1767.6 967.6h0M1818.3 954h0M1808.6 913.2h0M1765.3 901.6h0M1773.2 930.6h0M1826 939.1h0M1814.1 951.3h0M1819.4 1005h0M1794.8 924.5h0M1782.3 1000.7h0M1768 884.5h0M1776.2 943.8h0M1770.4 943.1h0M1825.4 910.6h0M1816.2 928.9h0M1768.3 944.3h0M1813.9 950.1h0M1779.7 943h0M1788.4 987.4h0M1774.9 875.9h0M1830.6 969h0M1762.9 871.1h0M1767.5 928.3h0M1759.3 935.6h0M1817.7 903h0M1797.8 928.4h0M1777 972.6h0M1771 947h0M1776.8 991h0M1776.5 921.5h0M1809.5 974.1h0M1802.4 906.8h0M1818.8 1000.6h0M1790.5 940.7h0M1767.5 888.5h0M1788.2 927.1h0M1766.2 955.6h0M1822.4 949.9h0M1779 884.2h0M1779.5 942.2h0M1779.3 897h0M1831.1 986.1h0M1814.6 894.2h0M1795.9 898.2h0M1776.7 847.1h0M1787.1 934.9h0M1798.2 891h0M1785.5 895.9h0M1810.1 928.9h0M1799.8 869.7h0M1832.6 907.3h0M1788.7 916.7h0M1786.9 935.6h0M1830.3 877.2h0M1786.5 904.6h0M1815.1 1002.5h0M1761.9 902.4h0M1788.1 907.4h0M1793.9 883.1h0M1774.8 992.8h0M1762.7 959.9h0M1813.8 982.8h0M1797.5 859.8h0M1768.8 973.5h0M1823.4 985.2h0M1783.9 947.6h0M1823.5 861.4h0M1773.8 854.5h0M1812.9 925.2h0M1780.3 957.8h0M1819 964.7h0M1776 921.6h0M1779.4 942.6h0M1781.1 948h0M1805.8 908.3h0M1768.9 873h0M1814.7 937.3h0M1794.6 924.3h0M1792.4 910.3h0M1796.6 960.7h0M1798.1 899.6h0M1776.4 916.7h0M1781.9 981.8h0M1832.6 878.4h0M1791.9 889.9h0M1784.1 920.3h0M1806.1 968.7h0M1766.7 940.5h0M1796.3 919.8h0M1783.8 905.6h0M1812.4 912.3h0M1807.2 964.6h0M1827.1 896.1h0M1794.9 857.9h0M1767.1 993.4h0M1791.1 935.1h0M1775.8 966.8h0M1781.5 928.2h0M1798.8 933h0M1831.1 892.9h0M1768 967.8h0M1822.4 905.8h0M1761.5 928.7h0M1821.2 915.2h0M1810.4 979.6h0M1789.3 946.3h0M1821.1 854h0M1792.5 887.6h0M1825.7 950.5h0M1826.7 881h0M1806.3 898h0M1787.3 894.4h0M1798.6 911.5h0M1823.8 982.2h0M1803.1 943.6h0M1796.8 951.6h0M1772.4 882.9h0M1825.9 926.6h0M1807.2 924.1h0M1832.5 909.2h0M1812.5 851.7h0M1766.6 939.5h0M1798.5 875.5h0M1828.2 927.4h0M1801.9 899h0M1787 849h0M1767.9 942.1h0M1809.8 913.7h0M1814.7 930.3h0M1818.3 884.8h0M1759.3 896.3h0M1831.2 979.8h0M1789.1 988h0M1823 987.2h0M1826.9 887.4h0M1822.7 895.4h0M1815.1 871.3h0M1759.8 890.9h0M1770.2 907.8h0M1826.5 972.9h0M1811.1 992.3h0M1793.6 949.7h0M1817 904.4h0M1795.4 962.6h0M1792.5 946.4h0M1768.9 992.2h0M1832.4 885.3h0M1822.9 878h0M1795.1 853.6h0M1778.8 908.3h0M1787.8 901.6h0M1819.2 1001.1h0M1788.6 972.2h0M1763.2 949.7h0M1817 961.9h0M1833.5 892.4h0M1792.6 954h0M1813 863.6h0M1816.1 896h0M1818.5 945.6h0M1813.5 869.5h0M1768.1 903.3h0M1783.6 920.4h0M1801.8 914.8h0M1812.8 923.4h0M1892.2 874.9h0M1858.1 1057.1h0M1893.6 1057.1h0M1861.6 1057.1h0M1891.4 1057.1h0M1902.7 1057.1h0M1904.6 1057.1h0M1852.9 1057.1h0M1891.8 1057.1h0M1865.2 1057.1h0M1889.9 1057.1h0M1888.9 1057.1h0M1888.5 1057.1h0M1986.1 986.3h0M2002 1057.1h0M1967.4 1057.1h0M1980.6 1057.1h0M1963.5 1057.1h0M1959.9 1057.1h0M1992.2 1057.1h0M1957 1057.1h0M2004.7 1057.1h0" stroke="#000" stroke-width="7.1" stroke-linecap="round" fill="none" transform="scale(1 1.03)" />
<text x="1842.35" y="844.9" font-size="24.94" text-anchor="middle" font-weight="bold" fill="#000">FABP4</text>
<path d="M1647.5 861.2V1099H2038.2" stroke="#1c1c1c" stroke-width="1.8" fill="none" />
<line x1="1642.6" y1="1088.8" x2="1647.5" y2="1088.8" stroke="#1c1c1c" stroke-width="1.8" />
<text x="1637.1" y="1095.7" font-size="19" text-anchor="end" fill="#111" textLength="10.46" lengthAdjust="spacingAndGlyphs">0</text>
<line x1="1642.6" y1="1033.6" x2="1647.5" y2="1033.6" stroke="#1c1c1c" stroke-width="1.8" />
<text x="1637.1" y="1040.5" font-size="19" text-anchor="end" fill="#111" textLength="10.46" lengthAdjust="spacingAndGlyphs">1</text>
<line x1="1642.6" y1="978.4" x2="1647.5" y2="978.4" stroke="#1c1c1c" stroke-width="1.8" />
<text x="1637.1" y="985.3" font-size="19" text-anchor="end" fill="#111" textLength="10.46" lengthAdjust="spacingAndGlyphs">2</text>
<line x1="1642.6" y1="923.2" x2="1647.5" y2="923.2" stroke="#1c1c1c" stroke-width="1.8" />
<text x="1637.1" y="930.1" font-size="19" text-anchor="end" fill="#111" textLength="10.46" lengthAdjust="spacingAndGlyphs">3</text>
<line x1="1642.6" y1="868" x2="1647.5" y2="868" stroke="#1c1c1c" stroke-width="1.8" />
<text x="1637.1" y="874.9" font-size="19" text-anchor="end" fill="#111" textLength="10.46" lengthAdjust="spacingAndGlyphs">4</text>
<line x1="1703.4" y1="1099" x2="1703.4" y2="1103.9" stroke="#1c1c1c" stroke-width="1.8" />
<text x="1711.07" y="1119.44" font-size="18.8" text-anchor="end" fill="#111" transform="rotate(-46.5 1711.07 1119.44)" textLength="49.83" lengthAdjust="spacingAndGlyphs">HLW1</text>
<line x1="1796.4" y1="1099" x2="1796.4" y2="1103.9" stroke="#1c1c1c" stroke-width="1.8" />
<text x="1804.07" y="1119.44" font-size="18.8" text-anchor="end" fill="#111" transform="rotate(-46.5 1804.07 1119.44)" textLength="49.83" lengthAdjust="spacingAndGlyphs">HLW2</text>
<line x1="1889.4" y1="1099" x2="1889.4" y2="1103.9" stroke="#1c1c1c" stroke-width="1.8" />
<text x="1897.07" y="1119.44" font-size="18.8" text-anchor="end" fill="#111" transform="rotate(-46.5 1897.07 1119.44)" textLength="46.77" lengthAdjust="spacingAndGlyphs">LLW1</text>
<line x1="1982.4" y1="1099" x2="1982.4" y2="1103.9" stroke="#1c1c1c" stroke-width="1.8" />
<text x="1990.07" y="1119.44" font-size="18.8" text-anchor="end" fill="#111" transform="rotate(-46.5 1990.07 1119.44)" textLength="46.77" lengthAdjust="spacingAndGlyphs">LLW2</text>
<text x="1617.3" y="980.6" font-size="22.2" text-anchor="middle" fill="#111" transform="rotate(-90 1617.3 980.6)" textLength="169.06" lengthAdjust="spacingAndGlyphs">Expression Level</text>
<path d="M1202.81 1453.8 1203.41 1451.53 1203.96 1449.25 1204.62 1446.98 1205.51 1444.71 1207.01 1442.44 1209.08 1440.16 1211.5 1437.89 1214.01 1435.62 1216.38 1433.35 1218.98 1431.07 1221.9 1428.8 1224.7 1426.53 1226.98 1424.26 1228.31 1421.98 1228.97 1419.71 1229.54 1417.44 1229.98 1415.17 1230.28 1412.89 1230.4 1410.62 1230.32 1408.35 1230.03 1406.08 1229.59 1403.8 1229.05 1401.53 1228.44 1399.26 1227.67 1396.99 1226.51 1394.71 1225.06 1392.44 1223.42 1390.17 1221.71 1387.9 1220.03 1385.62 1218.44 1383.35 1216.7 1381.08 1214.83 1378.81 1212.91 1376.53 1211.05 1374.26 1209.34 1371.99 1207.88 1369.71 1206.76 1367.44 1205.93 1365.17 1205.14 1362.9 1204.39 1360.62 1203.72 1358.35 1203.16 1356.08 1202.74 1353.81 1202.47 1351.53 1202.4 1349.26 1202.44 1346.99 1202.54 1344.72 1202.7 1342.44 1202.91 1340.17 1203.17 1337.9 1203.46 1335.63 1203.78 1333.35 1204.13 1331.08 1204.5 1328.81 1204.88 1326.54 1205.34 1324.26 1205.94 1321.99 1206.66 1319.72 1207.49 1317.45 1208.41 1315.17 1209.41 1312.9 1210.46 1310.63 1211.56 1308.36 1212.69 1306.08 1213.83 1303.81 1215 1301.54 1216.29 1299.26 1217.68 1296.99 1219.16 1294.72 1220.7 1292.45 1222.3 1290.17 1223.93 1287.9 1225.58 1285.63 1227.3 1283.36 1229.11 1281.08 1230.99 1278.81 1232.9 1276.54 1234.8 1274.27 1236.68 1271.99 L1251.72 1271.99 1253.6 1274.27 1255.5 1276.54 1257.41 1278.81 1259.29 1281.08 1261.1 1283.36 1262.82 1285.63 1264.47 1287.9 1266.1 1290.17 1267.7 1292.45 1269.24 1294.72 1270.72 1296.99 1272.11 1299.26 1273.4 1301.54 1274.57 1303.81 1275.71 1306.08 1276.84 1308.36 1277.94 1310.63 1278.99 1312.9 1279.99 1315.17 1280.91 1317.45 1281.74 1319.72 1282.46 1321.99 1283.06 1324.26 1283.52 1326.54 1283.9 1328.81 1284.27 1331.08 1284.62 1333.35 1284.94 1335.63 1285.23 1337.9 1285.49 1340.17 1285.7 1342.44 1285.86 1344.72 1285.96 1346.99 1286 1349.26 1285.93 1351.53 1285.66 1353.81 1285.24 1356.08 1284.68 1358.35 1284.01 1360.62 1283.26 1362.9 1282.47 1365.17 1281.64 1367.44 1280.52 1369.71 1279.06 1371.99 1277.35 1374.26 1275.49 1376.53 1273.57 1378.81 1271.7 1381.08 1269.96 1383.35 1268.37 1385.62 1266.69 1387.9 1264.98 1390.17 1263.34 1392.44 1261.89 1394.71 1260.73 1396.99 1259.96 1399.26 1259.35 1401.53 1258.81 1403.8 1258.37 1406.08 1258.08 1408.35 1258 1410.62 1258.12 1412.89 1258.42 1415.17 1258.86 1417.44 1259.43 1419.71 1260.09 1421.98 1261.42 1424.26 1263.7 1426.53 1266.5 1428.8 1269.42 1431.07 1272.02 1433.35 1274.39 1435.62 1276.9 1437.89 1279.32 1440.16 1281.39 1442.44 1282.89 1444.71 1283.78 1446.98 1284.44 1449.25 1284.99 1451.53 1285.59 1453.8Z" stroke="#2a2a2a" stroke-width="1.3" fill="#F8766D" stroke-linejoin="round"/>
<path d="M1295.3 1453.8 1296.06 1451.11 1297.42 1448.42 1299.38 1445.72 1301.68 1443.03 1304.3 1440.34 1307.58 1437.65 1311.11 1434.95 1314.46 1432.26 1317.25 1429.57 1319.88 1426.88 1322.32 1424.18 1324.4 1421.49 1325.93 1418.8 1327.19 1416.11 1328.32 1413.41 1329.16 1410.72 1329.56 1408.03 1329.49 1405.34 1329.18 1402.65 1328.71 1399.95 1328.18 1397.26 1327.62 1394.57 1326.94 1391.88 1326.12 1389.18 1325.2 1386.49 1324.19 1383.8 1323.12 1381.11 1322 1378.41 1320.75 1375.72 1319.32 1373.03 1317.77 1370.34 1316.17 1367.64 1314.57 1364.95 1313.03 1362.26 1311.58 1359.57 1310.09 1356.88 1308.58 1354.18 1307.07 1351.49 1305.6 1348.8 1304.2 1346.11 1302.9 1343.41 1301.74 1340.72 1300.74 1338.03 1299.8 1335.34 1298.85 1332.64 1298 1329.95 1297.35 1327.26 1297 1324.57 1297 1321.87 1297.18 1319.18 1297.48 1316.49 1297.86 1313.8 1298.3 1311.11 1298.75 1308.41 1299.3 1305.72 1299.99 1303.03 1300.8 1300.34 1301.71 1297.64 1302.72 1294.95 1303.8 1292.26 1304.94 1289.57 1306.14 1286.87 1307.43 1284.18 1308.99 1281.49 1310.75 1278.8 1312.64 1276.1 1314.56 1273.41 1316.43 1270.72 1318.18 1268.03 1319.89 1265.34 1321.61 1262.64 1323.31 1259.95 1324.95 1257.26 1326.51 1254.57 1327.96 1251.87 1329.26 1249.18 1330.44 1246.49 1331.55 1243.8 1332.64 1241.1 1333.76 1238.41 L1340.44 1238.41 1341.56 1241.1 1342.65 1243.8 1343.76 1246.49 1344.94 1249.18 1346.24 1251.87 1347.69 1254.57 1349.25 1257.26 1350.89 1259.95 1352.59 1262.64 1354.31 1265.34 1356.02 1268.03 1357.77 1270.72 1359.64 1273.41 1361.56 1276.1 1363.45 1278.8 1365.21 1281.49 1366.77 1284.18 1368.06 1286.87 1369.26 1289.57 1370.4 1292.26 1371.48 1294.95 1372.49 1297.64 1373.4 1300.34 1374.21 1303.03 1374.9 1305.72 1375.45 1308.41 1375.9 1311.11 1376.34 1313.8 1376.72 1316.49 1377.02 1319.18 1377.2 1321.87 1377.2 1324.57 1376.85 1327.26 1376.2 1329.95 1375.35 1332.64 1374.4 1335.34 1373.46 1338.03 1372.46 1340.72 1371.3 1343.41 1370 1346.11 1368.6 1348.8 1367.13 1351.49 1365.62 1354.18 1364.11 1356.88 1362.62 1359.57 1361.17 1362.26 1359.63 1364.95 1358.03 1367.64 1356.43 1370.34 1354.88 1373.03 1353.45 1375.72 1352.2 1378.41 1351.08 1381.11 1350.01 1383.8 1349 1386.49 1348.08 1389.18 1347.26 1391.88 1346.58 1394.57 1346.02 1397.26 1345.49 1399.95 1345.02 1402.65 1344.71 1405.34 1344.64 1408.03 1345.04 1410.72 1345.88 1413.41 1347.01 1416.11 1348.27 1418.8 1349.8 1421.49 1351.88 1424.18 1354.32 1426.88 1356.95 1429.57 1359.74 1432.26 1363.09 1434.95 1366.62 1437.65 1369.9 1440.34 1372.52 1443.03 1374.82 1445.72 1376.78 1448.42 1378.14 1451.11 1378.91 1453.8Z" stroke="#2a2a2a" stroke-width="1.3" fill="#7CAE00" stroke-linejoin="round"/>
<line x1="1388.19" y1="1453.8" x2="1471.81" y2="1453.8" stroke="#2a2a2a" stroke-width="1.15" />
<line x1="1430" y1="1453.8" x2="1430" y2="1415.59" stroke="#2a2a2a" stroke-width="1.15" />
<line x1="1425.8" y1="1415.59" x2="1434.2" y2="1415.59" stroke="#2a2a2a" stroke-width="1.15" />
<line x1="1481.1" y1="1453.8" x2="1564.71" y2="1453.8" stroke="#2a2a2a" stroke-width="1.15" />
<line x1="1522.9" y1="1453.8" x2="1522.9" y2="1378.53" stroke="#2a2a2a" stroke-width="1.15" />
<line x1="1518.7" y1="1378.53" x2="1527.1" y2="1378.53" stroke="#2a2a2a" stroke-width="1.15" />
<path d="M1275.8 1411.5h0M1277.5 1411.5h0M1273.4 1411.5h0M1213.2 1411.5h0M1251 1411.5h0M1238.5 1411.5h0M1246.4 1411.5h0M1216.7 1411.5h0M1221.3 1411.5h0M1240.1 1411.5h0M1223.5 1411.5h0M1240.9 1411.5h0M1208.9 1411.5h0M1213.4 1411.5h0M1259.8 1411.5h0M1238.3 1411.5h0M1245.1 1411.5h0M1261.6 1411.5h0M1233.7 1411.5h0M1211.3 1411.5h0M1265.2 1411.5h0M1250.8 1411.5h0M1255.9 1411.5h0M1253.2 1411.5h0M1279.2 1411.5h0M1234 1411.5h0M1263.5 1411.5h0M1234.4 1411.5h0M1249.6 1411.5h0M1256.1 1411.5h0M1230.4 1411.5h0M1213.4 1411.5h0M1242.3 1411.5h0M1260.4 1411.5h0M1250.9 1411.5h0M1240.3 1411.5h0M1254.8 1411.5h0M1220.6 1411.5h0M1220.3 1411.5h0M1231.1 1411.5h0M1267.7 1411.5h0M1221.6 1411.5h0M1215.5 1411.5h0M1214.4 1411.5h0M1209.9 1411.5h0M1227.5 1411.5h0M1249.6 1411.5h0M1268 1411.5h0M1231.6 1411.5h0M1229.7 1315.1h0M1226.2 1274h0M1259.6 1344.9h0M1247.6 1267.9h0M1277.3 1255h0M1211.2 1336h0M1267.2 1310.8h0M1266.9 1283.9h0M1280.5 1249.7h0M1279.5 1277.6h0M1212.7 1314.3h0M1276.4 1305.9h0M1214.7 1249.4h0M1247.4 1299.7h0M1238.4 1270.1h0M1232.5 1258.1h0M1273.6 1259.3h0M1258.5 1283.7h0M1224.8 1267.8h0M1264.4 1322.1h0M1268.5 1296.9h0M1231.8 1344.5h0M1225.5 1296.8h0M1248.8 1249.5h0M1248.7 1298.4h0M1260.4 1305.4h0M1265.4 1368.5h0M1222.2 1339.6h0M1240.4 1284.7h0M1259 1309.9h0M1247.1 1304.4h0M1229.2 1296.9h0M1272.2 1258.7h0M1264.8 1263.4h0M1228.7 1285.4h0M1229.5 1320h0M1235.8 1247.6h0M1242.5 1310h0M1227.7 1297.5h0M1226.7 1348.3h0M1215.2 1265.2h0M1249.1 1306.4h0M1226.3 1307.8h0M1280.1 1265.3h0M1267 1289.6h0M1217.9 1324.4h0M1261.9 1267.1h0M1228.8 1312.3h0M1255.7 1349.7h0M1274.8 1336h0M1252.4 1334.7h0M1241.9 1340.1h0M1264.3 1281.5h0M1251 1268.7h0M1213.9 1319.2h0M1238.7 1264.4h0M1246.7 1319.8h0M1233.9 1263.9h0M1275.8 1287.6h0M1280 1320.6h0M1235.3 1241.9h0M1210 1274.3h0M1263.4 1312.3h0M1237.3 1299.3h0M1238.8 1354.4h0M1237.8 1268.7h0M1256.9 1327.5h0M1268.1 1307.7h0M1246.9 1295h0M1252.2 1290.4h0M1256.2 1254.8h0M1269.5 1309.5h0M1211.3 1312.9h0M1302.5 1411.5h0M1329 1411.5h0M1372.4 1411.5h0M1355 1411.5h0M1352.6 1411.5h0M1349.6 1411.5h0M1320.2 1411.5h0M1312.5 1411.5h0M1344.7 1411.5h0M1304.7 1411.5h0M1343.6 1411.5h0M1338.2 1411.5h0M1340.3 1411.5h0M1309 1411.5h0M1305 1411.5h0M1335.1 1411.5h0M1310.8 1411.5h0M1347.6 1411.5h0M1322.9 1411.5h0M1346.1 1411.5h0M1355.7 1411.5h0M1345 1411.5h0M1339.4 1411.5h0M1314.6 1411.5h0M1325.7 1411.5h0M1372.6 1411.5h0M1319.9 1411.5h0M1321.1 1411.5h0M1336.6 1411.5h0M1340.5 1411.5h0M1358.7 1411.5h0M1321.9 1411.5h0M1371.5 1411.5h0M1301.6 1411.5h0M1358.7 1411.5h0M1342.3 1411.5h0M1366.9 1411.5h0M1311.3 1411.5h0M1351.2 1411.5h0M1370.3 1411.5h0M1349.5 1411.5h0M1308.3 1411.5h0M1368.4 1411.5h0M1372 1411.5h0M1308.2 1411.5h0M1361.4 1411.5h0M1305.8 1411.5h0M1306 1411.5h0M1359.1 1411.5h0M1353.4 1411.5h0M1371.1 1411.5h0M1346.9 1411.5h0M1338 1411.5h0M1320.2 1411.5h0M1342.5 1411.5h0M1373.7 1411.5h0M1348 1411.5h0M1365 1411.5h0M1314.6 1411.5h0M1354.6 1411.5h0M1354.3 1411.5h0M1305.2 1411.5h0M1360.9 1411.5h0M1313 1411.5h0M1316.1 1411.5h0M1304.5 1411.5h0M1349.2 1411.5h0M1310.5 1411.5h0M1372.5 1411.5h0M1299.9 1411.5h0M1360.1 1411.5h0M1356.4 1411.5h0M1342.3 1411.5h0M1342.4 1411.5h0M1359.2 1411.5h0M1347.2 1411.5h0M1310.3 1411.5h0M1359.2 1411.5h0M1326.2 1411.5h0M1343.3 1411.5h0M1338 1411.5h0M1367.1 1411.5h0M1330.7 1411.5h0M1363.4 1411.5h0M1306 1411.5h0M1324.2 1411.5h0M1349.8 1411.5h0M1345.4 1411.5h0M1361.8 1411.5h0M1315.4 1411.5h0M1359.7 1411.5h0M1359.1 1411.5h0M1310.6 1411.5h0M1310.3 1411.5h0M1343.3 1411.5h0M1372.4 1411.5h0M1345.6 1411.5h0M1360.1 1289.4h0M1344 1280h0M1362.3 1229.1h0M1361.1 1306.6h0M1368 1259.9h0M1326.5 1326.5h0M1373 1314.5h0M1318.4 1254.6h0M1334.1 1294.9h0M1318.3 1321.2h0M1373.6 1349.5h0M1311.3 1253.2h0M1356.4 1276.2h0M1368.9 1287.5h0M1334.4 1306.5h0M1306.8 1252.9h0M1358.8 1289.4h0M1327.9 1291.9h0M1365.3 1258.2h0M1363.7 1226.9h0M1307.8 1252.7h0M1346.5 1257.9h0M1347 1221.2h0M1322.1 1231h0M1370.8 1279.4h0M1346.1 1268.4h0M1354.9 1226.2h0M1325.1 1272.2h0M1324.9 1322.6h0M1336 1303.2h0M1357.9 1297h0M1320.4 1265.7h0M1316.8 1329.1h0M1365.8 1213.1h0M1346.5 1309.5h0M1368.8 1262.9h0M1372.9 1217.7h0M1354.2 1213.8h0M1325.2 1256.9h0M1363.1 1277.8h0M1323.3 1344.9h0M1304.5 1251.4h0M1332.3 1329.3h0M1307.5 1241.4h0M1342.4 1265.4h0M1354.4 1256.5h0M1356.6 1270.4h0M1320.9 1235.4h0M1358.3 1281.9h0M1361.2 1258.4h0M1303.2 1278.3h0M1367.8 1284.6h0M1317 1243.9h0M1314.2 1238.1h0M1342.8 1349.3h0M1343.6 1329.9h0M1319 1255.2h0M1345.5 1280.1h0M1308.5 1288.7h0M1300.1 1314.5h0M1364.3 1291.2h0M1316.7 1318h0M1321.8 1310.2h0M1313.1 1315.2h0M1303.1 1316.4h0M1353.5 1278.6h0M1354.8 1364.7h0M1324.2 1354.3h0M1305.9 1283.6h0M1357.3 1241.4h0M1314.3 1326.2h0M1310.3 1336h0M1339.2 1335.2h0M1360.2 1282.6h0M1349.5 1347.1h0M1346.4 1363.1h0M1329.8 1244.2h0M1302.4 1301.4h0M1340.7 1255.7h0M1362.6 1265.2h0M1306.5 1247.6h0M1352 1250.5h0M1346.2 1301.2h0M1316.6 1301.3h0M1304 1309.6h0M1342.5 1240.8h0M1316.3 1262.5h0M1316.6 1333.8h0M1306.6 1290.1h0M1319.8 1276h0M1359.8 1293.8h0M1359.9 1235.8h0M1304.4 1318.5h0M1319.2 1256.7h0M1363.8 1320.3h0M1367 1253h0M1372.2 1257.3h0M1301.8 1321.2h0M1317.3 1316.6h0M1334.1 1313h0M1341.3 1232.4h0M1359.6 1259.7h0M1333.4 1254.7h0M1334 1278.6h0M1366.5 1267.7h0M1363.6 1298.7h0M1324.4 1221.9h0M1342.1 1240.5h0M1346.1 1286h0M1302.6 1315.2h0M1327.7 1255.8h0M1314.5 1311.8h0M1323.7 1279.5h0M1324.6 1262.9h0M1311.1 1275.6h0M1323.4 1302.1h0M1313.4 1283.5h0M1342.4 1259.6h0M1313.3 1282h0M1358.2 1270.6h0M1373.3 1272.7h0M1309.1 1318.4h0M1354.6 1262.9h0M1346.2 1335h0M1374.2 1356.3h0M1367.5 1258.6h0M1325.5 1275.1h0M1356.5 1294h0M1331.3 1262.9h0M1308.6 1301h0M1326.2 1256.6h0M1346.4 1357.2h0M1373.9 1337.2h0M1352.2 1256.3h0M1317.5 1355.9h0M1343.9 1355.7h0M1317.4 1296.1h0M1317.4 1305.3h0M1354.7 1243.4h0M1326.8 1240.7h0M1330.6 1220.1h0M1326.2 1238.1h0M1353.7 1246.4h0M1348.7 1306.5h0M1369 1244.9h0M1342.9 1259.7h0M1324.1 1316h0M1358.6 1204.8h0M1343.7 1245.5h0M1332.6 1310.9h0M1311.9 1260.6h0M1339 1267.4h0M1348.6 1287.6h0M1329.8 1265.9h0M1332.5 1289.3h0M1303.9 1339.7h0M1328 1345.9h0M1317.3 1286.9h0M1319.3 1287.4h0M1304.5 1283h0M1366.4 1359.5h0M1372.2 1269.1h0M1362.5 1264.1h0M1358.7 1349.1h0M1305.2 1292.8h0M1330.5 1228.2h0M1334.1 1246.5h0M1310.8 1317.5h0M1301.1 1303.2h0M1334.8 1303.2h0M1334.4 1298h0M1340.2 1304.7h0M1369.1 1299.6h0M1348.9 1218.4h0M1339.9 1273.8h0M1333.6 1307.3h0M1373.1 1347h0M1374 1253.9h0M1323.9 1299.7h0M1364.7 1236.6h0M1325.6 1325h0M1437.9 1374.4h0M1450.9 1411.5h0M1457.2 1411.5h0M1402.9 1411.5h0M1423.3 1411.5h0M1405.7 1411.5h0M1397.7 1411.5h0M1402.5 1411.5h0M1398.3 1411.5h0M1415.3 1411.5h0M1424.9 1411.5h0M1460.1 1411.5h0M1441.3 1411.5h0M1510.8 1338.4h0M1542.3 1411.5h0M1510.3 1411.5h0M1509.7 1411.5h0M1516.4 1411.5h0M1503 1411.5h0M1487.2 1411.5h0M1506.2 1411.5h0M1554.7 1411.5h0" stroke="#000" stroke-width="7.1" stroke-linecap="round" fill="none" transform="scale(1 1.03)" />
<text x="1383.85" y="1210" font-size="24.94" text-anchor="middle" font-weight="bold" fill="#000">LIPE</text>
<path d="M1189.4 1226.5V1464.8H1579.3" stroke="#1c1c1c" stroke-width="1.8" fill="none" />
<line x1="1184.5" y1="1453.8" x2="1189.4" y2="1453.8" stroke="#1c1c1c" stroke-width="1.8" />
<text x="1179" y="1460.7" font-size="19" text-anchor="end" fill="#111" textLength="10.46" lengthAdjust="spacingAndGlyphs">0</text>
<line x1="1184.5" y1="1395.9" x2="1189.4" y2="1395.9" stroke="#1c1c1c" stroke-width="1.8" />
<text x="1179" y="1402.8" font-size="19" text-anchor="end" fill="#111" textLength="10.46" lengthAdjust="spacingAndGlyphs">1</text>
<line x1="1184.5" y1="1338" x2="1189.4" y2="1338" stroke="#1c1c1c" stroke-width="1.8" />
<text x="1179" y="1344.9" font-size="19" text-anchor="end" fill="#111" textLength="10.46" lengthAdjust="spacingAndGlyphs">2</text>
<line x1="1184.5" y1="1280.1" x2="1189.4" y2="1280.1" stroke="#1c1c1c" stroke-width="1.8" />
<text x="1179" y="1287" font-size="19" text-anchor="end" fill="#111" textLength="10.46" lengthAdjust="spacingAndGlyphs">3</text>
<line x1="1244.2" y1="1464.8" x2="1244.2" y2="1469.7" stroke="#1c1c1c" stroke-width="1.8" />
<text x="1251.87" y="1485.24" font-size="18.8" text-anchor="end" fill="#111" transform="rotate(-46.5 1251.87 1485.24)" textLength="49.83" lengthAdjust="spacingAndGlyphs">HLW1</text>
<line x1="1337.1" y1="1464.8" x2="1337.1" y2="1469.7" stroke="#1c1c1c" stroke-width="1.8" />
<text x="1344.77" y="1485.24" font-size="18.8" text-anchor="end" fill="#111" transform="rotate(-46.5 1344.77 1485.24)" textLength="49.83" lengthAdjust="spacingAndGlyphs">HLW2</text>
<line x1="1430" y1="1464.8" x2="1430" y2="1469.7" stroke="#1c1c1c" stroke-width="1.8" />
<text x="1437.66" y="1485.24" font-size="18.8" text-anchor="end" fill="#111" transform="rotate(-46.5 1437.66 1485.24)" textLength="46.77" lengthAdjust="spacingAndGlyphs">LLW1</text>
<line x1="1522.9" y1="1464.8" x2="1522.9" y2="1469.7" stroke="#1c1c1c" stroke-width="1.8" />
<text x="1530.57" y="1485.24" font-size="18.8" text-anchor="end" fill="#111" transform="rotate(-46.5 1530.57 1485.24)" textLength="46.77" lengthAdjust="spacingAndGlyphs">LLW2</text>
<text x="1158.7" y="1346.15" font-size="22.2" text-anchor="middle" fill="#111" transform="rotate(-90 1158.7 1346.15)" textLength="169.06" lengthAdjust="spacingAndGlyphs">Expression Level</text>
<path d="M1680.38 1453.8 1681.18 1451.48 1682.04 1449.17 1683.33 1446.85 1685.32 1444.53 1687.65 1442.22 1689.95 1439.9 1691.81 1437.58 1693.11 1435.27 1694.26 1432.95 1695.29 1430.64 1696.22 1428.32 1697.05 1426 1697.81 1423.69 1698.54 1421.37 1699.3 1419.05 1700.02 1416.74 1700.64 1414.42 1701.09 1412.1 1701.3 1409.79 1701.29 1407.47 1701.23 1405.15 1701.14 1402.84 1701.03 1400.52 1700.89 1398.21 1700.71 1395.89 1700.45 1393.57 1700.1 1391.26 1699.69 1388.94 1699.21 1386.62 1698.68 1384.31 1698.1 1381.99 1697.42 1379.67 1696.52 1377.36 1695.43 1375.04 1694.19 1372.72 1692.82 1370.41 1691.36 1368.09 1689.85 1365.78 1688.24 1363.46 1686.33 1361.14 1684.18 1358.83 1681.89 1356.51 1679.57 1354.19 1677.34 1351.88 1675.28 1349.56 1673.49 1347.24 1671.74 1344.93 1669.99 1342.61 1668.31 1340.29 1666.77 1337.98 1665.42 1335.66 1664.32 1333.35 1663.55 1331.03 1662.91 1328.71 1662.34 1326.4 1661.88 1324.08 1661.61 1321.76 1661.56 1319.45 1661.76 1317.13 1662.15 1314.81 1662.69 1312.5 1663.33 1310.18 1664.12 1307.86 1665.48 1305.55 1667.31 1303.23 1669.45 1300.92 1671.72 1298.6 1673.96 1296.28 1676.06 1293.97 1678.29 1291.65 1680.63 1289.33 1682.98 1287.02 1685.27 1284.7 1687.4 1282.38 1689.31 1280.07 1691.07 1277.75 1692.72 1275.43 1694.32 1273.12 1695.91 1270.8 1697.54 1268.49 L1709.26 1268.49 1710.89 1270.8 1712.48 1273.12 1714.08 1275.43 1715.73 1277.75 1717.49 1280.07 1719.4 1282.38 1721.53 1284.7 1723.82 1287.02 1726.17 1289.33 1728.51 1291.65 1730.74 1293.97 1732.84 1296.28 1735.08 1298.6 1737.35 1300.92 1739.49 1303.23 1741.32 1305.55 1742.68 1307.86 1743.47 1310.18 1744.11 1312.5 1744.65 1314.81 1745.04 1317.13 1745.24 1319.45 1745.19 1321.76 1744.92 1324.08 1744.46 1326.4 1743.89 1328.71 1743.25 1331.03 1742.48 1333.35 1741.38 1335.66 1740.03 1337.98 1738.49 1340.29 1736.81 1342.61 1735.06 1344.93 1733.31 1347.24 1731.52 1349.56 1729.46 1351.88 1727.23 1354.19 1724.91 1356.51 1722.62 1358.83 1720.47 1361.14 1718.56 1363.46 1716.95 1365.78 1715.44 1368.09 1713.98 1370.41 1712.61 1372.72 1711.37 1375.04 1710.28 1377.36 1709.38 1379.67 1708.7 1381.99 1708.12 1384.31 1707.59 1386.62 1707.11 1388.94 1706.7 1391.26 1706.35 1393.57 1706.09 1395.89 1705.91 1398.21 1705.77 1400.52 1705.66 1402.84 1705.57 1405.15 1705.51 1407.47 1705.5 1409.79 1705.71 1412.1 1706.16 1414.42 1706.78 1416.74 1707.5 1419.05 1708.26 1421.37 1708.99 1423.69 1709.75 1426 1710.58 1428.32 1711.51 1430.64 1712.54 1432.95 1713.69 1435.27 1714.99 1437.58 1716.85 1439.9 1719.15 1442.22 1721.48 1444.53 1723.47 1446.85 1724.76 1449.17 1725.62 1451.48 1726.42 1453.8Z" stroke="#2a2a2a" stroke-width="1.3" fill="#F8766D" stroke-linejoin="round"/>
<path d="M1769.62 1453.8 1770.56 1451.1 1771.81 1448.4 1773.79 1445.7 1776.16 1443 1778.49 1440.3 1780.67 1437.61 1782.96 1434.91 1785.21 1432.21 1787.24 1429.51 1788.88 1426.81 1790.13 1424.11 1791.32 1421.41 1792.43 1418.71 1793.38 1416.01 1794.08 1413.31 1794.47 1410.62 1794.51 1407.92 1794.48 1405.22 1794.43 1402.52 1794.36 1399.82 1794.27 1397.12 1794.09 1394.42 1793.83 1391.72 1793.48 1389.02 1793.07 1386.32 1792.61 1383.63 1792.11 1380.93 1791.45 1378.23 1790.6 1375.53 1789.58 1372.83 1788.44 1370.13 1787.21 1367.43 1785.92 1364.73 1784.5 1362.03 1782.86 1359.33 1781.05 1356.64 1779.11 1353.94 1777.08 1351.24 1775 1348.54 1772.74 1345.84 1770.11 1343.14 1767.3 1340.44 1764.56 1337.74 1762.09 1335.04 1760.12 1332.34 1758.69 1329.64 1757.32 1326.95 1756.11 1324.25 1755.16 1321.55 1754.63 1318.85 1754.59 1316.15 1754.88 1313.45 1755.4 1310.75 1756.1 1308.05 1756.91 1305.35 1757.8 1302.65 1759.1 1299.96 1760.84 1297.26 1762.88 1294.56 1765.09 1291.86 1767.34 1289.16 1769.51 1286.46 1771.82 1283.76 1774.35 1281.06 1776.95 1278.36 1779.48 1275.66 1781.81 1272.97 1783.77 1270.27 1785.49 1267.57 1787.17 1264.87 1788.73 1262.17 1790.11 1259.47 1791.25 1256.77 1792.08 1254.07 1792.61 1251.37 1793.03 1248.67 1793.37 1245.98 1793.68 1243.28 1793.97 1240.58 1794.31 1237.88 L1798.49 1237.88 1798.83 1240.58 1799.12 1243.28 1799.43 1245.98 1799.77 1248.67 1800.19 1251.37 1800.72 1254.07 1801.55 1256.77 1802.69 1259.47 1804.07 1262.17 1805.63 1264.87 1807.31 1267.57 1809.03 1270.27 1810.99 1272.97 1813.32 1275.66 1815.85 1278.36 1818.45 1281.06 1820.98 1283.76 1823.29 1286.46 1825.46 1289.16 1827.71 1291.86 1829.92 1294.56 1831.96 1297.26 1833.7 1299.96 1835 1302.65 1835.89 1305.35 1836.7 1308.05 1837.4 1310.75 1837.92 1313.45 1838.21 1316.15 1838.17 1318.85 1837.64 1321.55 1836.69 1324.25 1835.48 1326.95 1834.11 1329.64 1832.68 1332.34 1830.71 1335.04 1828.24 1337.74 1825.5 1340.44 1822.69 1343.14 1820.06 1345.84 1817.8 1348.54 1815.72 1351.24 1813.69 1353.94 1811.75 1356.64 1809.94 1359.33 1808.3 1362.03 1806.88 1364.73 1805.59 1367.43 1804.36 1370.13 1803.22 1372.83 1802.2 1375.53 1801.35 1378.23 1800.69 1380.93 1800.19 1383.63 1799.73 1386.32 1799.32 1389.02 1798.97 1391.72 1798.71 1394.42 1798.53 1397.12 1798.44 1399.82 1798.37 1402.52 1798.32 1405.22 1798.29 1407.92 1798.33 1410.62 1798.72 1413.31 1799.42 1416.01 1800.37 1418.71 1801.48 1421.41 1802.67 1424.11 1803.92 1426.81 1805.56 1429.51 1807.59 1432.21 1809.84 1434.91 1812.13 1437.61 1814.31 1440.3 1816.64 1443 1819.01 1445.7 1820.99 1448.4 1822.24 1451.1 1823.18 1453.8Z" stroke="#2a2a2a" stroke-width="1.3" fill="#7CAE00" stroke-linejoin="round"/>
<line x1="1847.55" y1="1453.8" x2="1931.25" y2="1453.8" stroke="#2a2a2a" stroke-width="1.15" />
<line x1="1940.55" y1="1453.8" x2="2024.25" y2="1453.8" stroke="#2a2a2a" stroke-width="1.15" />
<line x1="1982.4" y1="1453.8" x2="1982.4" y2="1380.9" stroke="#2a2a2a" stroke-width="1.15" />
<line x1="1978.2" y1="1380.9" x2="1986.6" y2="1380.9" stroke="#2a2a2a" stroke-width="1.15" />
<path d="M1719.2 1411.5h0M1728.7 1411.5h0M1679.8 1411.5h0M1740.5 1411.5h0M1680.6 1411.5h0M1716.1 1411.5h0M1673 1411.5h0M1722.6 1411.5h0M1677.5 1411.5h0M1718.8 1411.5h0M1720.1 1411.5h0M1723.2 1411.5h0M1699 1411.5h0M1730.6 1411.5h0M1739.7 1411.5h0M1674.8 1411.5h0M1704.7 1411.5h0M1737.5 1411.5h0M1721.2 1411.5h0M1699.2 1411.5h0M1688.9 1411.5h0M1722.8 1244.5h0M1690.5 1258.9h0M1693.5 1299.2h0M1689.7 1253.2h0M1673.4 1253.5h0M1727.1 1273h0M1686 1234.8h0M1673.2 1267.1h0M1676.8 1285.4h0M1738.6 1286.1h0M1740.4 1316.8h0M1684.2 1265.5h0M1714.1 1276h0M1725.3 1274.5h0M1728.1 1292.1h0M1708.9 1304.3h0M1684.7 1289.6h0M1699.7 1294.5h0M1723 1298.8h0M1719.1 1336.8h0M1709.1 1261.9h0M1682.6 1291.6h0M1691.2 1299.8h0M1713.9 1251.4h0M1706.6 1348.8h0M1713.3 1271.4h0M1694.6 1252.1h0M1719.9 1266h0M1700.6 1292.7h0M1729.1 1327.4h0M1682.1 1282.9h0M1669.8 1289h0M1735.7 1260.8h0M1669.9 1280.7h0M1673.9 1251.4h0M1703.7 1310.6h0M1703.1 1325.2h0M1714.9 1270.6h0M1696.8 1288.4h0M1728.2 1235.7h0M1677.6 1296.7h0M1687.2 1316.1h0M1712.3 1256.2h0M1721.8 1304.3h0M1683.9 1277h0M1682.1 1302.6h0M1701.6 1238.5h0M1717.5 1296.4h0M1679.1 1313.8h0M1683 1261.3h0M1716.7 1305.6h0M1690.7 1267h0M1707.2 1304.9h0M1713.3 1247.2h0M1693.3 1279.7h0M1737.1 1305.8h0M1672.5 1284.5h0M1692.8 1288.7h0M1683.9 1288.4h0M1738.2 1319.9h0M1724.6 1255.7h0M1692.9 1260.1h0M1717.3 1309h0M1674.7 1307.5h0M1704.7 1259.9h0M1677.9 1277.1h0M1730.9 1283.5h0M1676.8 1312.6h0M1671.9 1277h0M1704.1 1286.4h0M1702.4 1285.5h0M1728.8 1251.5h0M1713.6 1295.8h0M1679.5 1319.4h0M1737.7 1277.5h0M1697.5 1308.8h0M1701.5 1240.4h0M1706.3 1293.6h0M1721.2 1299.2h0M1714.4 1273.3h0M1666.5 1282.5h0M1707.7 1301.4h0M1712.1 1284.8h0M1724.1 1268h0M1679 1251.5h0M1723.6 1294.1h0M1678.1 1276.9h0M1680.2 1274.1h0M1735.1 1240.9h0M1723.9 1276.1h0M1730.4 1308.8h0M1721.8 1289.8h0M1705 1277.5h0M1675.6 1301.8h0M1676.8 1269h0M1680.1 1364.7h0M1676.4 1282.7h0M1729.2 1303.5h0M1677.1 1265.4h0M1729.4 1298.1h0M1728.9 1239.7h0M1804.8 1411.5h0M1796.2 1411.5h0M1767.7 1411.5h0M1761.6 1411.5h0M1805.3 1411.5h0M1830.8 1411.5h0M1832.2 1411.5h0M1790.3 1411.5h0M1798 1411.5h0M1824.8 1411.5h0M1780.2 1411.5h0M1813.8 1411.5h0M1803.8 1411.5h0M1791.5 1411.5h0M1788.2 1411.5h0M1771 1411.5h0M1770.1 1411.5h0M1781.3 1411.5h0M1832.7 1411.5h0M1820.1 1411.5h0M1759.8 1411.5h0M1815.5 1411.5h0M1769.7 1411.5h0M1802.1 1411.5h0M1827.7 1411.5h0M1826.6 1411.5h0M1825.2 1411.5h0M1833.1 1411.5h0M1806.2 1411.5h0M1761.5 1411.5h0M1778.1 1411.5h0M1809 1411.5h0M1803.5 1411.5h0M1827.1 1411.5h0M1771.9 1411.5h0M1825.2 1411.5h0M1802.2 1411.5h0M1803.3 1411.5h0M1768.2 1411.5h0M1785.7 1411.5h0M1797.5 1411.5h0M1815.4 1411.5h0M1809.8 1411.5h0M1806.9 1411.5h0M1812.1 1411.5h0M1785.5 1411.5h0M1784.2 1411.5h0M1832 1411.5h0M1809.1 1411.5h0M1800.9 1411.5h0M1831.1 1411.5h0M1823.6 1411.5h0M1812.8 1411.5h0M1832 1411.5h0M1787.8 1411.5h0M1828.1 1411.5h0M1789.1 1271.8h0M1831.6 1328.2h0M1768.9 1286.2h0M1806.3 1279.9h0M1761.1 1306.8h0M1807.1 1260.7h0M1824.8 1264.7h0M1776.4 1256.4h0M1827.8 1298.9h0M1792 1272.4h0M1830.5 1298h0M1827.3 1264.1h0M1759.3 1244.6h0M1768.7 1265.1h0M1771.4 1239.9h0M1785.3 1293.5h0M1765.3 1279.8h0M1793.1 1310.8h0M1821.2 1282.2h0M1800.7 1245.2h0M1788 1309.1h0M1790.8 1285.2h0M1778.5 1306.3h0M1770.8 1241.1h0M1817.4 1323.3h0M1825.9 1319.9h0M1813 1298.4h0M1806 1227.6h0M1768.3 1282.9h0M1780.3 1326.7h0M1770 1306.9h0M1786.9 1267.4h0M1782.5 1334.9h0M1804.3 1243.3h0M1821.6 1285.1h0M1813.7 1340h0M1832.8 1263h0M1776.6 1265.9h0M1804 1254.2h0M1803.1 1342.9h0M1817.4 1272.4h0M1760.1 1334.3h0M1759.7 1268.3h0M1786.3 1247.8h0M1821.8 1250.4h0M1776.8 1213.3h0M1803.3 1352.1h0M1812.8 1219.2h0M1791.4 1308.3h0M1831.7 1255.7h0M1823.4 1286h0M1792.7 1265h0M1798.5 1259.3h0M1785.2 1277.6h0M1808.2 1296.3h0M1788.4 1305h0M1807.3 1270.7h0M1764.2 1262.5h0M1784.2 1265.5h0M1767.9 1243.7h0M1807.7 1268.2h0M1804.9 1317.4h0M1765.1 1282.5h0M1824.8 1291.8h0M1830.2 1322.5h0M1804.8 1276.2h0M1813.3 1236.7h0M1785.4 1301.3h0M1771.2 1269.5h0M1807.2 1331.1h0M1812.9 1263.9h0M1830.5 1279.3h0M1771.9 1289.9h0M1781.5 1296.3h0M1808.2 1304.7h0M1826.7 1265.6h0M1827.3 1267.1h0M1802.2 1298.1h0M1766.3 1271.8h0M1786 1257.4h0M1767.4 1250.5h0M1801.3 1270.5h0M1827.3 1298.7h0M1778.9 1261.6h0M1768.6 1257.3h0M1816 1285h0M1825 1282.9h0M1816.9 1246.7h0M1824.5 1320.1h0M1775.6 1277.8h0M1833.1 1243h0M1823 1221.4h0M1763.5 1287.9h0M1779.2 1278.9h0M1762.7 1235h0M1830.2 1249.1h0M1816.6 1281.9h0M1795.9 1271h0M1805.5 1269h0M1762.8 1291.9h0M1788.1 1312.7h0M1820.7 1238.8h0M1821.9 1263.8h0M1796 1247.1h0M1778.5 1248.3h0M1767.7 1311.8h0M1811.5 1303.9h0M1812 1215.6h0M1813.3 1275.1h0M1821.9 1271.3h0M1760.5 1232.1h0M1796.5 1286.9h0M1792.2 1293.4h0M1825.8 1317.9h0M1772.7 1244.4h0M1773.9 1285.6h0M1813 1332.8h0M1795.7 1295.3h0M1795.7 1296.3h0M1796.5 1302.8h0M1786.6 1298h0M1817.8 1233.7h0M1821.3 1306.1h0M1826 1257.2h0M1822.6 1293.3h0M1784.3 1252.7h0M1812.1 1259.5h0M1819.4 1288.9h0M1831.3 1329.4h0M1764.7 1253.3h0M1775.3 1248.3h0M1833.4 1259.2h0M1762.5 1249.5h0M1779.7 1304.5h0M1813.1 1287.2h0M1796.1 1252.5h0M1815.8 1271h0M1781.8 1302.7h0M1793.7 1240.7h0M1820.4 1231.3h0M1771.3 1287.9h0M1827 1249.8h0M1779 1280.3h0M1794 1288.9h0M1817.7 1289.9h0M1829.2 1326.3h0M1801.5 1285.2h0M1807.4 1259.1h0M1767.7 1283.9h0M1768 1235.9h0M1786.5 1309.8h0M1778.3 1257.7h0M1801.5 1280.6h0M1792.4 1277.1h0M1832.5 1266.6h0M1807.5 1265.3h0M1780.9 1204.4h0M1792.1 1273.7h0M1832.8 1301.6h0M1805.5 1351.7h0M1761.3 1305.1h0M1803.6 1261.4h0M1785.2 1265h0M1774.8 1228.8h0M1775.4 1356.1h0M1767.5 1274.5h0M1789.8 1278.5h0M1808.2 1226.5h0M1791.2 1262.7h0M1829.3 1235.2h0M1759.6 1245.8h0M1792.2 1269.8h0M1804.9 1326.3h0M1811.3 1257.1h0M1776.5 1282h0M1823 1278.1h0M1813.6 1286.7h0M1828 1265.1h0M1824.9 1361h0M1781.3 1248.2h0M1768.1 1326.7h0M1776.1 1226.4h0M1793.9 1329h0M1765.7 1254.7h0M1780.9 1291.5h0M1821.3 1287.3h0M1788.4 1282.1h0M1779.8 1269.6h0M1811.8 1326.2h0M1797.5 1245.3h0M1791.1 1276.6h0M1767.2 1270.5h0M1797 1305.6h0M1830.7 1282.1h0M1801.8 1287.8h0M1799.1 1282.2h0M1819.1 1263.1h0M1804.8 1299.1h0M1773.7 1269.7h0M1791.2 1292.7h0M1796.7 1318h0M1803.1 1272.1h0M1769.3 1243.8h0M1790.5 1335.5h0M1760.1 1266.8h0M1786.5 1281.6h0M1822.7 1260.9h0M1804.3 1267.3h0M1828.3 1291.9h0M1786.7 1308.4h0M1789.1 1272.9h0M1802 1263h0M1765.5 1270.8h0M1827 1258.6h0M1831.7 1246.3h0M1782.3 1289.1h0M1780.1 1270.6h0M1796.9 1296.9h0M1828.8 1272.5h0M1780.7 1242.6h0M1760.7 1331.8h0M1828.8 1302.7h0M1890.5 1411.5h0M1863.1 1411.5h0M1915 1411.5h0M1862.3 1411.5h0M1898.9 1411.5h0M1883.5 1411.5h0M1885.7 1411.5h0M1861.7 1411.5h0M1861 1411.5h0M1900.8 1411.5h0M1902.5 1411.5h0M1885.9 1411.5h0M1877.8 1411.5h0M1991.7 1340.7h0M2000.7 1411.5h0M1977.8 1411.5h0M2009.3 1411.5h0M1992.2 1411.5h0M1948.7 1411.5h0M1955.4 1411.5h0M1970 1411.5h0M1945.9 1411.5h0" stroke="#000" stroke-width="7.1" stroke-linecap="round" fill="none" transform="scale(1 1.03)" />
<text x="1842.35" y="1210" font-size="24.94" text-anchor="middle" font-weight="bold" fill="#000">PLIN1</text>
<path d="M1647.5 1226.5V1464.8H2038.2" stroke="#1c1c1c" stroke-width="1.8" fill="none" />
<line x1="1642.6" y1="1453.8" x2="1647.5" y2="1453.8" stroke="#1c1c1c" stroke-width="1.8" />
<text x="1637.1" y="1460.7" font-size="19" text-anchor="end" fill="#111" textLength="10.46" lengthAdjust="spacingAndGlyphs">0</text>
<line x1="1642.6" y1="1398.15" x2="1647.5" y2="1398.15" stroke="#1c1c1c" stroke-width="1.8" />
<text x="1637.1" y="1405.05" font-size="19" text-anchor="end" fill="#111" textLength="10.46" lengthAdjust="spacingAndGlyphs">1</text>
<line x1="1642.6" y1="1342.5" x2="1647.5" y2="1342.5" stroke="#1c1c1c" stroke-width="1.8" />
<text x="1637.1" y="1349.4" font-size="19" text-anchor="end" fill="#111" textLength="10.46" lengthAdjust="spacingAndGlyphs">2</text>
<line x1="1642.6" y1="1286.85" x2="1647.5" y2="1286.85" stroke="#1c1c1c" stroke-width="1.8" />
<text x="1637.1" y="1293.75" font-size="19" text-anchor="end" fill="#111" textLength="10.46" lengthAdjust="spacingAndGlyphs">3</text>
<line x1="1642.6" y1="1231.2" x2="1647.5" y2="1231.2" stroke="#1c1c1c" stroke-width="1.8" />
<text x="1637.1" y="1238.1" font-size="19" text-anchor="end" fill="#111" textLength="10.46" lengthAdjust="spacingAndGlyphs">4</text>
<line x1="1703.4" y1="1464.8" x2="1703.4" y2="1469.7" stroke="#1c1c1c" stroke-width="1.8" />
<text x="1711.07" y="1485.24" font-size="18.8" text-anchor="end" fill="#111" transform="rotate(-46.5 1711.07 1485.24)" textLength="49.83" lengthAdjust="spacingAndGlyphs">HLW1</text>
<line x1="1796.4" y1="1464.8" x2="1796.4" y2="1469.7" stroke="#1c1c1c" stroke-width="1.8" />
<text x="1804.07" y="1485.24" font-size="18.8" text-anchor="end" fill="#111" transform="rotate(-46.5 1804.07 1485.24)" textLength="49.83" lengthAdjust="spacingAndGlyphs">HLW2</text>
<line x1="1889.4" y1="1464.8" x2="1889.4" y2="1469.7" stroke="#1c1c1c" stroke-width="1.8" />
<text x="1897.07" y="1485.24" font-size="18.8" text-anchor="end" fill="#111" transform="rotate(-46.5 1897.07 1485.24)" textLength="46.77" lengthAdjust="spacingAndGlyphs">LLW1</text>
<line x1="1982.4" y1="1464.8" x2="1982.4" y2="1469.7" stroke="#1c1c1c" stroke-width="1.8" />
<text x="1990.07" y="1485.24" font-size="18.8" text-anchor="end" fill="#111" transform="rotate(-46.5 1990.07 1485.24)" textLength="46.77" lengthAdjust="spacingAndGlyphs">LLW2</text>
<text x="1617.3" y="1346.15" font-size="22.2" text-anchor="middle" fill="#111" transform="rotate(-90 1617.3 1346.15)" textLength="169.06" lengthAdjust="spacingAndGlyphs">Expression Level</text>
<text x="19" y="1441" font-size="54" font-weight="bold" fill="#000" textLength="19.42" lengthAdjust="spacingAndGlyphs">f</text>
<text x="519.5" y="1446" font-size="36.6" text-anchor="middle" font-weight="bold" font-family="'Liberation Serif', 'Times New Roman', serif" fill="#000">Lipid metabolism-related   genes</text>
<line x1="95" y1="1465.3" x2="852.5" y2="1465.3" stroke="#000" stroke-width="2.6" />
<text x="166.2" y="1513.1" font-size="25.2" text-anchor="middle" font-weight="bold" fill="#000">HLW1</text>
<text x="372.3" y="1513.1" font-size="25.2" text-anchor="middle" font-weight="bold" fill="#000">HLW2</text>
<text x="590.2" y="1513.1" font-size="25.2" text-anchor="middle" font-weight="bold" fill="#000">LLW1</text>
<text x="796.6" y="1513.1" font-size="25.2" text-anchor="middle" font-weight="bold" fill="#000">LLW2</text>
<path d="M158.4 1552.8h0M150.5 1561.6h0M146.4 1567.6h0M142.5 1572.1h0M145.2 1576.1h0M153.1 1576.1h0M144.3 1577.9h0M147.2 1580.2h0M144.5 1582h0M149.7 1582.1h0M187.9 1542.9h0M203.7 1551.6h0M184.1 1552h0M197.4 1554.3h0M185.5 1556.5h0M187.3 1557.6h0M196.8 1556.8h0M208.8 1558.1h0M168.3 1561.8h0M196.4 1562.8h0M211.8 1565.8h0M178.6 1567.9h0M196.1 1569.3h0M208.3 1570.4h0M179.4 1573.7h0M171.5 1573.9h0M168.5 1574.1h0M205.1 1576.3h0M186.4 1579.5h0M197.8 1583.6h0M151.8 1585.3h0M150.2 1588.7h0M147.1 1589.3h0M155.5 1592h0M151.1 1594.2h0M141.4 1595.2h0M145 1596.1h0M142.8 1604.2h0M132.1 1605.7h0M158.3 1607.1h0M153.6 1612.5h0M157 1613h0M163.8 1612.8h0M164.8 1617h0M146 1619.2h0M142.1 1622.1h0M147.2 1624.2h0M152.1 1633.4h0M151.4 1637.7h0M163.8 1586.9h0M173.4 1591.9h0M184.3 1592.8h0M177.1 1594.7h0M200.8 1603.6h0M186.5 1606.2h0M175.9 1606.5h0M166 1613.1h0M175.3 1615.2h0" stroke="#d3d3d3" stroke-width="6.3" stroke-linecap="round" fill="none" />
<path d="M191 1540.3h0M150 1615.4h0M197.5 1590.2h0M195.4 1593.2h0M185 1597.9h0M183 1606.7h0" stroke="#7c5df4" stroke-width="6.3" stroke-linecap="round" fill="none" />
<path d="M141.5 1554h0M127.3 1585.3h0" stroke="#b7a0e6" stroke-width="6.3" stroke-linecap="round" fill="none" />
<path d="M162.8 1556h0M135.1 1600.8h0M190.8 1597.6h0M188.6 1605.3h0M166.3 1625.9h0" stroke="#9e80ee" stroke-width="6.3" stroke-linecap="round" fill="none" />
<path d="M145 1627h0M173.6 1628.3h0" stroke="#0000ff" stroke-width="6.3" stroke-linecap="round" fill="none" />
<path d="M171.4 1547.1h0M187.7 1612.3h0" stroke="#4f36f9" stroke-width="6.3" stroke-linecap="round" fill="none" />
<path d="M179.4 1576.3h0M149.9 1622.7h0M174.4 1620.1h0" stroke="#aa90ea" stroke-width="6.3" stroke-linecap="round" fill="none" />
<path d="M152.7 1568.7h0M191.3 1545.6h0M197 1550.9h0M195.1 1552.1h0M168 1553.5h0M191.2 1554.4h0M165.7 1566.3h0M204.1 1565.3h0M186.3 1571.9h0M131.4 1586.7h0M155.9 1587h0M162.5 1596.4h0M133.3 1599.3h0M130.7 1607.2h0M151.5 1608.1h0M146.6 1619.4h0M150.6 1619.7h0M159.4 1630.2h0M186.5 1593.7h0M165.9 1598.8h0M202.3 1600.8h0M190.5 1605.2h0M167.3 1607.1h0M193.8 1610.2h0" stroke="#d3d3d3" stroke-width="6.3" stroke-linecap="round" fill="none" />
<path d="M112.4 1530.2V1645.9H221.6" stroke="#000" stroke-width="1.8" fill="none" />
<line x1="136.9" y1="1645.9" x2="136.9" y2="1650.9" stroke="#000" stroke-width="1.8" />
<text x="136.9" y="1670.8" font-size="19.3" text-anchor="middle" fill="#000">−10</text>
<line x1="107.4" y1="1615.1" x2="112.4" y2="1615.1" stroke="#000" stroke-width="1.8" />
<text x="103.2" y="1621.95" font-size="19.3" text-anchor="end" fill="#000">−10</text>
<line x1="170" y1="1645.9" x2="170" y2="1650.9" stroke="#000" stroke-width="1.8" />
<text x="170" y="1670.8" font-size="19.3" text-anchor="middle" fill="#000">0</text>
<line x1="107.4" y1="1583.4" x2="112.4" y2="1583.4" stroke="#000" stroke-width="1.8" />
<text x="103.2" y="1590.25" font-size="19.3" text-anchor="end" fill="#000">0</text>
<line x1="203.1" y1="1645.9" x2="203.1" y2="1650.9" stroke="#000" stroke-width="1.8" />
<text x="203.1" y="1670.8" font-size="19.3" text-anchor="middle" fill="#000">10</text>
<line x1="107.4" y1="1551.7" x2="112.4" y2="1551.7" stroke="#000" stroke-width="1.8" />
<text x="103.2" y="1558.55" font-size="19.3" text-anchor="end" fill="#000">10</text>
<text x="166.03" y="1696.9" font-size="22.7" text-anchor="middle" fill="#000">tSNE_1</text>
<text x="57.4" y="1588.05" font-size="22.7" text-anchor="middle" fill="#000" transform="rotate(-90 57.4 1588.05)">tSNE_2</text>
<path d="M364.4 1541.6h0M347.7 1553h0M346 1554.9h0M342.5 1558h0M361.9 1556.5h0M361.5 1558.2h0M368.3 1558.4h0M353.6 1559.9h0M367 1561.9h0M369.4 1562h0M365.6 1564.3h0M369.5 1565h0M342.3 1566.5h0M342.9 1567h0M351.1 1568.5h0M362.2 1567.7h0M360.9 1568.5h0M343.5 1570.4h0M351.1 1570.6h0M352.8 1572.1h0M354.7 1572.1h0M364.6 1572.1h0M365 1572.6h0M341.4 1573.9h0M366.9 1574.8h0M367.7 1574.8h0M351.7 1575.8h0M356.5 1576.3h0M357.4 1576.2h0M344.1 1577h0M344.9 1576.9h0M353.4 1577.2h0M333.3 1578.3h0M334.9 1578.5h0M340.7 1578.8h0M341.3 1578.7h0M338.7 1580h0M366.2 1579.2h0M362.1 1580.4h0M362 1581h0M359.7 1581.7h0M339.4 1582.6h0M339.2 1583.4h0M365.8 1584.4h0M363.5 1584.6h0M402.3 1547.1h0M404.7 1546.6h0M379.5 1547.6h0M396.6 1548.9h0M383.4 1550.3h0M409.1 1553.1h0M413.3 1553.2h0M387.1 1551.8h0M388.1 1551.2h0M389.2 1550.9h0M391 1552.2h0M391.3 1553.1h0M393.4 1550.6h0M393.3 1551.8h0M394 1553.4h0M384.9 1552.6h0M376.8 1553.4h0M398.3 1554.4h0M383.4 1554.8h0M382.4 1556.3h0M374.5 1555.1h0M374.6 1556.8h0M397.3 1557.3h0M387.9 1557.8h0M386.2 1559.4h0M377 1558.4h0M395.5 1559h0M373.2 1560.3h0M399.8 1560.4h0M401 1560.7h0M405.1 1560.7h0M405.1 1561.6h0M407.2 1562.1h0M383.9 1561.1h0M383.8 1563.2h0M396.9 1562.5h0M393.5 1563.1h0M379.4 1563.8h0M387.8 1564.3h0M390.6 1565.5h0M391.3 1565.5h0M415.8 1567.2h0M395.5 1567h0M404.9 1567.2h0M374.8 1567.7h0M380.3 1567h0M381 1567.5h0M387 1568.3h0M391.3 1569.3h0M399.9 1569h0M414.4 1569.2h0M413.6 1571.9h0M394 1571.7h0M393.2 1572.9h0M397.6 1571.9h0M388.7 1572.8h0M380.3 1572.7h0M407.6 1572.6h0M378.6 1574.7h0M401.7 1574.3h0M402.3 1574.6h0M390.1 1575.8h0M407 1575.7h0M408.4 1575.4h0M394.4 1576.9h0M397.1 1577.2h0M400 1577.2h0M419.3 1576.7h0M419.7 1576.9h0M380.7 1577.5h0M381 1579.2h0M387.3 1577.3h0M386.5 1578h0M385.9 1578.8h0M385.3 1579.6h0M375 1579.1h0M379 1579h0M405.5 1578.9h0M408.9 1580.2h0M409.5 1580.5h0M370.4 1582.1h0M384.7 1582.6h0M387.2 1582.3h0M396.6 1582.5h0M398 1581.7h0M399.4 1581.8h0M402.3 1583h0M391.3 1584h0M378.4 1582.1h0M332 1586.2h0M344.7 1585.4h0M348.2 1585.5h0M337.9 1585.8h0M361.9 1587.9h0M361.6 1589.3h0M364.7 1587.1h0M368.2 1587.4h0M342.9 1587.8h0M342 1588.4h0M355 1588.6h0M339.8 1590.4h0M340.3 1590.9h0M363.2 1591.5h0M367.6 1591.3h0M352.7 1592.1h0M345.7 1592.3h0M345.5 1593.4h0M357.7 1595.7h0M363.1 1594.4h0M363.9 1595.2h0M364.9 1596.4h0M347.4 1596h0M352 1596.5h0M352.6 1596.5h0M324.7 1595.9h0M338.2 1596.4h0M337.7 1597.5h0M354.6 1597.7h0M350.8 1599.5h0M354.4 1602.2h0M360.7 1602h0M361.6 1603.1h0M361.6 1604.4h0M366.1 1602.6h0M367.9 1602.4h0M342.5 1604.3h0M351.9 1604.3h0M352.2 1605h0M355.3 1606.7h0M356.1 1607.5h0M357.5 1608.6h0M352.4 1607.6h0M343.2 1608.1h0M361.9 1609.6h0M363.8 1609.9h0M366.3 1610.2h0M370.1 1608.3h0M341.1 1611.6h0M354.6 1612.2h0M355.1 1613.7h0M345.5 1614.1h0M347.1 1614.8h0M341.1 1616.5h0M342.1 1616.3h0M343.2 1617h0M364.5 1618.4h0M362.4 1618.8h0M366.1 1619.4h0M359.7 1621.2h0M358.6 1621.7h0M358 1623.7h0M351.3 1625.5h0M349.4 1629.6h0M355.2 1632.7h0M363.5 1633.8h0M357.9 1636.2h0M360.1 1635.9h0M384.5 1583.5h0M391.5 1584.8h0M382 1585.1h0M375 1585.6h0M373.3 1586.3h0M386.5 1586.4h0M387.6 1586.4h0M393.6 1587.1h0M403.8 1587.9h0M371.7 1588.4h0M371.2 1589h0M378.6 1588.2h0M376.4 1589h0M374.4 1589.7h0M381 1589.8h0M390.3 1589.5h0M390.9 1590.8h0M413.5 1590.5h0M415.8 1590.1h0M416.4 1590.9h0M386.3 1591.9h0M378.4 1592h0M372.9 1592h0M372.7 1593.2h0M372.3 1594.4h0M395.7 1592.3h0M403 1594h0M403.3 1595.7h0M403 1597.1h0M381.3 1596.2h0M397.7 1596.2h0M397.7 1598.6h0M390.2 1600.4h0M382.1 1599.4h0M383.5 1599.6h0M380.3 1600.6h0M407.6 1598.6h0M407.5 1599.7h0M375.9 1601h0M375.4 1602h0M373.6 1604.5h0M374.8 1604.2h0M381.6 1606.4h0M388.4 1608.2h0M371.9 1607.2h0M371.2 1609.9h0M372.2 1611.9h0M381.1 1612.8h0M372.7 1614.6h0M375.5 1614.3h0M387.9 1613.9h0M388.5 1615.2h0M390.8 1615.9h0M391.7 1615.7h0M375.4 1619.5h0M375.8 1619.8h0M384 1619.6h0M383.9 1622.9h0M384 1623.7h0M372.1 1626h0M379.5 1627h0" stroke="#d3d3d3" stroke-width="6.3" stroke-linecap="round" fill="none" />
<path d="M396.2 1575.3h0" stroke="#7c5df4" stroke-width="6.3" stroke-linecap="round" fill="none" />
<path d="M396.9 1569h0M382.9 1619.5h0" stroke="#281bfc" stroke-width="6.3" stroke-linecap="round" fill="none" />
<path d="M362.6 1634h0" stroke="#9e80ee" stroke-width="6.3" stroke-linecap="round" fill="none" />
<path d="M339.9 1604.1h0M348.1 1614.9h0" stroke="#aa90ea" stroke-width="6.3" stroke-linecap="round" fill="none" />
<path d="M318.3 1530.2V1645.9H427.5" stroke="#000" stroke-width="1.8" fill="none" />
<line x1="342.2" y1="1645.9" x2="342.2" y2="1650.9" stroke="#000" stroke-width="1.8" />
<text x="342.2" y="1670.8" font-size="19.3" text-anchor="middle" fill="#000">−10</text>
<line x1="313.3" y1="1615.1" x2="318.3" y2="1615.1" stroke="#000" stroke-width="1.8" />
<text x="309.1" y="1621.95" font-size="19.3" text-anchor="end" fill="#000">−10</text>
<line x1="375.3" y1="1645.9" x2="375.3" y2="1650.9" stroke="#000" stroke-width="1.8" />
<text x="375.3" y="1670.8" font-size="19.3" text-anchor="middle" fill="#000">0</text>
<line x1="313.3" y1="1583.4" x2="318.3" y2="1583.4" stroke="#000" stroke-width="1.8" />
<text x="309.1" y="1590.25" font-size="19.3" text-anchor="end" fill="#000">0</text>
<line x1="408.4" y1="1645.9" x2="408.4" y2="1650.9" stroke="#000" stroke-width="1.8" />
<text x="408.4" y="1670.8" font-size="19.3" text-anchor="middle" fill="#000">10</text>
<line x1="313.3" y1="1551.7" x2="318.3" y2="1551.7" stroke="#000" stroke-width="1.8" />
<text x="309.1" y="1558.55" font-size="19.3" text-anchor="end" fill="#000">10</text>
<text x="371.33" y="1696.9" font-size="22.7" text-anchor="middle" fill="#000">tSNE_1</text>
<text x="263.3" y="1588.05" font-size="22.7" text-anchor="middle" fill="#000" transform="rotate(-90 263.3 1588.05)">tSNE_2</text>
<path d="M604.7 1539.5h0M604.4 1540.4h0M607.8 1540.9h0M609.6 1540.8h0M609.3 1541.6h0M608.7 1541.3h0M607 1543.3h0M606.9 1544.2h0M606.8 1545.4h0M604.3 1544.3h0M610.4 1544.7h0M609.8 1545.6h0M610.4 1547h0M603.1 1547.2h0M606.8 1554.6h0M607.3 1555h0M607.9 1552.2h0M609.6 1560.2h0M611.5 1561.1h0M616.4 1564.2h0" stroke="#d3d3d3" stroke-width="6.3" stroke-linecap="round" fill="none" />
<path d="M536.4 1530.2V1645.9H645.6" stroke="#000" stroke-width="1.8" fill="none" />
<line x1="560.7" y1="1645.9" x2="560.7" y2="1650.9" stroke="#000" stroke-width="1.8" />
<text x="560.7" y="1670.8" font-size="19.3" text-anchor="middle" fill="#000">−10</text>
<line x1="531.4" y1="1615.1" x2="536.4" y2="1615.1" stroke="#000" stroke-width="1.8" />
<text x="527.2" y="1621.95" font-size="19.3" text-anchor="end" fill="#000">−10</text>
<line x1="593.8" y1="1645.9" x2="593.8" y2="1650.9" stroke="#000" stroke-width="1.8" />
<text x="593.8" y="1670.8" font-size="19.3" text-anchor="middle" fill="#000">0</text>
<line x1="531.4" y1="1583.4" x2="536.4" y2="1583.4" stroke="#000" stroke-width="1.8" />
<text x="527.2" y="1590.25" font-size="19.3" text-anchor="end" fill="#000">0</text>
<line x1="626.9" y1="1645.9" x2="626.9" y2="1650.9" stroke="#000" stroke-width="1.8" />
<text x="626.9" y="1670.8" font-size="19.3" text-anchor="middle" fill="#000">10</text>
<line x1="531.4" y1="1551.7" x2="536.4" y2="1551.7" stroke="#000" stroke-width="1.8" />
<text x="527.2" y="1558.55" font-size="19.3" text-anchor="end" fill="#000">10</text>
<text x="589.83" y="1696.9" font-size="22.7" text-anchor="middle" fill="#000">tSNE_1</text>
<text x="481.4" y="1588.05" font-size="22.7" text-anchor="middle" fill="#000" transform="rotate(-90 481.4 1588.05)">tSNE_2</text>
<path d="M824.7 1537.1h0M824.4 1537.3h0M814 1546.8h0M811.3 1554.3h0M814 1559.8h0M818.6 1561.8h0M820.7 1565.3h0M822.4 1565.3h0" stroke="#d3d3d3" stroke-width="6.3" stroke-linecap="round" fill="none" />
<path d="M788.3 1627.2h0" stroke="#aa90ea" stroke-width="6.3" stroke-linecap="round" fill="none" />
<path d="M742.3 1530.2V1645.9H851.5" stroke="#000" stroke-width="1.8" fill="none" />
<line x1="765.9" y1="1645.9" x2="765.9" y2="1650.9" stroke="#000" stroke-width="1.8" />
<text x="765.9" y="1670.8" font-size="19.3" text-anchor="middle" fill="#000">−10</text>
<line x1="737.3" y1="1615.1" x2="742.3" y2="1615.1" stroke="#000" stroke-width="1.8" />
<text x="733.1" y="1621.95" font-size="19.3" text-anchor="end" fill="#000">−10</text>
<line x1="799" y1="1645.9" x2="799" y2="1650.9" stroke="#000" stroke-width="1.8" />
<text x="799" y="1670.8" font-size="19.3" text-anchor="middle" fill="#000">0</text>
<line x1="737.3" y1="1583.4" x2="742.3" y2="1583.4" stroke="#000" stroke-width="1.8" />
<text x="733.1" y="1590.25" font-size="19.3" text-anchor="end" fill="#000">0</text>
<line x1="832.1" y1="1645.9" x2="832.1" y2="1650.9" stroke="#000" stroke-width="1.8" />
<text x="832.1" y="1670.8" font-size="19.3" text-anchor="middle" fill="#000">10</text>
<line x1="737.3" y1="1551.7" x2="742.3" y2="1551.7" stroke="#000" stroke-width="1.8" />
<text x="733.1" y="1558.55" font-size="19.3" text-anchor="end" fill="#000">10</text>
<text x="795.03" y="1696.9" font-size="22.7" text-anchor="middle" fill="#000">tSNE_1</text>
<text x="687.3" y="1588.05" font-size="22.7" text-anchor="middle" fill="#000" transform="rotate(-90 687.3 1588.05)">tSNE_2</text>
<text x="855.8" y="1588.05" font-size="22.8" text-anchor="middle" font-weight="bold" fill="#000" transform="rotate(90 855.8 1588.05)">FASN</text>
<path d="M158.4 1735.6h0M150.5 1744.4h0M146.4 1750.4h0M142.5 1754.9h0M145.2 1758.9h0M153.1 1758.9h0M147.2 1763h0M144.5 1764.8h0M149.7 1764.9h0M187.9 1725.7h0M203.7 1734.4h0M184.1 1734.8h0M197.4 1737.1h0M185.5 1739.3h0M187.3 1740.4h0M196.8 1739.6h0M208.8 1740.9h0M168.3 1744.6h0M196.4 1745.6h0M211.8 1748.6h0M178.6 1750.7h0M196.1 1752.1h0M208.3 1753.2h0M179.4 1756.5h0M171.5 1756.7h0M168.5 1756.9h0M205.1 1759.1h0M179.4 1759.1h0M186.4 1762.3h0M197.8 1766.4h0M127.3 1768.1h0M151.8 1768.1h0M150.2 1771.5h0M147.1 1772.1h0M155.5 1774.8h0M145 1778.9h0M132.1 1788.5h0M158.3 1789.9h0M164.8 1799.8h0M147.2 1807h0M151.4 1820.5h0M163.8 1769.7h0M173.4 1774.7h0M184.3 1775.6h0M195.4 1776h0M177.1 1777.5h0M190.8 1780.4h0M185 1780.7h0M200.8 1786.4h0M188.6 1788.1h0M186.5 1789h0M175.9 1789.3h0M183 1789.5h0M187.7 1795.1h0M166 1795.9h0M175.3 1798h0" stroke="#d3d3d3" stroke-width="6.3" stroke-linecap="round" fill="none" />
<path d="M162.5 1779.2h0M150 1798.2h0M157 1795.8h0M142.1 1804.9h0M159.4 1813h0M166.3 1808.7h0" stroke="#7c5df4" stroke-width="6.3" stroke-linecap="round" fill="none" />
<path d="M141.4 1778h0M150.6 1802.5h0" stroke="#6a4cf6" stroke-width="6.3" stroke-linecap="round" fill="none" />
<path d="M144.3 1760.7h0" stroke="#b7a0e6" stroke-width="6.3" stroke-linecap="round" fill="none" />
<path d="M141.5 1736.8h0M151.1 1777h0M163.8 1795.6h0M145 1809.8h0" stroke="#9e80ee" stroke-width="6.3" stroke-linecap="round" fill="none" />
<path d="M133.3 1782.1h0M130.7 1790h0M151.5 1790.9h0M153.6 1795.3h0M146 1802h0M152.1 1816.2h0M174.4 1802.9h0" stroke="#8f6ff1" stroke-width="6.3" stroke-linecap="round" fill="none" />
<path d="M171.4 1729.9h0" stroke="#4f36f9" stroke-width="6.3" stroke-linecap="round" fill="none" />
<path d="M162.8 1738.8h0M165.7 1749.1h0M142.8 1787h0M197.5 1773h0" stroke="#aa90ea" stroke-width="6.3" stroke-linecap="round" fill="none" />
<path d="M152.7 1751.5h0M191 1723.1h0M191.3 1728.4h0M197 1733.7h0M195.1 1734.9h0M168 1736.3h0M191.2 1737.2h0M204.1 1748.1h0M186.3 1754.7h0M131.4 1769.5h0M155.9 1769.8h0M135.1 1783.6h0M146.6 1802.2h0M149.9 1805.5h0M186.5 1776.5h0M165.9 1781.6h0M202.3 1783.6h0M190.5 1788h0M167.3 1789.9h0M193.8 1793h0M173.6 1811.1h0" stroke="#d3d3d3" stroke-width="6.3" stroke-linecap="round" fill="none" />
<path d="M112.4 1713V1828.7H221.6" stroke="#000" stroke-width="1.8" fill="none" />
<line x1="136.9" y1="1828.7" x2="136.9" y2="1833.7" stroke="#000" stroke-width="1.8" />
<text x="136.9" y="1853.6" font-size="19.3" text-anchor="middle" fill="#000">−10</text>
<line x1="107.4" y1="1797.9" x2="112.4" y2="1797.9" stroke="#000" stroke-width="1.8" />
<text x="103.2" y="1804.75" font-size="19.3" text-anchor="end" fill="#000">−10</text>
<line x1="170" y1="1828.7" x2="170" y2="1833.7" stroke="#000" stroke-width="1.8" />
<text x="170" y="1853.6" font-size="19.3" text-anchor="middle" fill="#000">0</text>
<line x1="107.4" y1="1766.2" x2="112.4" y2="1766.2" stroke="#000" stroke-width="1.8" />
<text x="103.2" y="1773.05" font-size="19.3" text-anchor="end" fill="#000">0</text>
<line x1="203.1" y1="1828.7" x2="203.1" y2="1833.7" stroke="#000" stroke-width="1.8" />
<text x="203.1" y="1853.6" font-size="19.3" text-anchor="middle" fill="#000">10</text>
<line x1="107.4" y1="1734.5" x2="112.4" y2="1734.5" stroke="#000" stroke-width="1.8" />
<text x="103.2" y="1741.35" font-size="19.3" text-anchor="end" fill="#000">10</text>
<text x="166.03" y="1879.7" font-size="22.7" text-anchor="middle" fill="#000">tSNE_1</text>
<text x="57.4" y="1770.85" font-size="22.7" text-anchor="middle" fill="#000" transform="rotate(-90 57.4 1770.85)">tSNE_2</text>
<path d="M347.7 1735.8h0M346 1737.7h0M342.5 1740.8h0M361.9 1739.3h0M361.5 1741h0M368.3 1741.2h0M353.6 1742.7h0M367 1744.7h0M369.4 1744.8h0M365.6 1747.1h0M369.5 1747.8h0M342.3 1749.3h0M342.9 1749.8h0M351.1 1751.3h0M362.2 1750.5h0M360.9 1751.3h0M343.5 1753.2h0M351.1 1753.4h0M352.8 1754.9h0M354.7 1754.9h0M364.6 1754.9h0M365 1755.4h0M341.4 1756.7h0M366.9 1757.6h0M351.7 1758.6h0M356.5 1759.1h0M357.4 1759h0M344.1 1759.8h0M344.9 1759.7h0M353.4 1760h0M333.3 1761.1h0M334.9 1761.3h0M340.7 1761.6h0M338.7 1762.8h0M366.2 1762h0M362.1 1763.2h0M362 1763.8h0M359.7 1764.5h0M339.4 1765.4h0M339.2 1766.2h0M365.8 1767.2h0M363.5 1767.4h0M402.3 1729.9h0M404.7 1729.4h0M379.5 1730.4h0M396.6 1731.7h0M413.3 1736h0M388.1 1734h0M391 1735h0M391.3 1735.9h0M393.4 1733.4h0M393.3 1734.6h0M384.9 1735.4h0M376.8 1736.2h0M398.3 1737.2h0M382.4 1739.1h0M374.5 1737.9h0M387.9 1740.6h0M386.2 1742.2h0M377 1741.2h0M395.5 1741.8h0M373.2 1743.1h0M401 1743.5h0M407.2 1744.9h0M383.9 1743.9h0M383.8 1746h0M393.5 1745.9h0M387.8 1747.1h0M390.6 1748.3h0M391.3 1748.3h0M395.5 1749.8h0M380.3 1749.8h0M381 1750.3h0M396.9 1751.8h0M391.3 1752.1h0M399.9 1751.8h0M414.4 1752h0M413.6 1754.7h0M394 1754.5h0M393.2 1755.7h0M388.7 1755.6h0M378.6 1757.5h0M401.7 1757.1h0M396.2 1758.1h0M390.1 1758.6h0M407 1758.5h0M394.4 1759.7h0M400 1760h0M419.3 1759.5h0M380.7 1760.3h0M381 1762h0M387.3 1760.1h0M379 1761.8h0M408.9 1763h0M370.4 1764.9h0M387.2 1765.1h0M396.6 1765.3h0M398 1764.5h0M399.4 1764.6h0M402.3 1765.8h0M391.3 1766.8h0M348.2 1768.3h0M337.9 1768.6h0M361.9 1770.7h0M361.6 1772.1h0M364.7 1769.9h0M368.2 1770.2h0M342.9 1770.6h0M355 1771.4h0M340.3 1773.7h0M367.6 1774.1h0M352.7 1774.9h0M345.7 1775.1h0M364.9 1779.2h0M347.4 1778.8h0M352 1779.3h0M352.6 1779.3h0M324.7 1778.7h0M338.2 1779.2h0M354.6 1780.5h0M350.8 1782.3h0M354.4 1785h0M361.6 1785.9h0M339.9 1786.9h0M352.2 1787.8h0M356.1 1790.3h0M357.5 1791.4h0M343.2 1790.9h0M366.3 1793h0M341.1 1794.4h0M354.6 1795h0M348.1 1797.7h0M342.1 1799.1h0M343.2 1799.8h0M349.4 1812.4h0M384.5 1766.3h0M391.5 1767.6h0M382 1767.9h0M375 1768.4h0M373.3 1769.1h0M386.5 1769.2h0M387.6 1769.2h0M393.6 1769.9h0M403.8 1770.7h0M371.7 1771.2h0M378.6 1771h0M376.4 1771.8h0M374.4 1772.5h0M381 1772.6h0M390.3 1772.3h0M413.5 1773.3h0M415.8 1772.9h0M416.4 1773.7h0M378.4 1774.8h0M395.7 1775.1h0M383.5 1782.4h0M407.6 1781.4h0M407.5 1782.5h0M373.6 1787.3h0M372.1 1808.8h0" stroke="#d3d3d3" stroke-width="6.3" stroke-linecap="round" fill="none" />
<path d="M355.3 1789.5h0M352.4 1790.4h0M351.3 1808.3h0M375.9 1783.8h0M374.8 1787h0M388.4 1791h0M371.9 1790h0M387.9 1796.7h0M382.9 1802.3h0M384 1806.5h0" stroke="#7c5df4" stroke-width="6.3" stroke-linecap="round" fill="none" />
<path d="M357.7 1778.5h0M337.7 1780.3h0M367.9 1785.2h0M361.9 1792.4h0M345.5 1796.9h0M364.5 1801.2h0M381.6 1789.2h0M371.2 1792.7h0M388.5 1798h0M375.4 1802.3h0" stroke="#6a4cf6" stroke-width="6.3" stroke-linecap="round" fill="none" />
<path d="M362.6 1816.8h0M363.5 1816.6h0M360.1 1818.7h0M384 1802.4h0" stroke="#281bfc" stroke-width="6.3" stroke-linecap="round" fill="none" />
<path d="M360.7 1784.8h0M351.9 1787.1h0M358 1806.5h0M397.7 1779h0M397.7 1781.4h0M390.2 1783.2h0" stroke="#9e80ee" stroke-width="6.3" stroke-linecap="round" fill="none" />
<path d="M366.1 1785.4h0M342.5 1787.1h0M370.1 1791.1h0M347.1 1797.6h0M359.7 1804h0M357.9 1819h0M403 1776.8h0M375.5 1797.1h0M391.7 1798.5h0M379.5 1809.8h0" stroke="#8f6ff1" stroke-width="6.3" stroke-linecap="round" fill="none" />
<path d="M386.3 1774.7h0" stroke="#4f36f9" stroke-width="6.3" stroke-linecap="round" fill="none" />
<path d="M361.6 1787.2h0M363.8 1792.7h0M366.1 1802.2h0M372.2 1794.7h0M381.1 1795.6h0" stroke="#aa90ea" stroke-width="6.3" stroke-linecap="round" fill="none" />
<path d="M364.4 1724.4h0M367.7 1757.6h0M341.3 1761.5h0M383.4 1733.1h0M409.1 1735.9h0M387.1 1734.6h0M389.2 1733.7h0M394 1736.2h0M383.4 1737.6h0M374.6 1739.6h0M397.3 1740.1h0M399.8 1743.2h0M405.1 1743.5h0M405.1 1744.4h0M396.9 1745.3h0M379.4 1746.6h0M415.8 1750h0M404.9 1750h0M374.8 1750.5h0M387 1751.1h0M397.6 1754.7h0M380.3 1755.5h0M407.6 1755.4h0M402.3 1757.4h0M408.4 1758.2h0M397.1 1760h0M419.7 1759.7h0M386.5 1760.8h0M385.9 1761.6h0M385.3 1762.4h0M375 1761.9h0M405.5 1761.7h0M409.5 1763.3h0M384.7 1765.4h0M378.4 1764.9h0M332 1769h0M344.7 1768.2h0M342 1771.2h0M339.8 1773.2h0M363.2 1774.3h0M345.5 1776.2h0M363.1 1777.2h0M363.9 1778h0M355.1 1796.5h0M341.1 1799.3h0M362.4 1801.6h0M358.6 1804.5h0M355.2 1815.5h0M371.2 1771.8h0M390.9 1773.6h0M372.9 1774.8h0M372.7 1776h0M372.3 1777.2h0M403.3 1778.5h0M403 1779.9h0M381.3 1779h0M382.1 1782.2h0M380.3 1783.4h0M375.4 1784.8h0M372.7 1797.4h0M390.8 1798.7h0M375.8 1802.6h0M383.9 1805.7h0" stroke="#d3d3d3" stroke-width="6.3" stroke-linecap="round" fill="none" />
<path d="M318.3 1713V1828.7H427.5" stroke="#000" stroke-width="1.8" fill="none" />
<line x1="342.2" y1="1828.7" x2="342.2" y2="1833.7" stroke="#000" stroke-width="1.8" />
<text x="342.2" y="1853.6" font-size="19.3" text-anchor="middle" fill="#000">−10</text>
<line x1="313.3" y1="1797.9" x2="318.3" y2="1797.9" stroke="#000" stroke-width="1.8" />
<text x="309.1" y="1804.75" font-size="19.3" text-anchor="end" fill="#000">−10</text>
<line x1="375.3" y1="1828.7" x2="375.3" y2="1833.7" stroke="#000" stroke-width="1.8" />
<text x="375.3" y="1853.6" font-size="19.3" text-anchor="middle" fill="#000">0</text>
<line x1="313.3" y1="1766.2" x2="318.3" y2="1766.2" stroke="#000" stroke-width="1.8" />
<text x="309.1" y="1773.05" font-size="19.3" text-anchor="end" fill="#000">0</text>
<line x1="408.4" y1="1828.7" x2="408.4" y2="1833.7" stroke="#000" stroke-width="1.8" />
<text x="408.4" y="1853.6" font-size="19.3" text-anchor="middle" fill="#000">10</text>
<line x1="313.3" y1="1734.5" x2="318.3" y2="1734.5" stroke="#000" stroke-width="1.8" />
<text x="309.1" y="1741.35" font-size="19.3" text-anchor="end" fill="#000">10</text>
<text x="371.33" y="1879.7" font-size="22.7" text-anchor="middle" fill="#000">tSNE_1</text>
<text x="263.3" y="1770.85" font-size="22.7" text-anchor="middle" fill="#000" transform="rotate(-90 263.3 1770.85)">tSNE_2</text>
<path d="M604.7 1722.3h0M604.4 1723.2h0M607.8 1723.7h0M609.6 1723.6h0M609.3 1724.4h0M608.7 1724.1h0M607 1726.1h0M606.9 1727h0M606.8 1728.2h0M604.3 1727.1h0M610.4 1727.5h0M609.8 1728.4h0M610.4 1729.8h0M603.1 1730h0M606.8 1737.4h0M607.3 1737.8h0M607.9 1735h0M609.6 1743h0M611.5 1743.9h0M616.4 1747h0" stroke="#d3d3d3" stroke-width="6.3" stroke-linecap="round" fill="none" />
<path d="M536.4 1713V1828.7H645.6" stroke="#000" stroke-width="1.8" fill="none" />
<line x1="560.7" y1="1828.7" x2="560.7" y2="1833.7" stroke="#000" stroke-width="1.8" />
<text x="560.7" y="1853.6" font-size="19.3" text-anchor="middle" fill="#000">−10</text>
<line x1="531.4" y1="1797.9" x2="536.4" y2="1797.9" stroke="#000" stroke-width="1.8" />
<text x="527.2" y="1804.75" font-size="19.3" text-anchor="end" fill="#000">−10</text>
<line x1="593.8" y1="1828.7" x2="593.8" y2="1833.7" stroke="#000" stroke-width="1.8" />
<text x="593.8" y="1853.6" font-size="19.3" text-anchor="middle" fill="#000">0</text>
<line x1="531.4" y1="1766.2" x2="536.4" y2="1766.2" stroke="#000" stroke-width="1.8" />
<text x="527.2" y="1773.05" font-size="19.3" text-anchor="end" fill="#000">0</text>
<line x1="626.9" y1="1828.7" x2="626.9" y2="1833.7" stroke="#000" stroke-width="1.8" />
<text x="626.9" y="1853.6" font-size="19.3" text-anchor="middle" fill="#000">10</text>
<line x1="531.4" y1="1734.5" x2="536.4" y2="1734.5" stroke="#000" stroke-width="1.8" />
<text x="527.2" y="1741.35" font-size="19.3" text-anchor="end" fill="#000">10</text>
<text x="589.83" y="1879.7" font-size="22.7" text-anchor="middle" fill="#000">tSNE_1</text>
<text x="481.4" y="1770.85" font-size="22.7" text-anchor="middle" fill="#000" transform="rotate(-90 481.4 1770.85)">tSNE_2</text>
<path d="M824.4 1720.1h0M814 1729.6h0M811.3 1737.1h0M814 1742.6h0M818.6 1744.6h0M820.7 1748.1h0M822.4 1748.1h0M788.3 1810h0" stroke="#d3d3d3" stroke-width="6.3" stroke-linecap="round" fill="none" />
<path d="M824.7 1719.9h0" stroke="#9e80ee" stroke-width="6.3" stroke-linecap="round" fill="none" />
<path d="M742.3 1713V1828.7H851.5" stroke="#000" stroke-width="1.8" fill="none" />
<line x1="765.9" y1="1828.7" x2="765.9" y2="1833.7" stroke="#000" stroke-width="1.8" />
<text x="765.9" y="1853.6" font-size="19.3" text-anchor="middle" fill="#000">−10</text>
<line x1="737.3" y1="1797.9" x2="742.3" y2="1797.9" stroke="#000" stroke-width="1.8" />
<text x="733.1" y="1804.75" font-size="19.3" text-anchor="end" fill="#000">−10</text>
<line x1="799" y1="1828.7" x2="799" y2="1833.7" stroke="#000" stroke-width="1.8" />
<text x="799" y="1853.6" font-size="19.3" text-anchor="middle" fill="#000">0</text>
<line x1="737.3" y1="1766.2" x2="742.3" y2="1766.2" stroke="#000" stroke-width="1.8" />
<text x="733.1" y="1773.05" font-size="19.3" text-anchor="end" fill="#000">0</text>
<line x1="832.1" y1="1828.7" x2="832.1" y2="1833.7" stroke="#000" stroke-width="1.8" />
<text x="832.1" y="1853.6" font-size="19.3" text-anchor="middle" fill="#000">10</text>
<line x1="737.3" y1="1734.5" x2="742.3" y2="1734.5" stroke="#000" stroke-width="1.8" />
<text x="733.1" y="1741.35" font-size="19.3" text-anchor="end" fill="#000">10</text>
<text x="795.03" y="1879.7" font-size="22.7" text-anchor="middle" fill="#000">tSNE_1</text>
<text x="687.3" y="1770.85" font-size="22.7" text-anchor="middle" fill="#000" transform="rotate(-90 687.3 1770.85)">tSNE_2</text>
<text x="855.8" y="1770.85" font-size="22.8" text-anchor="middle" font-weight="bold" fill="#000" transform="rotate(90 855.8 1770.85)">SCD</text>
<path d="M158.4 1918.4h0M149.7 1947.7h0M187.9 1908.5h0M203.7 1917.2h0M184.1 1917.6h0M197.4 1919.9h0M185.5 1922.1h0M187.3 1923.2h0M196.8 1922.4h0M196.4 1928.4h0M196.1 1934.9h0M208.3 1936h0M168.5 1939.7h0M197.8 1949.2h0M151.1 1959.8h0M157 1978.6h0M145 1992.6h0M173.4 1957.5h0M195.4 1958.8h0M190.8 1963.2h0M186.5 1971.8h0M183 1972.3h0" stroke="#d3d3d3" stroke-width="6.3" stroke-linecap="round" fill="none" />
<path d="M191.3 1911.2h0M208.8 1923.7h0M168.3 1927.4h0M211.8 1931.4h0M178.6 1933.5h0M186.3 1937.5h0M179.4 1941.9h0M145 1961.7h0M167.3 1972.7h0" stroke="#7c5df4" stroke-width="6.3" stroke-linecap="round" fill="none" />
<path d="M186.4 1945.1h0M175.3 1980.8h0" stroke="#281bfc" stroke-width="6.3" stroke-linecap="round" fill="none" />
<path d="M146.4 1933.2h0M145.2 1941.7h0M171.5 1939.5h0M205.1 1941.9h0M151.8 1950.9h0M147.1 1954.9h0M141.4 1960.8h0M132.1 1971.3h0M130.7 1972.8h0M151.5 1973.7h0M153.6 1978.1h0M164.8 1982.6h0M146.6 1985h0M147.2 1989.8h0M152.1 1999h0M151.4 2003.3h0M184.3 1958.4h0M200.8 1969.2h0M188.6 1970.9h0M187.7 1977.9h0M166 1978.7h0M173.6 1993.9h0" stroke="#9e80ee" stroke-width="6.3" stroke-linecap="round" fill="none" />
<path d="M150.5 1927.2h0M142.5 1937.7h0M153.1 1941.7h0M144.3 1943.5h0M147.2 1945.8h0M171.4 1912.7h0M197 1916.5h0M168 1919.1h0M191.2 1920h0M204.1 1930.9h0M127.3 1950.9h0M131.4 1952.3h0M155.9 1952.6h0M150.2 1954.3h0M162.5 1962h0M135.1 1966.4h0M150 1981h0M146 1984.8h0M142.1 1987.7h0M197.5 1955.8h0M177.1 1960.3h0M185 1963.5h0M175.9 1972.1h0M174.4 1985.7h0M166.3 1991.5h0" stroke="#8f6ff1" stroke-width="6.3" stroke-linecap="round" fill="none" />
<path d="M141.5 1919.6h0M162.8 1921.6h0M152.7 1934.3h0M144.5 1947.6h0M165.7 1931.9h0M179.4 1939.3h0M155.5 1957.6h0M133.3 1964.9h0M142.8 1969.8h0M158.3 1972.7h0M163.8 1978.4h0M150.6 1985.3h0M163.8 1952.5h0M186.5 1959.3h0" stroke="#aa90ea" stroke-width="6.3" stroke-linecap="round" fill="none" />
<path d="M191 1905.9h0M195.1 1917.7h0M149.9 1988.3h0M159.4 1995.8h0M165.9 1964.4h0M202.3 1966.4h0M190.5 1970.8h0M193.8 1975.8h0" stroke="#d3d3d3" stroke-width="6.3" stroke-linecap="round" fill="none" />
<path d="M112.4 1895.8V2011.5H221.6" stroke="#000" stroke-width="1.8" fill="none" />
<line x1="136.9" y1="2011.5" x2="136.9" y2="2016.5" stroke="#000" stroke-width="1.8" />
<text x="136.9" y="2036.4" font-size="19.3" text-anchor="middle" fill="#000">−10</text>
<line x1="107.4" y1="1980.7" x2="112.4" y2="1980.7" stroke="#000" stroke-width="1.8" />
<text x="103.2" y="1987.55" font-size="19.3" text-anchor="end" fill="#000">−10</text>
<line x1="170" y1="2011.5" x2="170" y2="2016.5" stroke="#000" stroke-width="1.8" />
<text x="170" y="2036.4" font-size="19.3" text-anchor="middle" fill="#000">0</text>
<line x1="107.4" y1="1949" x2="112.4" y2="1949" stroke="#000" stroke-width="1.8" />
<text x="103.2" y="1955.85" font-size="19.3" text-anchor="end" fill="#000">0</text>
<line x1="203.1" y1="2011.5" x2="203.1" y2="2016.5" stroke="#000" stroke-width="1.8" />
<text x="203.1" y="2036.4" font-size="19.3" text-anchor="middle" fill="#000">10</text>
<line x1="107.4" y1="1917.3" x2="112.4" y2="1917.3" stroke="#000" stroke-width="1.8" />
<text x="103.2" y="1924.15" font-size="19.3" text-anchor="end" fill="#000">10</text>
<text x="166.03" y="2062.5" font-size="22.7" text-anchor="middle" fill="#000">tSNE_1</text>
<text x="57.4" y="1953.65" font-size="22.7" text-anchor="middle" fill="#000" transform="rotate(-90 57.4 1953.65)">tSNE_2</text>
<path d="M346 1920.5h0M361.9 1922.1h0M361.5 1923.8h0M353.6 1925.5h0M369.5 1930.6h0M342.3 1932.1h0M342.9 1932.6h0M351.1 1934.1h0M343.5 1936h0M354.7 1937.7h0M365 1938.2h0M366.9 1940.4h0M344.9 1942.5h0M340.7 1944.4h0M359.7 1947.3h0M339.2 1949h0M402.3 1912.7h0M379.5 1913.2h0M396.6 1914.5h0M413.3 1918.8h0M391 1917.8h0M391.3 1918.7h0M393.4 1916.2h0M393.3 1917.4h0M384.9 1918.2h0M376.8 1919h0M382.4 1921.9h0M387.9 1923.4h0M386.2 1925h0M395.5 1924.6h0M401 1926.3h0M407.2 1927.7h0M383.9 1926.7h0M383.8 1928.8h0M387.8 1929.9h0M390.6 1931.1h0M391.3 1931.1h0M395.5 1932.6h0M391.3 1934.9h0M414.4 1934.8h0M394 1937.3h0M393.2 1938.5h0M388.7 1938.4h0M396.2 1940.9h0M400 1942.8h0M387.3 1942.9h0M408.9 1945.8h0M402.3 1948.6h0M345.7 1957.9h0M366.1 1968.2h0M351.9 1969.9h0M352.2 1970.6h0M355.3 1972.3h0M366.3 1975.8h0M345.5 1979.7h0M343.2 1982.6h0M366.1 1985h0M363.5 1999.4h0M391.5 1950.4h0M375 1951.2h0M393.6 1952.7h0M403.8 1953.5h0M413.5 1956.1h0M415.8 1955.7h0M416.4 1956.5h0M386.3 1957.5h0M407.6 1964.2h0M407.5 1965.3h0M381.1 1978.4h0M387.9 1979.5h0M391.7 1981.3h0" stroke="#d3d3d3" stroke-width="6.3" stroke-linecap="round" fill="none" />
<path d="M364.4 1907.2h0M369.4 1927.6h0M366.2 1944.8h0M339.4 1948.2h0M404.7 1912.2h0M398.3 1920h0M374.5 1920.7h0M373.2 1925.9h0M339.9 1969.7h0M342.5 1969.9h0M356.1 1973.1h0M355.1 1979.3h0M348.1 1980.5h0M382 1950.7h0M373.3 1951.9h0M372.3 1960h0M384 1985.2h0M379.5 1992.6h0" stroke="#7c5df4" stroke-width="6.3" stroke-linecap="round" fill="none" />
<path d="M351.3 1991.1h0" stroke="#281bfc" stroke-width="6.3" stroke-linecap="round" fill="none" />
<path d="M368.3 1924h0M367 1927.5h0M365.6 1929.9h0M362.2 1933.3h0M360.9 1934.1h0M367.7 1940.4h0M351.7 1941.4h0M356.5 1941.9h0M357.4 1941.8h0M333.3 1943.9h0M334.9 1944.1h0M338.7 1945.6h0M388.1 1916.8h0M379.4 1929.4h0M380.3 1932.6h0M397.6 1937.5h0M401.7 1939.9h0M419.7 1942.5h0M375 1944.7h0M379 1944.6h0M396.6 1948.1h0M348.2 1951.1h0M337.9 1951.4h0M339.8 1956h0M352.6 1962.1h0M337.7 1963.1h0M354.4 1967.8h0M360.7 1967.6h0M367.9 1968h0M357.5 1974.2h0M342.1 1981.9h0M358 1989.3h0M355.2 1998.3h0M357.9 2001.8h0M384.5 1949.1h0M386.5 1952h0M371.7 1954h0M390.3 1955.1h0M390.9 1956.4h0M372.9 1957.6h0M395.7 1957.9h0M403 1962.7h0M390.2 1966h0M374.8 1969.8h0M381.6 1972h0M375.5 1979.9h0M388.5 1980.8h0M390.8 1981.5h0M382.9 1985.1h0M384 1989.3h0" stroke="#9e80ee" stroke-width="6.3" stroke-linecap="round" fill="none" />
<path d="M347.7 1918.6h0M342.5 1923.6h0M351.1 1936.2h0M364.6 1937.7h0M341.4 1939.5h0M344.1 1942.6h0M353.4 1942.8h0M362.1 1946h0M377 1924h0M396.9 1934.6h0M380.3 1938.3h0M394.4 1942.5h0M419.3 1942.3h0M380.7 1943.1h0M381 1944.8h0M387.2 1947.9h0M391.3 1949.6h0M364.7 1952.7h0M342.9 1953.4h0M342 1954h0M355 1954.2h0M340.3 1956.5h0M357.7 1961.3h0M347.4 1961.6h0M352 1962.1h0M324.7 1961.5h0M338.2 1962h0M354.6 1963.3h0M350.8 1965.1h0M361.6 1970h0M361.9 1975.2h0M363.8 1975.5h0M354.6 1977.8h0M347.1 1980.4h0M349.4 1995.2h0M360.1 2001.5h0M387.6 1952h0M376.4 1954.6h0M374.4 1955.3h0M381 1955.4h0M381.3 1961.8h0M397.7 1964.2h0M383.5 1965.2h0M372.2 1977.5h0M375.4 1985.1h0M372.1 1991.6h0" stroke="#8f6ff1" stroke-width="6.3" stroke-linecap="round" fill="none" />
<path d="M341.1 1977.2h0" stroke="#0000ff" stroke-width="6.3" stroke-linecap="round" fill="none" />
<path d="M352.8 1937.7h0M341.3 1944.3h0M362 1946.6h0M365.8 1950h0M363.5 1950.2h0M383.4 1915.9h0M374.6 1922.4h0M399.8 1926h0M393.5 1928.7h0M381 1933.1h0M399.9 1934.6h0M413.6 1937.5h0M378.6 1940.3h0M390.1 1941.4h0M407 1941.3h0M370.4 1947.7h0M398 1947.3h0M399.4 1947.4h0M344.7 1951h0M361.9 1953.5h0M361.6 1954.9h0M368.2 1953h0M367.6 1956.9h0M352.7 1957.7h0M345.5 1959h0M363.1 1960h0M364.9 1962h0M361.6 1968.7h0M352.4 1973.2h0M343.2 1973.7h0M370.1 1973.9h0M341.1 1982.1h0M364.5 1984h0M358.6 1987.3h0M362.6 1999.6h0M378.6 1953.8h0M378.4 1957.6h0M372.7 1958.8h0M403 1959.6h0M373.6 1970.1h0M371.9 1972.8h0M371.2 1975.5h0M375.8 1985.4h0" stroke="#aa90ea" stroke-width="6.3" stroke-linecap="round" fill="none" />
<path d="M409.1 1918.7h0M387.1 1917.4h0M389.2 1916.5h0M394 1919h0M383.4 1920.4h0M397.3 1922.9h0M405.1 1926.3h0M405.1 1927.2h0M396.9 1928.1h0M415.8 1932.8h0M404.9 1932.8h0M374.8 1933.3h0M387 1933.9h0M407.6 1938.2h0M402.3 1940.2h0M408.4 1941h0M397.1 1942.8h0M386.5 1943.6h0M385.9 1944.4h0M385.3 1945.2h0M405.5 1944.5h0M409.5 1946.1h0M384.7 1948.2h0M378.4 1947.7h0M332 1951.8h0M363.2 1957.1h0M363.9 1960.8h0M362.4 1984.4h0M359.7 1986.8h0M371.2 1954.6h0M403.3 1961.3h0M397.7 1961.8h0M382.1 1965h0M380.3 1966.2h0M375.9 1966.6h0M375.4 1967.6h0M388.4 1973.8h0M372.7 1980.2h0M383.9 1988.5h0" stroke="#d3d3d3" stroke-width="6.3" stroke-linecap="round" fill="none" />
<path d="M318.3 1895.8V2011.5H427.5" stroke="#000" stroke-width="1.8" fill="none" />
<line x1="342.2" y1="2011.5" x2="342.2" y2="2016.5" stroke="#000" stroke-width="1.8" />
<text x="342.2" y="2036.4" font-size="19.3" text-anchor="middle" fill="#000">−10</text>
<line x1="313.3" y1="1980.7" x2="318.3" y2="1980.7" stroke="#000" stroke-width="1.8" />
<text x="309.1" y="1987.55" font-size="19.3" text-anchor="end" fill="#000">−10</text>
<line x1="375.3" y1="2011.5" x2="375.3" y2="2016.5" stroke="#000" stroke-width="1.8" />
<text x="375.3" y="2036.4" font-size="19.3" text-anchor="middle" fill="#000">0</text>
<line x1="313.3" y1="1949" x2="318.3" y2="1949" stroke="#000" stroke-width="1.8" />
<text x="309.1" y="1955.85" font-size="19.3" text-anchor="end" fill="#000">0</text>
<line x1="408.4" y1="2011.5" x2="408.4" y2="2016.5" stroke="#000" stroke-width="1.8" />
<text x="408.4" y="2036.4" font-size="19.3" text-anchor="middle" fill="#000">10</text>
<line x1="313.3" y1="1917.3" x2="318.3" y2="1917.3" stroke="#000" stroke-width="1.8" />
<text x="309.1" y="1924.15" font-size="19.3" text-anchor="end" fill="#000">10</text>
<text x="371.33" y="2062.5" font-size="22.7" text-anchor="middle" fill="#000">tSNE_1</text>
<text x="263.3" y="1953.65" font-size="22.7" text-anchor="middle" fill="#000" transform="rotate(-90 263.3 1953.65)">tSNE_2</text>
<path d="M604.7 1905.1h0M604.4 1906h0M607.8 1906.5h0M609.6 1906.4h0M609.3 1907.2h0M608.7 1906.9h0M607 1908.9h0M606.9 1909.8h0M606.8 1911h0M604.3 1909.9h0M610.4 1910.3h0M609.8 1911.2h0M603.1 1912.8h0M606.8 1920.2h0M607.3 1920.6h0M607.9 1917.8h0M609.6 1925.8h0M611.5 1926.7h0M616.4 1929.8h0" stroke="#d3d3d3" stroke-width="6.3" stroke-linecap="round" fill="none" />
<path d="M610.4 1912.6h0" stroke="#4f36f9" stroke-width="6.3" stroke-linecap="round" fill="none" />
<path d="M536.4 1895.8V2011.5H645.6" stroke="#000" stroke-width="1.8" fill="none" />
<line x1="560.7" y1="2011.5" x2="560.7" y2="2016.5" stroke="#000" stroke-width="1.8" />
<text x="560.7" y="2036.4" font-size="19.3" text-anchor="middle" fill="#000">−10</text>
<line x1="531.4" y1="1980.7" x2="536.4" y2="1980.7" stroke="#000" stroke-width="1.8" />
<text x="527.2" y="1987.55" font-size="19.3" text-anchor="end" fill="#000">−10</text>
<line x1="593.8" y1="2011.5" x2="593.8" y2="2016.5" stroke="#000" stroke-width="1.8" />
<text x="593.8" y="2036.4" font-size="19.3" text-anchor="middle" fill="#000">0</text>
<line x1="531.4" y1="1949" x2="536.4" y2="1949" stroke="#000" stroke-width="1.8" />
<text x="527.2" y="1955.85" font-size="19.3" text-anchor="end" fill="#000">0</text>
<line x1="626.9" y1="2011.5" x2="626.9" y2="2016.5" stroke="#000" stroke-width="1.8" />
<text x="626.9" y="2036.4" font-size="19.3" text-anchor="middle" fill="#000">10</text>
<line x1="531.4" y1="1917.3" x2="536.4" y2="1917.3" stroke="#000" stroke-width="1.8" />
<text x="527.2" y="1924.15" font-size="19.3" text-anchor="end" fill="#000">10</text>
<text x="589.83" y="2062.5" font-size="22.7" text-anchor="middle" fill="#000">tSNE_1</text>
<text x="481.4" y="1953.65" font-size="22.7" text-anchor="middle" fill="#000" transform="rotate(-90 481.4 1953.65)">tSNE_2</text>
<path d="M824.4 1902.9h0M814 1912.4h0M811.3 1919.9h0M814 1925.4h0M818.6 1927.4h0M820.7 1930.9h0M822.4 1930.9h0" stroke="#d3d3d3" stroke-width="6.3" stroke-linecap="round" fill="none" />
<path d="M788.3 1992.8h0" stroke="#7c5df4" stroke-width="6.3" stroke-linecap="round" fill="none" />
<path d="M824.7 1902.7h0" stroke="#9e80ee" stroke-width="6.3" stroke-linecap="round" fill="none" />
<path d="M742.3 1895.8V2011.5H851.5" stroke="#000" stroke-width="1.8" fill="none" />
<line x1="765.9" y1="2011.5" x2="765.9" y2="2016.5" stroke="#000" stroke-width="1.8" />
<text x="765.9" y="2036.4" font-size="19.3" text-anchor="middle" fill="#000">−10</text>
<line x1="737.3" y1="1980.7" x2="742.3" y2="1980.7" stroke="#000" stroke-width="1.8" />
<text x="733.1" y="1987.55" font-size="19.3" text-anchor="end" fill="#000">−10</text>
<line x1="799" y1="2011.5" x2="799" y2="2016.5" stroke="#000" stroke-width="1.8" />
<text x="799" y="2036.4" font-size="19.3" text-anchor="middle" fill="#000">0</text>
<line x1="737.3" y1="1949" x2="742.3" y2="1949" stroke="#000" stroke-width="1.8" />
<text x="733.1" y="1955.85" font-size="19.3" text-anchor="end" fill="#000">0</text>
<line x1="832.1" y1="2011.5" x2="832.1" y2="2016.5" stroke="#000" stroke-width="1.8" />
<text x="832.1" y="2036.4" font-size="19.3" text-anchor="middle" fill="#000">10</text>
<line x1="737.3" y1="1917.3" x2="742.3" y2="1917.3" stroke="#000" stroke-width="1.8" />
<text x="733.1" y="1924.15" font-size="19.3" text-anchor="end" fill="#000">10</text>
<text x="795.03" y="2062.5" font-size="22.7" text-anchor="middle" fill="#000">tSNE_1</text>
<text x="687.3" y="1953.65" font-size="22.7" text-anchor="middle" fill="#000" transform="rotate(-90 687.3 1953.65)">tSNE_2</text>
<text x="855.8" y="1953.65" font-size="22.8" text-anchor="middle" font-weight="bold" fill="#000" transform="rotate(90 855.8 1953.65)">LPL</text>
<path d="M158.4 2101.2h0M141.5 2102.4h0M162.8 2104.4h0M150.5 2110h0M146.4 2116h0M152.7 2117.1h0M142.5 2120.5h0M145.2 2124.5h0M153.1 2124.5h0M144.3 2126.3h0M147.2 2128.6h0M144.5 2130.4h0M149.7 2130.5h0M191 2088.7h0M187.9 2091.3h0M171.4 2095.5h0M191.3 2094h0M197 2099.3h0M195.1 2100.5h0M203.7 2100h0M184.1 2100.4h0M168 2101.9h0M191.2 2102.8h0M197.4 2102.7h0M185.5 2104.9h0M187.3 2106h0M196.8 2105.2h0M208.8 2106.5h0M168.3 2110.2h0M196.4 2111.2h0M165.7 2114.7h0M204.1 2113.7h0M211.8 2114.2h0M178.6 2116.3h0M196.1 2117.7h0M208.3 2118.8h0M186.3 2120.3h0M179.4 2122.1h0M171.5 2122.3h0M168.5 2122.5h0M205.1 2124.7h0M179.4 2124.7h0M186.4 2127.9h0M197.8 2132h0M127.3 2133.7h0M151.8 2133.7h0M131.4 2135.1h0M155.9 2135.4h0M147.1 2137.7h0M155.5 2140.4h0M151.1 2142.6h0M162.5 2144.8h0M141.4 2143.6h0M145 2144.5h0M133.3 2147.7h0M135.1 2149.2h0M142.8 2152.6h0M132.1 2154.1h0M130.7 2155.6h0M151.5 2156.5h0M158.3 2155.5h0M150 2163.8h0M153.6 2160.9h0M157 2161.4h0M163.8 2161.2h0M164.8 2165.4h0M146 2167.6h0M146.6 2167.8h0M150.6 2168.1h0M142.1 2170.5h0M149.9 2171.1h0M147.2 2172.6h0M145 2175.4h0M159.4 2178.6h0M152.1 2181.8h0M151.4 2186.1h0M163.8 2135.3h0M197.5 2138.6h0M173.4 2140.3h0M184.3 2141.2h0M186.5 2142.1h0M195.4 2141.6h0M177.1 2143.1h0M190.8 2146h0M185 2146.3h0M165.9 2147.2h0M202.3 2149.2h0M200.8 2152h0M188.6 2153.7h0M190.5 2153.6h0M186.5 2154.6h0M175.9 2154.9h0M183 2155.1h0M167.3 2155.5h0M193.8 2158.6h0M187.7 2160.7h0M166 2161.5h0M175.3 2163.6h0M174.4 2168.5h0M166.3 2174.3h0M173.6 2176.7h0" stroke="#d3d3d3" stroke-width="6.3" stroke-linecap="round" fill="none" />
<path d="M150.2 2137.1h0" stroke="#b7a0e6" stroke-width="6.3" stroke-linecap="round" fill="none" />
<path d="M112.4 2078.6V2194.3H221.6" stroke="#000" stroke-width="1.8" fill="none" />
<line x1="136.9" y1="2194.3" x2="136.9" y2="2199.3" stroke="#000" stroke-width="1.8" />
<text x="136.9" y="2219.2" font-size="19.3" text-anchor="middle" fill="#000">−10</text>
<line x1="107.4" y1="2163.5" x2="112.4" y2="2163.5" stroke="#000" stroke-width="1.8" />
<text x="103.2" y="2170.35" font-size="19.3" text-anchor="end" fill="#000">−10</text>
<line x1="170" y1="2194.3" x2="170" y2="2199.3" stroke="#000" stroke-width="1.8" />
<text x="170" y="2219.2" font-size="19.3" text-anchor="middle" fill="#000">0</text>
<line x1="107.4" y1="2131.8" x2="112.4" y2="2131.8" stroke="#000" stroke-width="1.8" />
<text x="103.2" y="2138.65" font-size="19.3" text-anchor="end" fill="#000">0</text>
<line x1="203.1" y1="2194.3" x2="203.1" y2="2199.3" stroke="#000" stroke-width="1.8" />
<text x="203.1" y="2219.2" font-size="19.3" text-anchor="middle" fill="#000">10</text>
<line x1="107.4" y1="2100.1" x2="112.4" y2="2100.1" stroke="#000" stroke-width="1.8" />
<text x="103.2" y="2106.95" font-size="19.3" text-anchor="end" fill="#000">10</text>
<text x="166.03" y="2245.3" font-size="22.7" text-anchor="middle" fill="#000">tSNE_1</text>
<text x="57.4" y="2136.45" font-size="22.7" text-anchor="middle" fill="#000" transform="rotate(-90 57.4 2136.45)">tSNE_2</text>
<path d="M364.4 2090h0M347.7 2101.4h0M346 2103.3h0M342.5 2106.4h0M361.9 2104.9h0M361.5 2106.6h0M368.3 2106.8h0M353.6 2108.3h0M367 2110.3h0M369.4 2110.4h0M365.6 2112.7h0M369.5 2113.4h0M342.3 2114.9h0M342.9 2115.4h0M351.1 2116.9h0M362.2 2116.1h0M360.9 2116.9h0M343.5 2118.8h0M351.1 2119h0M352.8 2120.5h0M354.7 2120.5h0M364.6 2120.5h0M365 2121h0M341.4 2122.3h0M366.9 2123.2h0M367.7 2123.2h0M351.7 2124.2h0M356.5 2124.7h0M357.4 2124.6h0M344.1 2125.4h0M344.9 2125.3h0M353.4 2125.6h0M333.3 2126.7h0M334.9 2126.9h0M340.7 2127.2h0M341.3 2127.1h0M338.7 2128.4h0M366.2 2127.6h0M362.1 2128.8h0M362 2129.4h0M359.7 2130.1h0M339.4 2131h0M339.2 2131.8h0M365.8 2132.8h0M363.5 2133h0M402.3 2095.5h0M404.7 2095h0M379.5 2096h0M396.6 2097.3h0M383.4 2098.7h0M409.1 2101.5h0M413.3 2101.6h0M387.1 2100.2h0M388.1 2099.6h0M389.2 2099.3h0M391 2100.6h0M391.3 2101.5h0M393.4 2099h0M393.3 2100.2h0M394 2101.8h0M384.9 2101h0M376.8 2101.8h0M398.3 2102.8h0M383.4 2103.2h0M382.4 2104.7h0M374.5 2103.5h0M374.6 2105.2h0M397.3 2105.7h0M387.9 2106.2h0M386.2 2107.8h0M377 2106.8h0M395.5 2107.4h0M373.2 2108.7h0M399.8 2108.8h0M401 2109.1h0M405.1 2109.1h0M405.1 2110h0M407.2 2110.5h0M383.9 2109.5h0M383.8 2111.6h0M396.9 2110.9h0M393.5 2111.5h0M379.4 2112.2h0M387.8 2112.7h0M390.6 2113.9h0M391.3 2113.9h0M415.8 2115.6h0M395.5 2115.4h0M404.9 2115.6h0M374.8 2116.1h0M380.3 2115.4h0M381 2115.9h0M387 2116.7h0M396.9 2117.4h0M391.3 2117.7h0M399.9 2117.4h0M414.4 2117.6h0M413.6 2120.3h0M394 2120.1h0M393.2 2121.3h0M397.6 2120.3h0M388.7 2121.2h0M380.3 2121.1h0M407.6 2121h0M378.6 2123.1h0M401.7 2122.7h0M402.3 2123h0M396.2 2123.7h0M390.1 2124.2h0M407 2124.1h0M408.4 2123.8h0M394.4 2125.3h0M397.1 2125.6h0M400 2125.6h0M419.3 2125.1h0M419.7 2125.3h0M380.7 2125.9h0M381 2127.6h0M387.3 2125.7h0M386.5 2126.4h0M385.9 2127.2h0M385.3 2128h0M375 2127.5h0M379 2127.4h0M405.5 2127.3h0M408.9 2128.6h0M409.5 2128.9h0M370.4 2130.5h0M384.7 2131h0M387.2 2130.7h0M396.6 2130.9h0M398 2130.1h0M399.4 2130.2h0M402.3 2131.4h0M391.3 2132.4h0M378.4 2130.5h0M332 2134.6h0M344.7 2133.8h0M348.2 2133.9h0M337.9 2134.2h0M361.9 2136.3h0M361.6 2137.7h0M364.7 2135.5h0M368.2 2135.8h0M342.9 2136.2h0M342 2136.8h0M355 2137h0M339.8 2138.8h0M340.3 2139.3h0M363.2 2139.9h0M367.6 2139.7h0M352.7 2140.5h0M345.7 2140.7h0M345.5 2141.8h0M357.7 2144.1h0M363.1 2142.8h0M363.9 2143.6h0M364.9 2144.8h0M347.4 2144.4h0M352 2144.9h0M352.6 2144.9h0M324.7 2144.3h0M338.2 2144.8h0M337.7 2145.9h0M354.6 2146.1h0M350.8 2147.9h0M354.4 2150.6h0M360.7 2150.4h0M361.6 2151.5h0M361.6 2152.8h0M366.1 2151h0M367.9 2150.8h0M339.9 2152.5h0M342.5 2152.7h0M351.9 2152.7h0M352.2 2153.4h0M355.3 2155.1h0M356.1 2155.9h0M357.5 2157h0M352.4 2156h0M343.2 2156.5h0M361.9 2158h0M363.8 2158.3h0M366.3 2158.6h0M370.1 2156.7h0M341.1 2160h0M354.6 2160.6h0M355.1 2162.1h0M345.5 2162.5h0M347.1 2163.2h0M348.1 2163.3h0M341.1 2164.9h0M343.2 2165.4h0M364.5 2166.8h0M362.4 2167.2h0M366.1 2167.8h0M359.7 2169.6h0M358.6 2170.1h0M358 2172.1h0M351.3 2173.9h0M349.4 2178h0M355.2 2181.1h0M362.6 2182.4h0M363.5 2182.2h0M357.9 2184.6h0M360.1 2184.3h0M384.5 2131.9h0M391.5 2133.2h0M382 2133.5h0M375 2134h0M373.3 2134.7h0M386.5 2134.8h0M387.6 2134.8h0M393.6 2135.5h0M403.8 2136.3h0M371.7 2136.8h0M371.2 2137.4h0M378.6 2136.6h0M376.4 2137.4h0M374.4 2138.1h0M381 2138.2h0M390.3 2137.9h0M390.9 2139.2h0M413.5 2138.9h0M415.8 2138.5h0M416.4 2139.3h0M386.3 2140.3h0M378.4 2140.4h0M372.9 2140.4h0M372.7 2141.6h0M372.3 2142.8h0M395.7 2140.7h0M403 2142.4h0M403.3 2144.1h0M403 2145.5h0M381.3 2144.6h0M397.7 2144.6h0M397.7 2147h0M390.2 2148.8h0M382.1 2147.8h0M383.5 2148h0M380.3 2149h0M407.6 2147h0M407.5 2148.1h0M375.9 2149.4h0M375.4 2150.4h0M373.6 2152.9h0M374.8 2152.6h0M381.6 2154.8h0M388.4 2156.6h0M371.9 2155.6h0M371.2 2158.3h0M372.2 2160.3h0M381.1 2161.2h0M372.7 2163h0M375.5 2162.7h0M387.9 2162.3h0M388.5 2163.6h0M390.8 2164.3h0M391.7 2164.1h0M375.4 2167.9h0M375.8 2168.2h0M382.9 2167.9h0M384 2168h0M383.9 2171.3h0M384 2172.1h0M372.1 2174.4h0M379.5 2175.4h0" stroke="#d3d3d3" stroke-width="6.3" stroke-linecap="round" fill="none" />
<path d="M342.1 2164.7h0" stroke="#0000ff" stroke-width="6.3" stroke-linecap="round" fill="none" />
<path d="M318.3 2078.6V2194.3H427.5" stroke="#000" stroke-width="1.8" fill="none" />
<line x1="342.2" y1="2194.3" x2="342.2" y2="2199.3" stroke="#000" stroke-width="1.8" />
<text x="342.2" y="2219.2" font-size="19.3" text-anchor="middle" fill="#000">−10</text>
<line x1="313.3" y1="2163.5" x2="318.3" y2="2163.5" stroke="#000" stroke-width="1.8" />
<text x="309.1" y="2170.35" font-size="19.3" text-anchor="end" fill="#000">−10</text>
<line x1="375.3" y1="2194.3" x2="375.3" y2="2199.3" stroke="#000" stroke-width="1.8" />
<text x="375.3" y="2219.2" font-size="19.3" text-anchor="middle" fill="#000">0</text>
<line x1="313.3" y1="2131.8" x2="318.3" y2="2131.8" stroke="#000" stroke-width="1.8" />
<text x="309.1" y="2138.65" font-size="19.3" text-anchor="end" fill="#000">0</text>
<line x1="408.4" y1="2194.3" x2="408.4" y2="2199.3" stroke="#000" stroke-width="1.8" />
<text x="408.4" y="2219.2" font-size="19.3" text-anchor="middle" fill="#000">10</text>
<line x1="313.3" y1="2100.1" x2="318.3" y2="2100.1" stroke="#000" stroke-width="1.8" />
<text x="309.1" y="2106.95" font-size="19.3" text-anchor="end" fill="#000">10</text>
<text x="371.33" y="2245.3" font-size="22.7" text-anchor="middle" fill="#000">tSNE_1</text>
<text x="263.3" y="2136.45" font-size="22.7" text-anchor="middle" fill="#000" transform="rotate(-90 263.3 2136.45)">tSNE_2</text>
<path d="M604.7 2087.9h0M604.4 2088.8h0M607.8 2089.3h0M609.6 2089.2h0M609.3 2090h0M608.7 2089.7h0M607 2091.7h0M606.9 2092.6h0M606.8 2093.8h0M604.3 2092.7h0M610.4 2093.1h0M609.8 2094h0M610.4 2095.4h0M603.1 2095.6h0M606.8 2103h0M607.3 2103.4h0M607.9 2100.6h0M609.6 2108.6h0M611.5 2109.5h0M616.4 2112.6h0" stroke="#d3d3d3" stroke-width="6.3" stroke-linecap="round" fill="none" />
<path d="M536.4 2078.6V2194.3H645.6" stroke="#000" stroke-width="1.8" fill="none" />
<line x1="560.7" y1="2194.3" x2="560.7" y2="2199.3" stroke="#000" stroke-width="1.8" />
<text x="560.7" y="2219.2" font-size="19.3" text-anchor="middle" fill="#000">−10</text>
<line x1="531.4" y1="2163.5" x2="536.4" y2="2163.5" stroke="#000" stroke-width="1.8" />
<text x="527.2" y="2170.35" font-size="19.3" text-anchor="end" fill="#000">−10</text>
<line x1="593.8" y1="2194.3" x2="593.8" y2="2199.3" stroke="#000" stroke-width="1.8" />
<text x="593.8" y="2219.2" font-size="19.3" text-anchor="middle" fill="#000">0</text>
<line x1="531.4" y1="2131.8" x2="536.4" y2="2131.8" stroke="#000" stroke-width="1.8" />
<text x="527.2" y="2138.65" font-size="19.3" text-anchor="end" fill="#000">0</text>
<line x1="626.9" y1="2194.3" x2="626.9" y2="2199.3" stroke="#000" stroke-width="1.8" />
<text x="626.9" y="2219.2" font-size="19.3" text-anchor="middle" fill="#000">10</text>
<line x1="531.4" y1="2100.1" x2="536.4" y2="2100.1" stroke="#000" stroke-width="1.8" />
<text x="527.2" y="2106.95" font-size="19.3" text-anchor="end" fill="#000">10</text>
<text x="589.83" y="2245.3" font-size="22.7" text-anchor="middle" fill="#000">tSNE_1</text>
<text x="481.4" y="2136.45" font-size="22.7" text-anchor="middle" fill="#000" transform="rotate(-90 481.4 2136.45)">tSNE_2</text>
<path d="M824.7 2085.5h0M824.4 2085.7h0M814 2095.2h0M811.3 2102.7h0M814 2108.2h0M818.6 2110.2h0M820.7 2113.7h0M822.4 2113.7h0M788.3 2175.6h0" stroke="#d3d3d3" stroke-width="6.3" stroke-linecap="round" fill="none" />
<path d="M742.3 2078.6V2194.3H851.5" stroke="#000" stroke-width="1.8" fill="none" />
<line x1="765.9" y1="2194.3" x2="765.9" y2="2199.3" stroke="#000" stroke-width="1.8" />
<text x="765.9" y="2219.2" font-size="19.3" text-anchor="middle" fill="#000">−10</text>
<line x1="737.3" y1="2163.5" x2="742.3" y2="2163.5" stroke="#000" stroke-width="1.8" />
<text x="733.1" y="2170.35" font-size="19.3" text-anchor="end" fill="#000">−10</text>
<line x1="799" y1="2194.3" x2="799" y2="2199.3" stroke="#000" stroke-width="1.8" />
<text x="799" y="2219.2" font-size="19.3" text-anchor="middle" fill="#000">0</text>
<line x1="737.3" y1="2131.8" x2="742.3" y2="2131.8" stroke="#000" stroke-width="1.8" />
<text x="733.1" y="2138.65" font-size="19.3" text-anchor="end" fill="#000">0</text>
<line x1="832.1" y1="2194.3" x2="832.1" y2="2199.3" stroke="#000" stroke-width="1.8" />
<text x="832.1" y="2219.2" font-size="19.3" text-anchor="middle" fill="#000">10</text>
<line x1="737.3" y1="2100.1" x2="742.3" y2="2100.1" stroke="#000" stroke-width="1.8" />
<text x="733.1" y="2106.95" font-size="19.3" text-anchor="end" fill="#000">10</text>
<text x="795.03" y="2245.3" font-size="22.7" text-anchor="middle" fill="#000">tSNE_1</text>
<text x="687.3" y="2136.45" font-size="22.7" text-anchor="middle" fill="#000" transform="rotate(-90 687.3 2136.45)">tSNE_2</text>
<text x="855.8" y="2136.45" font-size="22.8" text-anchor="middle" font-weight="bold" fill="#000" transform="rotate(90 855.8 2136.45)">ELOVL4</text>
<path d="M146.4 2298.8h0M203.7 2282.8h0M184.1 2283.2h0M197.4 2285.5h0M196.8 2288h0M179.4 2304.9h0M197.8 2314.8h0M127.3 2316.5h0M155.5 2323.2h0M151.1 2325.4h0M163.8 2344h0M184.3 2324h0M190.8 2328.8h0M200.8 2334.8h0M166 2344.3h0" stroke="#d3d3d3" stroke-width="6.3" stroke-linecap="round" fill="none" />
<path d="M158.4 2284h0M141.5 2285.2h0M144.3 2309.1h0M144.5 2313.2h0M187.9 2274.1h0M195.1 2283.3h0M185.5 2287.7h0M165.7 2297.5h0M211.8 2297h0M178.6 2299.1h0M196.1 2300.5h0M186.3 2303.1h0M179.4 2307.5h0M131.4 2317.9h0M147.1 2320.5h0M162.5 2327.6h0M142.8 2335.4h0M150 2346.6h0M150.6 2350.9h0M145 2358.2h0M152.1 2364.6h0M202.3 2332h0M175.9 2337.7h0" stroke="#7c5df4" stroke-width="6.3" stroke-linecap="round" fill="none" />
<path d="M153.1 2307.3h0M168 2284.7h0M187.7 2343.5h0" stroke="#6a4cf6" stroke-width="6.3" stroke-linecap="round" fill="none" />
<path d="M152.7 2299.9h0M145.2 2307.3h0M149.7 2313.3h0M208.8 2289.3h0M168.3 2293h0M196.4 2294h0M208.3 2301.6h0M171.5 2305.1h0M205.1 2307.5h0M141.4 2326.4h0M145 2327.3h0M151.5 2339.3h0M158.3 2338.3h0M197.5 2321.4h0M173.4 2323.1h0M177.1 2325.9h0M165.9 2330h0M188.6 2336.5h0M190.5 2336.4h0M166.3 2357.1h0" stroke="#9e80ee" stroke-width="6.3" stroke-linecap="round" fill="none" />
<path d="M162.8 2287.2h0M142.5 2303.3h0M147.2 2311.4h0M191 2271.5h0M171.4 2278.3h0M168.5 2305.3h0M186.4 2310.7h0M151.8 2316.5h0M155.9 2318.2h0M133.3 2330.5h0M132.1 2336.9h0M130.7 2338.4h0M153.6 2343.7h0M146 2350.4h0M146.6 2350.6h0M149.9 2353.9h0M147.2 2355.4h0M159.4 2361.4h0M186.5 2324.9h0M186.5 2337.4h0M183 2337.9h0M175.3 2346.4h0M174.4 2351.3h0" stroke="#8f6ff1" stroke-width="6.3" stroke-linecap="round" fill="none" />
<path d="M150.5 2292.8h0M187.3 2288.8h0M150.2 2319.9h0M135.1 2332h0M157 2344.2h0M164.8 2348.2h0M142.1 2353.3h0M151.4 2368.9h0M163.8 2318.1h0M195.4 2324.4h0M185 2329.1h0M167.3 2338.3h0" stroke="#aa90ea" stroke-width="6.3" stroke-linecap="round" fill="none" />
<path d="M191.3 2276.8h0M197 2282.1h0M191.2 2285.6h0M204.1 2296.5h0M193.8 2341.4h0M173.6 2359.5h0" stroke="#d3d3d3" stroke-width="6.3" stroke-linecap="round" fill="none" />
<path d="M112.4 2261.4V2377.1H221.6" stroke="#000" stroke-width="1.8" fill="none" />
<line x1="136.9" y1="2377.1" x2="136.9" y2="2382.1" stroke="#000" stroke-width="1.8" />
<text x="136.9" y="2402" font-size="19.3" text-anchor="middle" fill="#000">−10</text>
<line x1="107.4" y1="2346.3" x2="112.4" y2="2346.3" stroke="#000" stroke-width="1.8" />
<text x="103.2" y="2353.15" font-size="19.3" text-anchor="end" fill="#000">−10</text>
<line x1="170" y1="2377.1" x2="170" y2="2382.1" stroke="#000" stroke-width="1.8" />
<text x="170" y="2402" font-size="19.3" text-anchor="middle" fill="#000">0</text>
<line x1="107.4" y1="2314.6" x2="112.4" y2="2314.6" stroke="#000" stroke-width="1.8" />
<text x="103.2" y="2321.45" font-size="19.3" text-anchor="end" fill="#000">0</text>
<line x1="203.1" y1="2377.1" x2="203.1" y2="2382.1" stroke="#000" stroke-width="1.8" />
<text x="203.1" y="2402" font-size="19.3" text-anchor="middle" fill="#000">10</text>
<line x1="107.4" y1="2282.9" x2="112.4" y2="2282.9" stroke="#000" stroke-width="1.8" />
<text x="103.2" y="2289.75" font-size="19.3" text-anchor="end" fill="#000">10</text>
<text x="166.03" y="2428.1" font-size="22.7" text-anchor="middle" fill="#000">tSNE_1</text>
<text x="57.4" y="2319.25" font-size="22.7" text-anchor="middle" fill="#000" transform="rotate(-90 57.4 2319.25)">tSNE_2</text>
<path d="M361.5 2289.4h0M368.3 2289.6h0M365.6 2295.5h0M352.8 2303.3h0M344.1 2308.2h0M344.9 2308.1h0M353.4 2308.4h0M362 2312.2h0M363.5 2315.8h0M413.3 2284.4h0M388.1 2282.4h0M384.9 2283.8h0M386.2 2290.6h0M395.5 2290.2h0M401 2291.9h0M387.8 2295.5h0M395.5 2298.2h0M380.3 2298.2h0M396.9 2300.2h0M399.9 2300.2h0M413.6 2303.1h0M394 2302.9h0M378.6 2305.9h0M390.1 2307h0M407 2306.9h0M394.4 2308.1h0M400 2308.4h0M419.3 2307.9h0M399.4 2313h0M402.3 2314.2h0M364.7 2318.3h0M340.3 2322.1h0M367.6 2322.5h0M352.7 2323.3h0M352 2327.7h0M352.6 2327.7h0M361.6 2334.3h0M361.6 2335.6h0M367.9 2333.6h0M352.2 2336.2h0M361.9 2340.8h0M370.1 2339.5h0M348.1 2346.1h0M364.5 2349.6h0M357.9 2367.4h0M403.8 2319.1h0M413.5 2321.7h0M407.6 2329.8h0M407.5 2330.9h0M373.6 2335.7h0M371.9 2338.4h0M391.7 2346.9h0" stroke="#d3d3d3" stroke-width="6.3" stroke-linecap="round" fill="none" />
<path d="M361.9 2287.7h0M369.5 2296.2h0M351.1 2301.8h0M365 2303.8h0M366.9 2306h0M356.5 2307.5h0M338.7 2311.2h0M379.5 2278.8h0M376.8 2284.6h0M398.3 2285.6h0M383.4 2286h0M374.6 2288h0M383.8 2294.4h0M390.6 2296.7h0M374.8 2298.9h0M391.3 2300.5h0M414.4 2300.4h0M380.3 2303.9h0M408.4 2306.6h0M380.7 2308.7h0M387.3 2308.5h0M384.7 2313.8h0M387.2 2313.5h0M378.4 2313.3h0M344.7 2316.6h0M348.2 2316.7h0M363.2 2322.7h0M363.9 2326.4h0M347.4 2327.2h0M357.5 2339.8h0M366.3 2341.4h0M341.1 2342.8h0M345.5 2345.3h0M342.1 2347.5h0M366.1 2350.6h0M358.6 2352.9h0M387.6 2317.6h0M393.6 2318.3h0M371.2 2320.2h0M376.4 2320.2h0M386.3 2323.1h0M378.4 2323.2h0M395.7 2323.5h0M403 2325.2h0M374.8 2335.4h0M372.2 2343.1h0M387.9 2345.1h0M388.5 2346.4h0M384 2350.8h0M383.9 2354.1h0M372.1 2357.2h0" stroke="#7c5df4" stroke-width="6.3" stroke-linecap="round" fill="none" />
<path d="M342.9 2298.2h0M354.7 2303.3h0M373.2 2291.5h0M361.9 2319.1h0M382.1 2330.6h0M382.9 2350.7h0" stroke="#6a4cf6" stroke-width="6.3" stroke-linecap="round" fill="none" />
<path d="M351.7 2307h0M396.6 2280.1h0M383.4 2281.5h0M375 2310.3h0M362.6 2365.2h0" stroke="#281bfc" stroke-width="6.3" stroke-linecap="round" fill="none" />
<path d="M347.7 2284.2h0M346 2286.1h0M353.6 2291.1h0M367 2293.1h0M342.3 2297.7h0M360.9 2299.7h0M364.6 2303.3h0M357.4 2307.4h0M333.3 2309.5h0M334.9 2309.7h0M339.4 2313.8h0M365.8 2315.6h0M402.3 2278.3h0M409.1 2284.3h0M393.3 2283h0M374.5 2286.3h0M387.9 2289h0M377 2289.6h0M399.8 2291.6h0M383.9 2292.3h0M393.5 2294.3h0M379.4 2295h0M391.3 2296.7h0M381 2298.7h0M393.2 2304.1h0M401.7 2305.5h0M419.7 2308.1h0M381 2310.4h0M385.9 2310h0M408.9 2311.4h0M332 2317.4h0M337.9 2317h0M361.6 2320.5h0M342 2319.6h0M345.7 2323.5h0M345.5 2324.6h0M357.7 2326.9h0M364.9 2327.6h0M350.8 2330.7h0M360.7 2333.2h0M366.1 2333.8h0M339.9 2335.3h0M355.3 2337.9h0M354.6 2343.4h0M343.2 2348.2h0M358 2354.9h0M363.5 2365h0M360.1 2367.1h0M384.5 2314.7h0M382 2316.3h0M390.3 2320.7h0M415.8 2321.3h0M372.9 2323.2h0M383.5 2330.8h0M371.2 2341.1h0M381.1 2344h0M379.5 2358.2h0" stroke="#9e80ee" stroke-width="6.3" stroke-linecap="round" fill="none" />
<path d="M364.4 2272.8h0M369.4 2293.2h0M362.2 2298.9h0M343.5 2301.6h0M341.4 2305.1h0M367.7 2306h0M366.2 2310.4h0M339.2 2314.6h0M404.7 2277.8h0M387.1 2283h0M391.3 2284.3h0M382.4 2287.5h0M396.9 2293.7h0M397.6 2303.1h0M388.7 2304h0M396.2 2306.5h0M386.5 2309.2h0M396.6 2313.7h0M398 2312.9h0M368.2 2318.6h0M355 2319.8h0M339.8 2321.6h0M363.1 2325.6h0M324.7 2327.1h0M337.7 2328.7h0M354.6 2328.9h0M342.5 2335.5h0M351.9 2335.5h0M356.1 2338.7h0M352.4 2338.8h0M343.2 2339.3h0M363.8 2341.1h0M355.1 2344.9h0M347.1 2346h0M341.1 2347.7h0M349.4 2360.8h0M355.2 2363.9h0M391.5 2316h0M375 2316.8h0M373.3 2317.5h0M386.5 2317.6h0M374.4 2320.9h0M381 2321h0M416.4 2322.1h0M397.7 2329.8h0M380.3 2331.8h0M375.9 2332.2h0M375.4 2333.2h0M381.6 2337.6h0M388.4 2339.4h0M375.5 2345.5h0M375.4 2350.7h0M375.8 2351h0" stroke="#8f6ff1" stroke-width="6.3" stroke-linecap="round" fill="none" />
<path d="M342.5 2289.2h0M351.1 2299.7h0M340.7 2310h0M362.1 2311.6h0M359.7 2312.9h0M391 2283.4h0M393.4 2281.8h0M405.1 2292.8h0M407.2 2293.3h0M387 2299.5h0M379 2310.2h0M370.4 2313.3h0M391.3 2315.2h0M342.9 2319h0M338.2 2327.6h0M354.4 2333.4h0M371.7 2319.6h0M378.6 2319.4h0" stroke="#aa90ea" stroke-width="6.3" stroke-linecap="round" fill="none" />
<path d="M341.3 2309.9h0M389.2 2282.1h0M394 2284.6h0M397.3 2288.5h0M405.1 2291.9h0M415.8 2298.4h0M404.9 2298.4h0M407.6 2303.8h0M402.3 2305.8h0M397.1 2308.4h0M385.3 2310.8h0M405.5 2310.1h0M409.5 2311.7h0M362.4 2350h0M359.7 2352.4h0M351.3 2356.7h0M390.9 2322h0M372.7 2324.4h0M372.3 2325.6h0M403.3 2326.9h0M403 2328.3h0M381.3 2327.4h0M397.7 2327.4h0M390.2 2331.6h0M372.7 2345.8h0M390.8 2347.1h0M384 2354.9h0" stroke="#d3d3d3" stroke-width="6.3" stroke-linecap="round" fill="none" />
<path d="M318.3 2261.4V2377.1H427.5" stroke="#000" stroke-width="1.8" fill="none" />
<line x1="342.2" y1="2377.1" x2="342.2" y2="2382.1" stroke="#000" stroke-width="1.8" />
<text x="342.2" y="2402" font-size="19.3" text-anchor="middle" fill="#000">−10</text>
<line x1="313.3" y1="2346.3" x2="318.3" y2="2346.3" stroke="#000" stroke-width="1.8" />
<text x="309.1" y="2353.15" font-size="19.3" text-anchor="end" fill="#000">−10</text>
<line x1="375.3" y1="2377.1" x2="375.3" y2="2382.1" stroke="#000" stroke-width="1.8" />
<text x="375.3" y="2402" font-size="19.3" text-anchor="middle" fill="#000">0</text>
<line x1="313.3" y1="2314.6" x2="318.3" y2="2314.6" stroke="#000" stroke-width="1.8" />
<text x="309.1" y="2321.45" font-size="19.3" text-anchor="end" fill="#000">0</text>
<line x1="408.4" y1="2377.1" x2="408.4" y2="2382.1" stroke="#000" stroke-width="1.8" />
<text x="408.4" y="2402" font-size="19.3" text-anchor="middle" fill="#000">10</text>
<line x1="313.3" y1="2282.9" x2="318.3" y2="2282.9" stroke="#000" stroke-width="1.8" />
<text x="309.1" y="2289.75" font-size="19.3" text-anchor="end" fill="#000">10</text>
<text x="371.33" y="2428.1" font-size="22.7" text-anchor="middle" fill="#000">tSNE_1</text>
<text x="263.3" y="2319.25" font-size="22.7" text-anchor="middle" fill="#000" transform="rotate(-90 263.3 2319.25)">tSNE_2</text>
<path d="M604.7 2270.7h0M607.8 2272.1h0M609.6 2272h0M609.3 2272.8h0M608.7 2272.5h0M607 2274.5h0M606.9 2275.4h0M606.8 2276.6h0M604.3 2275.5h0M610.4 2275.9h0M609.8 2276.8h0M610.4 2278.2h0M603.1 2278.4h0M606.8 2285.8h0M607.3 2286.2h0M607.9 2283.4h0M609.6 2291.4h0M611.5 2292.3h0M616.4 2295.4h0" stroke="#d3d3d3" stroke-width="6.3" stroke-linecap="round" fill="none" />
<path d="M604.4 2271.6h0" stroke="#aa90ea" stroke-width="6.3" stroke-linecap="round" fill="none" />
<path d="M536.4 2261.4V2377.1H645.6" stroke="#000" stroke-width="1.8" fill="none" />
<line x1="560.7" y1="2377.1" x2="560.7" y2="2382.1" stroke="#000" stroke-width="1.8" />
<text x="560.7" y="2402" font-size="19.3" text-anchor="middle" fill="#000">−10</text>
<line x1="531.4" y1="2346.3" x2="536.4" y2="2346.3" stroke="#000" stroke-width="1.8" />
<text x="527.2" y="2353.15" font-size="19.3" text-anchor="end" fill="#000">−10</text>
<line x1="593.8" y1="2377.1" x2="593.8" y2="2382.1" stroke="#000" stroke-width="1.8" />
<text x="593.8" y="2402" font-size="19.3" text-anchor="middle" fill="#000">0</text>
<line x1="531.4" y1="2314.6" x2="536.4" y2="2314.6" stroke="#000" stroke-width="1.8" />
<text x="527.2" y="2321.45" font-size="19.3" text-anchor="end" fill="#000">0</text>
<line x1="626.9" y1="2377.1" x2="626.9" y2="2382.1" stroke="#000" stroke-width="1.8" />
<text x="626.9" y="2402" font-size="19.3" text-anchor="middle" fill="#000">10</text>
<line x1="531.4" y1="2282.9" x2="536.4" y2="2282.9" stroke="#000" stroke-width="1.8" />
<text x="527.2" y="2289.75" font-size="19.3" text-anchor="end" fill="#000">10</text>
<text x="589.83" y="2428.1" font-size="22.7" text-anchor="middle" fill="#000">tSNE_1</text>
<text x="481.4" y="2319.25" font-size="22.7" text-anchor="middle" fill="#000" transform="rotate(-90 481.4 2319.25)">tSNE_2</text>
<path d="M824.7 2268.3h0M824.4 2268.5h0M814 2278h0M811.3 2285.5h0M814 2291h0M818.6 2293h0M820.7 2296.5h0M822.4 2296.5h0" stroke="#d3d3d3" stroke-width="6.3" stroke-linecap="round" fill="none" />
<path d="M788.3 2358.4h0" stroke="#8f6ff1" stroke-width="6.3" stroke-linecap="round" fill="none" />
<path d="M742.3 2261.4V2377.1H851.5" stroke="#000" stroke-width="1.8" fill="none" />
<line x1="765.9" y1="2377.1" x2="765.9" y2="2382.1" stroke="#000" stroke-width="1.8" />
<text x="765.9" y="2402" font-size="19.3" text-anchor="middle" fill="#000">−10</text>
<line x1="737.3" y1="2346.3" x2="742.3" y2="2346.3" stroke="#000" stroke-width="1.8" />
<text x="733.1" y="2353.15" font-size="19.3" text-anchor="end" fill="#000">−10</text>
<line x1="799" y1="2377.1" x2="799" y2="2382.1" stroke="#000" stroke-width="1.8" />
<text x="799" y="2402" font-size="19.3" text-anchor="middle" fill="#000">0</text>
<line x1="737.3" y1="2314.6" x2="742.3" y2="2314.6" stroke="#000" stroke-width="1.8" />
<text x="733.1" y="2321.45" font-size="19.3" text-anchor="end" fill="#000">0</text>
<line x1="832.1" y1="2377.1" x2="832.1" y2="2382.1" stroke="#000" stroke-width="1.8" />
<text x="832.1" y="2402" font-size="19.3" text-anchor="middle" fill="#000">10</text>
<line x1="737.3" y1="2282.9" x2="742.3" y2="2282.9" stroke="#000" stroke-width="1.8" />
<text x="733.1" y="2289.75" font-size="19.3" text-anchor="end" fill="#000">10</text>
<text x="795.03" y="2428.1" font-size="22.7" text-anchor="middle" fill="#000">tSNE_1</text>
<text x="687.3" y="2319.25" font-size="22.7" text-anchor="middle" fill="#000" transform="rotate(-90 687.3 2319.25)">tSNE_2</text>
<text x="855.8" y="2319.25" font-size="22.8" text-anchor="middle" font-weight="bold" fill="#000" transform="rotate(90 855.8 2319.25)">ELOVL6</text>
<text x="1097" y="1609" font-size="56" font-weight="bold" fill="#000" textLength="34.21" lengthAdjust="spacingAndGlyphs">g</text>
<text x="1379.6" y="1645" font-size="30.9" font-weight="bold" fill="#000">KEGG Enrichment in Adipocytes</text>
<rect x="1398.4" y="1679.8" width="398.4" height="700" fill="#ebebeb" />
<line x1="1426.35" y1="1679.8" x2="1426.35" y2="2379.8" stroke="#f4f4f4" stroke-width="1.3" />
<line x1="1518.05" y1="1679.8" x2="1518.05" y2="2379.8" stroke="#f4f4f4" stroke-width="1.3" />
<line x1="1609.75" y1="1679.8" x2="1609.75" y2="2379.8" stroke="#f4f4f4" stroke-width="1.3" />
<line x1="1701.45" y1="1679.8" x2="1701.45" y2="2379.8" stroke="#f4f4f4" stroke-width="1.3" />
<line x1="1793.15" y1="1679.8" x2="1793.15" y2="2379.8" stroke="#f4f4f4" stroke-width="1.3" />
<line x1="1472.2" y1="1679.8" x2="1472.2" y2="2379.8" stroke="#fff" stroke-width="2" />
<line x1="1472.2" y1="2379.8" x2="1472.2" y2="2385.3" stroke="#333" stroke-width="1.3" />
<text x="1475.4" y="2408" font-size="18.3" text-anchor="middle" fill="#3a3a3a" textLength="34.55" lengthAdjust="spacingAndGlyphs">0.30</text>
<line x1="1563.9" y1="1679.8" x2="1563.9" y2="2379.8" stroke="#fff" stroke-width="2" />
<line x1="1563.9" y1="2379.8" x2="1563.9" y2="2385.3" stroke="#333" stroke-width="1.3" />
<text x="1567.1" y="2408" font-size="18.3" text-anchor="middle" fill="#3a3a3a" textLength="34.55" lengthAdjust="spacingAndGlyphs">0.35</text>
<line x1="1655.6" y1="1679.8" x2="1655.6" y2="2379.8" stroke="#fff" stroke-width="2" />
<line x1="1655.6" y1="2379.8" x2="1655.6" y2="2385.3" stroke="#333" stroke-width="1.3" />
<text x="1658.8" y="2408" font-size="18.3" text-anchor="middle" fill="#3a3a3a" textLength="34.55" lengthAdjust="spacingAndGlyphs">0.40</text>
<line x1="1747.3" y1="1679.8" x2="1747.3" y2="2379.8" stroke="#fff" stroke-width="2" />
<line x1="1747.3" y1="2379.8" x2="1747.3" y2="2385.3" stroke="#333" stroke-width="1.3" />
<text x="1750.5" y="2408" font-size="18.3" text-anchor="middle" fill="#3a3a3a" textLength="34.55" lengthAdjust="spacingAndGlyphs">0.45</text>
<line x1="1398.4" y1="1719.5" x2="1796.8" y2="1719.5" stroke="#fff" stroke-width="2" />
<line x1="1398.4" y1="1752.21" x2="1796.8" y2="1752.21" stroke="#fff" stroke-width="2" />
<line x1="1398.4" y1="1784.92" x2="1796.8" y2="1784.92" stroke="#fff" stroke-width="2" />
<line x1="1398.4" y1="1817.63" x2="1796.8" y2="1817.63" stroke="#fff" stroke-width="2" />
<line x1="1398.4" y1="1850.34" x2="1796.8" y2="1850.34" stroke="#fff" stroke-width="2" />
<line x1="1398.4" y1="1883.05" x2="1796.8" y2="1883.05" stroke="#fff" stroke-width="2" />
<line x1="1398.4" y1="1915.76" x2="1796.8" y2="1915.76" stroke="#fff" stroke-width="2" />
<line x1="1398.4" y1="1948.47" x2="1796.8" y2="1948.47" stroke="#fff" stroke-width="2" />
<line x1="1398.4" y1="1981.18" x2="1796.8" y2="1981.18" stroke="#fff" stroke-width="2" />
<line x1="1398.4" y1="2013.89" x2="1796.8" y2="2013.89" stroke="#fff" stroke-width="2" />
<line x1="1398.4" y1="2046.6" x2="1796.8" y2="2046.6" stroke="#fff" stroke-width="2" />
<line x1="1398.4" y1="2079.31" x2="1796.8" y2="2079.31" stroke="#fff" stroke-width="2" />
<line x1="1398.4" y1="2112.02" x2="1796.8" y2="2112.02" stroke="#fff" stroke-width="2" />
<line x1="1398.4" y1="2144.73" x2="1796.8" y2="2144.73" stroke="#fff" stroke-width="2" />
<line x1="1398.4" y1="2177.44" x2="1796.8" y2="2177.44" stroke="#fff" stroke-width="2" />
<line x1="1398.4" y1="2210.15" x2="1796.8" y2="2210.15" stroke="#fff" stroke-width="2" />
<line x1="1398.4" y1="2242.86" x2="1796.8" y2="2242.86" stroke="#fff" stroke-width="2" />
<line x1="1398.4" y1="2275.57" x2="1796.8" y2="2275.57" stroke="#fff" stroke-width="2" />
<line x1="1398.4" y1="2308.28" x2="1796.8" y2="2308.28" stroke="#fff" stroke-width="2" />
<line x1="1398.4" y1="2340.99" x2="1796.8" y2="2340.99" stroke="#fff" stroke-width="2" />
<line x1="1392.2" y1="1719.5" x2="1398.4" y2="1719.5" stroke="#333" stroke-width="1.3" />
<text x="1387.2" y="1726.6" font-size="20.3" text-anchor="end" fill="#262626" textLength="411.34" lengthAdjust="spacingAndGlyphs">Parathyroid hormone synthesis, secretion and action</text>
<line x1="1392.2" y1="1752.21" x2="1398.4" y2="1752.21" stroke="#333" stroke-width="1.3" />
<text x="1387.2" y="1759.31" font-size="20.3" text-anchor="end" fill="#262626" textLength="192.09" lengthAdjust="spacingAndGlyphs">PPAR signaling pathway</text>
<line x1="1392.2" y1="1784.92" x2="1398.4" y2="1784.92" stroke="#333" stroke-width="1.3" />
<text x="1387.2" y="1792.02" font-size="20.3" text-anchor="end" fill="#262626" textLength="196.36" lengthAdjust="spacingAndGlyphs">Insulin signaling pathway</text>
<line x1="1392.2" y1="1817.63" x2="1398.4" y2="1817.63" stroke="#333" stroke-width="1.3" />
<text x="1387.2" y="1824.73" font-size="20.3" text-anchor="end" fill="#262626" textLength="231.66" lengthAdjust="spacingAndGlyphs">Choline metabolism in cancer</text>
<line x1="1392.2" y1="1850.34" x2="1398.4" y2="1850.34" stroke="#333" stroke-width="1.3" />
<text x="1387.2" y="1857.44" font-size="20.3" text-anchor="end" fill="#262626" textLength="182.29" lengthAdjust="spacingAndGlyphs">Th17 cell differentiation</text>
<line x1="1392.2" y1="1883.05" x2="1398.4" y2="1883.05" stroke="#333" stroke-width="1.3" />
<text x="1387.2" y="1890.15" font-size="20.3" text-anchor="end" fill="#262626" textLength="278.81" lengthAdjust="spacingAndGlyphs">Regulation of lipolysis in adipocytes</text>
<line x1="1392.2" y1="1915.76" x2="1398.4" y2="1915.76" stroke="#333" stroke-width="1.3" />
<text x="1387.2" y="1922.86" font-size="20.3" text-anchor="end" fill="#262626" textLength="220.91" lengthAdjust="spacingAndGlyphs">Glucagon signaling pathway</text>
<line x1="1392.2" y1="1948.47" x2="1398.4" y2="1948.47" stroke="#333" stroke-width="1.3" />
<text x="1387.2" y="1955.57" font-size="20.3" text-anchor="end" fill="#262626" textLength="194.4" lengthAdjust="spacingAndGlyphs">Apelin signaling pathway</text>
<line x1="1392.2" y1="1981.18" x2="1398.4" y2="1981.18" stroke="#333" stroke-width="1.3" />
<text x="1387.2" y="1988.28" font-size="20.3" text-anchor="end" fill="#262626" textLength="95.22" lengthAdjust="spacingAndGlyphs">Endocytosis</text>
<line x1="1392.2" y1="2013.89" x2="1398.4" y2="2013.89" stroke="#333" stroke-width="1.3" />
<text x="1387.2" y="2020.99" font-size="20.3" text-anchor="end" fill="#262626" textLength="141.38" lengthAdjust="spacingAndGlyphs">Adherens junction</text>
<line x1="1392.2" y1="2046.6" x2="1398.4" y2="2046.6" stroke="#333" stroke-width="1.3" />
<text x="1387.2" y="2053.7" font-size="20.3" text-anchor="end" fill="#262626" textLength="434.87" lengthAdjust="spacingAndGlyphs">AGE-RAGE signaling pathway in diabetic complications</text>
<line x1="1392.2" y1="2079.31" x2="1398.4" y2="2079.31" stroke="#333" stroke-width="1.3" />
<text x="1387.2" y="2086.41" font-size="20.3" text-anchor="end" fill="#262626" textLength="119.78" lengthAdjust="spacingAndGlyphs">Focal adhesion</text>
<line x1="1392.2" y1="2112.02" x2="1398.4" y2="2112.02" stroke="#333" stroke-width="1.3" />
<text x="1387.2" y="2119.12" font-size="20.3" text-anchor="end" fill="#262626" textLength="241.54" lengthAdjust="spacingAndGlyphs">Sphingolipid signaling pathway</text>
<line x1="1392.2" y1="2144.73" x2="1398.4" y2="2144.73" stroke="#333" stroke-width="1.3" />
<text x="1387.2" y="2151.83" font-size="20.3" text-anchor="end" fill="#262626" textLength="188.49" lengthAdjust="spacingAndGlyphs">FoxO signaling pathway</text>
<line x1="1392.2" y1="2177.44" x2="1398.4" y2="2177.44" stroke="#333" stroke-width="1.3" />
<text x="1387.2" y="2184.54" font-size="20.3" text-anchor="end" fill="#262626" textLength="306.28" lengthAdjust="spacingAndGlyphs">Adrenergic signaling in cardiomyocytes</text>
<line x1="1392.2" y1="2210.15" x2="1398.4" y2="2210.15" stroke="#333" stroke-width="1.3" />
<text x="1387.2" y="2217.25" font-size="20.3" text-anchor="end" fill="#262626" textLength="152.17" lengthAdjust="spacingAndGlyphs">Autophagy - animal</text>
<line x1="1392.2" y1="2242.86" x2="1398.4" y2="2242.86" stroke="#333" stroke-width="1.3" />
<text x="1387.2" y="2249.96" font-size="20.3" text-anchor="end" fill="#262626" textLength="255.27" lengthAdjust="spacingAndGlyphs">Adipocytokine signaling pathway</text>
<line x1="1392.2" y1="2275.57" x2="1398.4" y2="2275.57" stroke="#333" stroke-width="1.3" />
<text x="1387.2" y="2282.67" font-size="20.3" text-anchor="end" fill="#262626" textLength="237.55" lengthAdjust="spacingAndGlyphs">cGMP-PKG signaling pathway</text>
<line x1="1392.2" y1="2308.28" x2="1398.4" y2="2308.28" stroke="#333" stroke-width="1.3" />
<text x="1387.2" y="2315.38" font-size="20.3" text-anchor="end" fill="#262626" textLength="195.36" lengthAdjust="spacingAndGlyphs">AMPK signaling pathway</text>
<line x1="1392.2" y1="2340.99" x2="1398.4" y2="2340.99" stroke="#333" stroke-width="1.3" />
<text x="1387.2" y="2348.09" font-size="20.3" text-anchor="end" fill="#262626" textLength="136.45" lengthAdjust="spacingAndGlyphs">Insulin resistance</text>
<ellipse cx="1533.46" cy="1719.5" rx="15.1" ry="16.31" fill="#54278f" fill-opacity="0.88" stroke="#54278f" stroke-opacity="0.35" stroke-width="0.8"/>
<ellipse cx="1603.15" cy="1752.21" rx="10.5" ry="11.34" fill="#5b3596" fill-opacity="0.88" stroke="#5b3596" stroke-opacity="0.35" stroke-width="0.8"/>
<ellipse cx="1503.74" cy="1784.92" rx="18.4" ry="19.87" fill="#6447a6" fill-opacity="0.88" stroke="#6447a6" stroke-opacity="0.35" stroke-width="0.8"/>
<ellipse cx="1572.34" cy="1817.63" rx="14.2" ry="15.34" fill="#4586da" fill-opacity="0.88" stroke="#4586da" stroke-opacity="0.35" stroke-width="0.8"/>
<ellipse cx="1578.21" cy="1850.34" rx="14.8" ry="15.98" fill="#44a4e8" fill-opacity="0.88" stroke="#44a4e8" stroke-opacity="0.35" stroke-width="0.8"/>
<ellipse cx="1728.23" cy="1883.05" rx="7.9" ry="8.53" fill="#4aa9e8" fill-opacity="0.88" stroke="#4aa9e8" stroke-opacity="0.35" stroke-width="0.8"/>
<ellipse cx="1593.98" cy="1915.76" rx="14.2" ry="15.34" fill="#50ace6" fill-opacity="0.88" stroke="#50ace6" stroke-opacity="0.35" stroke-width="0.8"/>
<ellipse cx="1537.31" cy="1948.47" rx="19.8" ry="21.38" fill="#54aee4" fill-opacity="0.88" stroke="#54aee4" stroke-opacity="0.35" stroke-width="0.8"/>
<ellipse cx="1455.14" cy="1981.18" rx="34.2" ry="36.94" fill="#56afe3" fill-opacity="0.88" stroke="#56afe3" stroke-opacity="0.35" stroke-width="0.8"/>
<ellipse cx="1665.5" cy="2013.89" rx="11.2" ry="12.1" fill="#58b0e2" fill-opacity="0.88" stroke="#58b0e2" stroke-opacity="0.35" stroke-width="0.8"/>
<ellipse cx="1604.43" cy="2046.6" rx="15.8" ry="17.06" fill="#5ab1e1" fill-opacity="0.88" stroke="#5ab1e1" stroke-opacity="0.35" stroke-width="0.8"/>
<ellipse cx="1495.31" cy="2079.31" rx="28.3" ry="30.56" fill="#5cb2e0" fill-opacity="0.88" stroke="#5cb2e0" stroke-opacity="0.35" stroke-width="0.8"/>
<ellipse cx="1576.19" cy="2112.02" rx="18.4" ry="19.87" fill="#5db3df" fill-opacity="0.88" stroke="#5db3df" stroke-opacity="0.35" stroke-width="0.8"/>
<ellipse cx="1562.43" cy="2144.73" rx="20.4" ry="22.03" fill="#5eb3de" fill-opacity="0.88" stroke="#5eb3de" stroke-opacity="0.35" stroke-width="0.8"/>
<ellipse cx="1556.38" cy="2177.44" rx="21.4" ry="23.11" fill="#5fb4de" fill-opacity="0.88" stroke="#5fb4de" stroke-opacity="0.35" stroke-width="0.8"/>
<ellipse cx="1572.89" cy="2210.15" rx="20.4" ry="22.03" fill="#60b4dd" fill-opacity="0.88" stroke="#60b4dd" stroke-opacity="0.35" stroke-width="0.8"/>
<ellipse cx="1740.15" cy="2242.86" rx="11.9" ry="12.85" fill="#61b5dd" fill-opacity="0.88" stroke="#61b5dd" stroke-opacity="0.35" stroke-width="0.8"/>
<ellipse cx="1553.08" cy="2275.57" rx="25.7" ry="27.76" fill="#62b5dc" fill-opacity="0.88" stroke="#62b5dc" stroke-opacity="0.35" stroke-width="0.8"/>
<ellipse cx="1632.12" cy="2308.28" rx="20.4" ry="22.03" fill="#63b6dc" fill-opacity="0.88" stroke="#63b6dc" stroke-opacity="0.35" stroke-width="0.8"/>
<ellipse cx="1655.05" cy="2340.99" rx="19.8" ry="21.38" fill="#64b6db" fill-opacity="0.88" stroke="#64b6db" stroke-opacity="0.35" stroke-width="0.8"/>
<text x="1597.5" y="2464" font-size="36" text-anchor="middle" font-weight="bold" fill="#000" textLength="183.18" lengthAdjust="spacingAndGlyphs">Rich Factor</text>
<text x="1832.5" y="1767.8" font-size="37" fill="#000" font-style="italic" textLength="211.01" lengthAdjust="spacingAndGlyphs">Gene Number</text>
<rect x="1831.7" y="1791.3" width="75.7" height="35.9" fill="#f2f2f2" />
<rect x="1831.7" y="1828.8" width="75.7" height="48.4" fill="#f2f2f2" />
<rect x="1831.7" y="1878.8" width="75.7" height="65.6" fill="#f2f2f2" />
<rect x="1831.7" y="1946" width="75.7" height="80.7" fill="#f2f2f2" />
<ellipse cx="1869.55" cy="1808.9" rx="12.5" ry="13.38" fill="#2e2e2e" stroke="#222" stroke-width="0.8"/>
<text x="1925" y="1817.9" font-size="24.6" fill="#1a1a1a" textLength="25.45" lengthAdjust="spacingAndGlyphs">30</text>
<ellipse cx="1869.55" cy="1853" rx="18.4" ry="19.69" fill="#2e2e2e" stroke="#222" stroke-width="0.8"/>
<text x="1925" y="1862" font-size="24.6" fill="#1a1a1a" textLength="25.45" lengthAdjust="spacingAndGlyphs">40</text>
<ellipse cx="1869.55" cy="1912.3" rx="24.7" ry="26.43" fill="#2e2e2e" stroke="#222" stroke-width="0.8"/>
<text x="1925" y="1921.3" font-size="24.6" fill="#1a1a1a" textLength="25.45" lengthAdjust="spacingAndGlyphs">50</text>
<ellipse cx="1869.55" cy="1988" rx="30.3" ry="32.42" fill="#2e2e2e" stroke="#222" stroke-width="0.8"/>
<text x="1925" y="1997" font-size="24.6" fill="#1a1a1a" textLength="25.45" lengthAdjust="spacingAndGlyphs">60</text>
<text x="1831.6" y="2109.8" font-size="37" fill="#000" font-style="italic" textLength="98.13" lengthAdjust="spacingAndGlyphs">pvalue</text>
<defs><linearGradient id="pv" x1="0" y1="0" x2="0" y2="1"><stop offset="0" stop-color="#41007f"/><stop offset="0.09" stop-color="#45148a"/><stop offset="0.385" stop-color="#4c56ae"/><stop offset="0.68" stop-color="#3d8edd"/><stop offset="0.78" stop-color="#359fe8"/><stop offset="1" stop-color="#62b5db"/></linearGradient></defs>
<rect x="1830.8" y="2131.2" width="35.6" height="192.6" fill="url(#pv)" />
<line x1="1830.8" y1="2148.7" x2="1838" y2="2148.7" stroke="#d8d8ee" stroke-width="1.1" />
<line x1="1859.2" y1="2148.7" x2="1866.4" y2="2148.7" stroke="#d8d8ee" stroke-width="1.1" />
<text x="1883.2" y="2157.7" font-size="24.6" fill="#1a1a1a" textLength="57.88" lengthAdjust="spacingAndGlyphs">6e-05</text>
<line x1="1830.8" y1="2205.4" x2="1838" y2="2205.4" stroke="#d8d8ee" stroke-width="1.1" />
<line x1="1859.2" y1="2205.4" x2="1866.4" y2="2205.4" stroke="#d8d8ee" stroke-width="1.1" />
<text x="1883.2" y="2214.4" font-size="24.6" fill="#1a1a1a" textLength="57.88" lengthAdjust="spacingAndGlyphs">4e-05</text>
<line x1="1830.8" y1="2262.3" x2="1838" y2="2262.3" stroke="#d8d8ee" stroke-width="1.1" />
<line x1="1859.2" y1="2262.3" x2="1866.4" y2="2262.3" stroke="#d8d8ee" stroke-width="1.1" />
<text x="1883.2" y="2271.3" font-size="24.6" fill="#1a1a1a" textLength="57.88" lengthAdjust="spacingAndGlyphs">2e-05</text>
</svg>
</body>
</html>
